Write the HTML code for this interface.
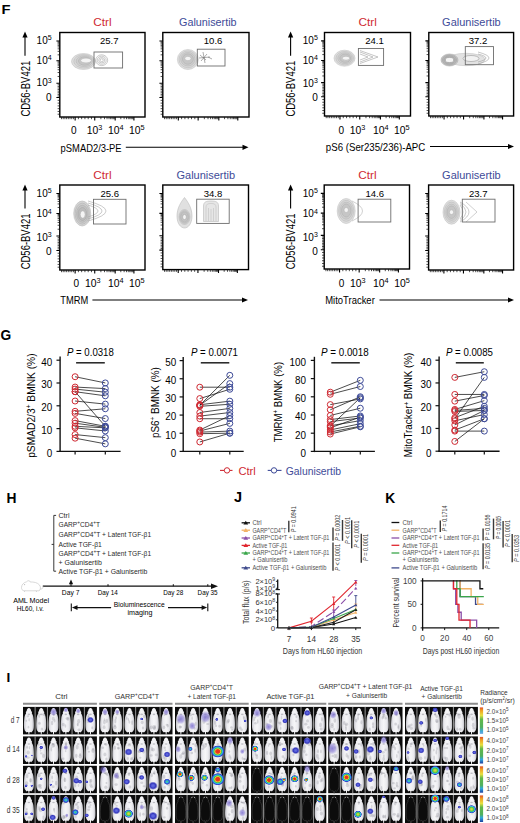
<!DOCTYPE html>
<html><head><meta charset="utf-8"><title>Figure</title>
<style>
html,body{margin:0;padding:0;background:#fff;}
body{width:520px;height:823px;overflow:hidden;}
svg{display:block;font-family:"Liberation Sans", sans-serif;}
</style></head><body>
<svg width="520" height="823" viewBox="0 0 520 823">
<text x="1.40" y="14.20" font-size="13.5" fill="#000" textLength="9.00" lengthAdjust="spacingAndGlyphs" font-weight="bold">F</text>
<text x="102.50" y="25.80" font-size="11.2" text-anchor="middle" fill="#cf2a33" textLength="18.40" lengthAdjust="spacingAndGlyphs">Ctrl</text>
<text x="207.80" y="25.80" font-size="11.2" text-anchor="middle" fill="#3e4b98" textLength="57.60" lengthAdjust="spacingAndGlyphs">Galunisertib</text>
<text x="367.70" y="25.80" font-size="11.2" text-anchor="middle" fill="#cf2a33" textLength="18.40" lengthAdjust="spacingAndGlyphs">Ctrl</text>
<text x="471.40" y="25.80" font-size="11.2" text-anchor="middle" fill="#3e4b98" textLength="58.60" lengthAdjust="spacingAndGlyphs">Galunisertib</text>
<text x="102.50" y="179.20" font-size="11.2" text-anchor="middle" fill="#cf2a33" textLength="18.40" lengthAdjust="spacingAndGlyphs">Ctrl</text>
<text x="205.80" y="179.20" font-size="11.2" text-anchor="middle" fill="#3e4b98" textLength="58.60" lengthAdjust="spacingAndGlyphs">Galunisertib</text>
<text x="367.40" y="179.20" font-size="11.2" text-anchor="middle" fill="#cf2a33" textLength="18.40" lengthAdjust="spacingAndGlyphs">Ctrl</text>
<text x="471.40" y="179.20" font-size="11.2" text-anchor="middle" fill="#3e4b98" textLength="58.60" lengthAdjust="spacingAndGlyphs">Galunisertib</text>
<ellipse cx="83.50" cy="61.50" rx="12.00" ry="8.00" fill="rgb(222,222,222)" stroke="rgb(196,196,196)" stroke-width="0.6"/>
<ellipse cx="83.90" cy="61.34" rx="10.08" ry="6.72" fill="rgb(214,214,214)" stroke="rgb(190,190,190)" stroke-width="0.6"/>
<ellipse cx="84.30" cy="61.18" rx="8.16" ry="5.44" fill="rgb(206,206,206)" stroke="rgb(184,184,184)" stroke-width="0.6"/>
<ellipse cx="84.70" cy="61.02" rx="6.24" ry="4.16" fill="rgb(198,198,198)" stroke="rgb(178,178,178)" stroke-width="0.6"/>
<ellipse cx="86.00" cy="60.50" rx="5.40" ry="2.40" fill="#f4f4f4" stroke="rgb(180,180,180)" stroke-width="0.6"/>
<ellipse cx="101.70" cy="60.20" rx="6.00" ry="5.40" fill="none" stroke="#9c9c9c" stroke-width="0.55"/>
<ellipse cx="101.70" cy="60.20" rx="4.50" ry="4.05" fill="none" stroke="#9c9c9c" stroke-width="0.55"/>
<ellipse cx="101.70" cy="60.20" rx="3.00" ry="2.70" fill="none" stroke="#9c9c9c" stroke-width="0.55"/>
<ellipse cx="101.70" cy="60.20" rx="1.60" ry="1.44" fill="none" stroke="#9c9c9c" stroke-width="0.55"/>
<rect x="94.00" y="52.00" width="28.60" height="16.00" fill="none" stroke="#6d6d6d" stroke-width="0.9" />
<text x="109.20" y="43.80" font-size="9.8" text-anchor="middle" textLength="18.60" lengthAdjust="spacingAndGlyphs">25.7</text>
<rect x="59.80" y="32.50" width="85.20" height="84.50" fill="none" stroke="#000" stroke-width="1.4" />
<path d="M56.40,40.95H59.80M56.40,60.81H59.80M56.40,83.20H59.80M56.40,97.56H59.80M75.14,117.00V120.40M94.73,117.00V120.40M115.18,117.00V120.40M133.92,117.00V120.40" stroke="#000" stroke-width="1.1" fill="none" />
<path d="M57.60,54.83H59.80M57.60,51.33H59.80M57.60,48.85H59.80M57.60,46.93H59.80M57.60,45.36H59.80M57.60,44.03H59.80M57.60,42.87H59.80M57.60,41.86H59.80M57.60,76.46H59.80M57.60,72.52H59.80M57.60,69.72H59.80M57.60,67.55H59.80M57.60,65.78H59.80M57.60,64.28H59.80M57.60,62.98H59.80M57.60,61.83H59.80M57.60,95.97H59.80M57.60,94.37H59.80M57.60,92.78H59.80M57.60,91.18H59.80M57.60,89.58H59.80M57.60,87.99H59.80M57.60,86.39H59.80M57.60,84.80H59.80M57.60,100.34H59.80M57.60,103.12H59.80M57.60,105.89H59.80M57.60,108.67H59.80M57.60,111.45H59.80M57.60,114.22H59.80M73.43,117.00V119.20M71.73,117.00V119.20M70.02,117.00V119.20M68.32,117.00V119.20M66.62,117.00V119.20M64.91,117.00V119.20M63.21,117.00V119.20M61.50,117.00V119.20M78.40,117.00V119.20M81.67,117.00V119.20M84.93,117.00V119.20M88.20,117.00V119.20M91.47,117.00V119.20M100.89,117.00V119.20M104.49,117.00V119.20M107.04,117.00V119.20M109.02,117.00V119.20M110.64,117.00V119.20M112.01,117.00V119.20M113.20,117.00V119.20M114.24,117.00V119.20M120.82,117.00V119.20M124.12,117.00V119.20M126.47,117.00V119.20M128.28,117.00V119.20M129.77,117.00V119.20M131.02,117.00V119.20M132.11,117.00V119.20M133.07,117.00V119.20" stroke="#111" stroke-width="0.75" fill="none" />
<ellipse cx="187.90" cy="59.50" rx="10.50" ry="10.00" fill="rgb(222,222,222)" stroke="rgb(196,196,196)" stroke-width="0.6"/>
<ellipse cx="187.90" cy="59.34" rx="8.82" ry="8.40" fill="rgb(214,214,214)" stroke="rgb(190,190,190)" stroke-width="0.6"/>
<ellipse cx="187.90" cy="59.18" rx="7.14" ry="6.80" fill="rgb(206,206,206)" stroke="rgb(184,184,184)" stroke-width="0.6"/>
<ellipse cx="187.90" cy="59.02" rx="5.46" ry="5.20" fill="rgb(198,198,198)" stroke="rgb(178,178,178)" stroke-width="0.6"/>
<ellipse cx="187.90" cy="58.50" rx="3.15" ry="2.20" fill="#f4f4f4" stroke="rgb(180,180,180)" stroke-width="0.6"/>
<path d="M200,55 L206,60 M201,61 L207,54 M203,52 L205,63 M208,57 L212,59 M199,58 L210,57" fill="none" stroke="#666" stroke-width="0.55"/>
<rect x="197.30" y="49.20" width="27.70" height="16.80" fill="none" stroke="#6d6d6d" stroke-width="0.9" />
<text x="213.10" y="43.80" font-size="9.8" text-anchor="middle" textLength="18.60" lengthAdjust="spacingAndGlyphs">10.6</text>
<rect x="162.80" y="32.50" width="86.20" height="84.50" fill="none" stroke="#000" stroke-width="1.4" />
<path d="M159.40,40.95H162.80M159.40,60.81H162.80M159.40,83.20H162.80M159.40,97.56H162.80M178.32,117.00V120.40M198.14,117.00V120.40M218.83,117.00V120.40M237.79,117.00V120.40" stroke="#000" stroke-width="1.1" fill="none" />
<path d="M160.60,54.83H162.80M160.60,51.33H162.80M160.60,48.85H162.80M160.60,46.93H162.80M160.60,45.36H162.80M160.60,44.03H162.80M160.60,42.87H162.80M160.60,41.86H162.80M160.60,76.46H162.80M160.60,72.52H162.80M160.60,69.72H162.80M160.60,67.55H162.80M160.60,65.78H162.80M160.60,64.28H162.80M160.60,62.98H162.80M160.60,61.83H162.80M160.60,95.97H162.80M160.60,94.37H162.80M160.60,92.78H162.80M160.60,91.18H162.80M160.60,89.58H162.80M160.60,87.99H162.80M160.60,86.39H162.80M160.60,84.80H162.80M160.60,100.34H162.80M160.60,103.12H162.80M160.60,105.89H162.80M160.60,108.67H162.80M160.60,111.45H162.80M160.60,114.22H162.80M176.59,117.00V119.20M174.87,117.00V119.20M173.14,117.00V119.20M171.42,117.00V119.20M169.70,117.00V119.20M167.97,117.00V119.20M166.25,117.00V119.20M164.52,117.00V119.20M181.62,117.00V119.20M184.92,117.00V119.20M188.23,117.00V119.20M191.53,117.00V119.20M194.84,117.00V119.20M204.37,117.00V119.20M208.01,117.00V119.20M210.60,117.00V119.20M212.60,117.00V119.20M214.24,117.00V119.20M215.63,117.00V119.20M216.83,117.00V119.20M217.88,117.00V119.20M224.54,117.00V119.20M227.88,117.00V119.20M230.25,117.00V119.20M232.09,117.00V119.20M233.59,117.00V119.20M234.86,117.00V119.20M235.96,117.00V119.20M236.93,117.00V119.20" stroke="#111" stroke-width="0.75" fill="none" />
<ellipse cx="344.50" cy="58.20" rx="10.50" ry="8.00" fill="rgb(222,222,222)" stroke="rgb(196,196,196)" stroke-width="0.6"/>
<ellipse cx="344.74" cy="58.20" rx="8.82" ry="6.72" fill="rgb(214,214,214)" stroke="rgb(190,190,190)" stroke-width="0.6"/>
<ellipse cx="344.98" cy="58.20" rx="7.14" ry="5.44" fill="rgb(206,206,206)" stroke="rgb(184,184,184)" stroke-width="0.6"/>
<ellipse cx="345.22" cy="58.20" rx="5.46" ry="4.16" fill="rgb(198,198,198)" stroke="rgb(178,178,178)" stroke-width="0.6"/>
<ellipse cx="346.00" cy="58.20" rx="3.67" ry="2.00" fill="#f4f4f4" stroke="rgb(180,180,180)" stroke-width="0.6"/>
<path d="M360.00,54.00 L368.00,57.00 L360.00,60.00" fill="none" stroke="#a0a0a0" stroke-width="0.6"/>
<path d="M360.00,52.00 L373.00,57.00 L360.00,62.00" fill="none" stroke="#a0a0a0" stroke-width="0.6"/>
<path d="M360.00,50.50 L378.00,57.00 L360.00,63.50" fill="none" stroke="#a0a0a0" stroke-width="0.6"/>
<rect x="358.40" y="48.50" width="25.20" height="16.90" fill="none" stroke="#6d6d6d" stroke-width="0.9" />
<text x="374.50" y="43.80" font-size="9.8" text-anchor="middle" textLength="18.60" lengthAdjust="spacingAndGlyphs">24.1</text>
<rect x="324.50" y="32.50" width="86.00" height="83.50" fill="none" stroke="#000" stroke-width="1.4" />
<path d="M321.10,40.85H324.50M321.10,60.47H324.50M321.10,82.60H324.50M321.10,96.80H324.50M339.98,116.00V119.40M359.76,116.00V119.40M380.40,116.00V119.40M399.32,116.00V119.40" stroke="#000" stroke-width="1.1" fill="none" />
<path d="M322.30,54.57H324.50M322.30,51.11H324.50M322.30,48.66H324.50M322.30,46.76H324.50M322.30,45.20H324.50M322.30,43.89H324.50M322.30,42.75H324.50M322.30,41.75H324.50M322.30,75.94H324.50M322.30,72.04H324.50M322.30,69.28H324.50M322.30,67.13H324.50M322.30,65.38H324.50M322.30,63.90H324.50M322.30,62.62H324.50M322.30,61.48H324.50M322.30,95.22H324.50M322.30,93.64H324.50M322.30,92.06H324.50M322.30,90.49H324.50M322.30,88.91H324.50M322.30,87.33H324.50M322.30,85.75H324.50M322.30,84.18H324.50M322.30,99.54H324.50M322.30,102.28H324.50M322.30,105.03H324.50M322.30,107.77H324.50M322.30,110.51H324.50M322.30,113.26H324.50M338.26,116.00V118.20M336.54,116.00V118.20M334.82,116.00V118.20M333.10,116.00V118.20M331.38,116.00V118.20M329.66,116.00V118.20M327.94,116.00V118.20M326.22,116.00V118.20M343.28,116.00V118.20M346.57,116.00V118.20M349.87,116.00V118.20M353.17,116.00V118.20M356.46,116.00V118.20M365.97,116.00V118.20M369.61,116.00V118.20M372.19,116.00V118.20M374.19,116.00V118.20M375.82,116.00V118.20M377.20,116.00V118.20M378.40,116.00V118.20M379.46,116.00V118.20M386.10,116.00V118.20M389.43,116.00V118.20M391.79,116.00V118.20M393.62,116.00V118.20M395.12,116.00V118.20M396.39,116.00V118.20M397.49,116.00V118.20M398.45,116.00V118.20" stroke="#111" stroke-width="0.75" fill="none" />
<ellipse cx="466.00" cy="59.50" rx="19.00" ry="6.20" fill="#e2e2e2" stroke="#c4c4c4" stroke-width="0.6"/>
<ellipse cx="449.50" cy="60.00" rx="8.50" ry="6.00" fill="rgb(197,197,197)" stroke="rgb(171,171,171)" stroke-width="0.6"/>
<ellipse cx="449.50" cy="60.00" rx="7.14" ry="5.04" fill="rgb(189,189,189)" stroke="rgb(165,165,165)" stroke-width="0.6"/>
<ellipse cx="449.50" cy="60.00" rx="5.78" ry="4.08" fill="rgb(181,181,181)" stroke="rgb(159,159,159)" stroke-width="0.6"/>
<ellipse cx="449.50" cy="60.00" rx="4.25" ry="2.52" fill="#f4f4f4" stroke="rgb(155,155,155)" stroke-width="0.6"/>
<ellipse cx="471.00" cy="58.50" rx="8.00" ry="3.00" fill="#f2f2f2" stroke="#9a9a9a" stroke-width="0.6"/>
<path d="M478.00,54.00 Q494.00,58.00 478.00,62.00" fill="none" stroke="#a0a0a0" stroke-width="0.6"/>
<path d="M478.00,52.00 Q500.00,58.00 478.00,64.00" fill="none" stroke="#a0a0a0" stroke-width="0.6"/>
<rect x="465.30" y="46.60" width="28.20" height="18.10" fill="none" stroke="#6d6d6d" stroke-width="0.9" />
<text x="478.00" y="43.80" font-size="9.8" text-anchor="middle" textLength="18.60" lengthAdjust="spacingAndGlyphs">37.2</text>
<rect x="428.80" y="32.50" width="84.80" height="83.50" fill="none" stroke="#000" stroke-width="1.4" />
<path d="M425.40,40.85H428.80M425.40,60.47H428.80M425.40,82.60H428.80M425.40,96.80H428.80M444.06,116.00V119.40M463.57,116.00V119.40M483.92,116.00V119.40M502.58,116.00V119.40" stroke="#000" stroke-width="1.1" fill="none" />
<path d="M426.60,54.57H428.80M426.60,51.11H428.80M426.60,48.66H428.80M426.60,46.76H428.80M426.60,45.20H428.80M426.60,43.89H428.80M426.60,42.75H428.80M426.60,41.75H428.80M426.60,75.94H428.80M426.60,72.04H428.80M426.60,69.28H428.80M426.60,67.13H428.80M426.60,65.38H428.80M426.60,63.90H428.80M426.60,62.62H428.80M426.60,61.48H428.80M426.60,95.22H428.80M426.60,93.64H428.80M426.60,92.06H428.80M426.60,90.49H428.80M426.60,88.91H428.80M426.60,87.33H428.80M426.60,85.75H428.80M426.60,84.18H428.80M426.60,99.54H428.80M426.60,102.28H428.80M426.60,105.03H428.80M426.60,107.77H428.80M426.60,110.51H428.80M426.60,113.26H428.80M442.37,116.00V118.20M440.67,116.00V118.20M438.98,116.00V118.20M437.28,116.00V118.20M435.58,116.00V118.20M433.89,116.00V118.20M432.19,116.00V118.20M430.50,116.00V118.20M447.31,116.00V118.20M450.57,116.00V118.20M453.82,116.00V118.20M457.07,116.00V118.20M460.32,116.00V118.20M469.69,116.00V118.20M473.28,116.00V118.20M475.82,116.00V118.20M477.79,116.00V118.20M479.40,116.00V118.20M480.77,116.00V118.20M481.95,116.00V118.20M482.99,116.00V118.20M489.54,116.00V118.20M492.82,116.00V118.20M495.15,116.00V118.20M496.96,116.00V118.20M498.44,116.00V118.20M499.69,116.00V118.20M500.77,116.00V118.20M501.72,116.00V118.20" stroke="#111" stroke-width="0.75" fill="none" />
<ellipse cx="82.20" cy="213.50" rx="8.50" ry="12.50" fill="rgb(212,212,212)" stroke="rgb(186,186,186)" stroke-width="0.6"/>
<ellipse cx="82.28" cy="213.66" rx="7.14" ry="10.50" fill="rgb(204,204,204)" stroke="rgb(180,180,180)" stroke-width="0.6"/>
<ellipse cx="82.36" cy="213.82" rx="5.78" ry="8.50" fill="rgb(196,196,196)" stroke="rgb(174,174,174)" stroke-width="0.6"/>
<ellipse cx="82.44" cy="213.98" rx="4.42" ry="6.50" fill="rgb(188,188,188)" stroke="rgb(168,168,168)" stroke-width="0.6"/>
<ellipse cx="82.70" cy="214.50" rx="2.55" ry="3.75" fill="#f4f4f4" stroke="rgb(170,170,170)" stroke-width="0.6"/>
<path d="M88.00,205.00 Q108.00,211.00 88.00,217.00" fill="none" stroke="#a8a8a8" stroke-width="0.6"/>
<path d="M88.00,203.00 Q116.00,211.00 88.00,219.00" fill="none" stroke="#a8a8a8" stroke-width="0.6"/>
<path d="M88.00,201.00 Q124.00,211.00 88.00,221.00" fill="none" stroke="#a8a8a8" stroke-width="0.6"/>
<rect x="93.50" y="199.30" width="32.50" height="24.70" fill="none" stroke="#6d6d6d" stroke-width="0.9" />
<text x="109.70" y="196.80" font-size="9.8" text-anchor="middle" textLength="18.60" lengthAdjust="spacingAndGlyphs">25.6</text>
<rect x="59.80" y="185.00" width="85.20" height="85.00" fill="none" stroke="#000" stroke-width="1.4" />
<path d="M56.40,193.50H59.80M56.40,213.47H59.80M56.40,236.00H59.80M56.40,250.45H59.80M75.14,270.00V273.40M94.73,270.00V273.40M115.18,270.00V273.40M133.92,270.00V273.40" stroke="#000" stroke-width="1.1" fill="none" />
<path d="M57.60,207.46H59.80M57.60,203.94H59.80M57.60,201.45H59.80M57.60,199.51H59.80M57.60,197.93H59.80M57.60,196.59H59.80M57.60,195.44H59.80M57.60,194.41H59.80M57.60,229.22H59.80M57.60,225.25H59.80M57.60,222.44H59.80M57.60,220.26H59.80M57.60,218.47H59.80M57.60,216.96H59.80M57.60,215.66H59.80M57.60,214.51H59.80M57.60,248.84H59.80M57.60,247.24H59.80M57.60,245.63H59.80M57.60,244.03H59.80M57.60,242.42H59.80M57.60,240.82H59.80M57.60,239.21H59.80M57.60,237.61H59.80M57.60,253.24H59.80M57.60,256.04H59.80M57.60,258.83H59.80M57.60,261.62H59.80M57.60,264.41H59.80M57.60,267.21H59.80M73.43,270.00V272.20M71.73,270.00V272.20M70.02,270.00V272.20M68.32,270.00V272.20M66.62,270.00V272.20M64.91,270.00V272.20M63.21,270.00V272.20M61.50,270.00V272.20M78.40,270.00V272.20M81.67,270.00V272.20M84.93,270.00V272.20M88.20,270.00V272.20M91.47,270.00V272.20M100.89,270.00V272.20M104.49,270.00V272.20M107.04,270.00V272.20M109.02,270.00V272.20M110.64,270.00V272.20M112.01,270.00V272.20M113.20,270.00V272.20M114.24,270.00V272.20M120.82,270.00V272.20M124.12,270.00V272.20M126.47,270.00V272.20M128.28,270.00V272.20M129.77,270.00V272.20M131.02,270.00V272.20M132.11,270.00V272.20M133.07,270.00V272.20" stroke="#111" stroke-width="0.75" fill="none" />
<path d="M184.5,197.5 C188,202 192,208 192,216 C192,224 188,228 184.5,228 C181,228 177,224 177,216 C177,208 181,202 184.5,197.5 Z" fill="#e0e0e0" stroke="#bcbcbc" stroke-width="0.6"/>
<ellipse cx="184.50" cy="217.00" rx="5.50" ry="7.50" fill="rgb(212,212,212)" stroke="rgb(186,186,186)" stroke-width="0.6"/>
<ellipse cx="184.50" cy="217.00" rx="4.62" ry="6.30" fill="rgb(204,204,204)" stroke="rgb(180,180,180)" stroke-width="0.6"/>
<ellipse cx="184.50" cy="217.00" rx="3.74" ry="5.10" fill="rgb(196,196,196)" stroke="rgb(174,174,174)" stroke-width="0.6"/>
<ellipse cx="184.50" cy="217.00" rx="1.92" ry="2.62" fill="#f4f4f4" stroke="rgb(170,170,170)" stroke-width="0.6"/>
<path d="M203.5,221.5 L203.5,206 C203.5,202 206,201 211,201 C216,201 218.5,202 218.5,206 L218.5,221.5 Z" fill="#e6e6e6" stroke="#b8b8b8" stroke-width="0.6"/>
<path d="M206,221 L206,207 C206,204 208,203.5 211,203.5 C214,203.5 216,204 216,207 L216,221 M208.5,221 L208.5,208 M213.5,221 L213.5,208 M211,221 L211,209" fill="none" stroke="#bbbbbb" stroke-width="0.5"/>
<rect x="196.70" y="199.20" width="32.50" height="24.20" fill="none" stroke="#6d6d6d" stroke-width="0.9" />
<text x="213.00" y="196.80" font-size="9.8" text-anchor="middle" textLength="18.60" lengthAdjust="spacingAndGlyphs">34.8</text>
<rect x="162.80" y="185.00" width="85.70" height="84.60" fill="none" stroke="#000" stroke-width="1.4" />
<path d="M159.40,193.46H162.80M159.40,213.34H162.80M159.40,235.76H162.80M159.40,250.14H162.80M178.23,269.60V273.00M197.94,269.60V273.00M218.50,269.60V273.00M237.36,269.60V273.00" stroke="#000" stroke-width="1.1" fill="none" />
<path d="M160.60,207.36H162.80M160.60,203.86H162.80M160.60,201.37H162.80M160.60,199.44H162.80M160.60,197.87H162.80M160.60,196.54H162.80M160.60,195.39H162.80M160.60,194.37H162.80M160.60,229.01H162.80M160.60,225.06H162.80M160.60,222.26H162.80M160.60,220.09H162.80M160.60,218.31H162.80M160.60,216.81H162.80M160.60,215.51H162.80M160.60,214.37H162.80M160.60,248.54H162.80M160.60,246.95H162.80M160.60,245.35H162.80M160.60,243.75H162.80M160.60,242.15H162.80M160.60,240.55H162.80M160.60,238.96H162.80M160.60,237.36H162.80M160.60,252.92H162.80M160.60,255.70H162.80M160.60,258.48H162.80M160.60,261.26H162.80M160.60,264.04H162.80M160.60,266.82H162.80M176.51,269.60V271.80M174.80,269.60V271.80M173.08,269.60V271.80M171.37,269.60V271.80M169.66,269.60V271.80M167.94,269.60V271.80M166.23,269.60V271.80M164.51,269.60V271.80M181.51,269.60V271.80M184.80,269.60V271.80M188.08,269.60V271.80M191.37,269.60V271.80M194.65,269.60V271.80M204.13,269.60V271.80M207.75,269.60V271.80M210.32,269.60V271.80M212.31,269.60V271.80M213.94,269.60V271.80M215.32,269.60V271.80M216.51,269.60V271.80M217.56,269.60V271.80M224.18,269.60V271.80M227.50,269.60V271.80M229.86,269.60V271.80M231.68,269.60V271.80M233.18,269.60V271.80M234.44,269.60V271.80M235.53,269.60V271.80M236.50,269.60V271.80" stroke="#111" stroke-width="0.75" fill="none" />
<ellipse cx="346.20" cy="211.00" rx="9.00" ry="12.50" fill="rgb(222,222,222)" stroke="rgb(196,196,196)" stroke-width="0.6"/>
<ellipse cx="346.20" cy="210.84" rx="7.56" ry="10.50" fill="rgb(214,214,214)" stroke="rgb(190,190,190)" stroke-width="0.6"/>
<ellipse cx="346.20" cy="210.68" rx="6.12" ry="8.50" fill="rgb(206,206,206)" stroke="rgb(184,184,184)" stroke-width="0.6"/>
<ellipse cx="346.20" cy="210.52" rx="4.68" ry="6.50" fill="rgb(198,198,198)" stroke="rgb(178,178,178)" stroke-width="0.6"/>
<ellipse cx="346.20" cy="210.00" rx="2.25" ry="2.50" fill="#f4f4f4" stroke="rgb(180,180,180)" stroke-width="0.6"/>
<path d="M352.00,201.00 Q373.00,211.00 352.00,221.00" fill="none" stroke="#b0b0b0" stroke-width="0.6"/>
<rect x="358.10" y="199.20" width="32.70" height="22.80" fill="none" stroke="#6d6d6d" stroke-width="0.9" />
<text x="374.80" y="196.80" font-size="9.8" text-anchor="middle" textLength="18.60" lengthAdjust="spacingAndGlyphs">14.6</text>
<rect x="324.20" y="185.00" width="85.30" height="84.00" fill="none" stroke="#000" stroke-width="1.4" />
<path d="M320.80,193.40H324.20M320.80,213.14H324.20M320.80,235.40H324.20M320.80,249.68H324.20M339.55,269.00V272.40M359.17,269.00V272.40M379.64,269.00V272.40M398.41,269.00V272.40" stroke="#000" stroke-width="1.1" fill="none" />
<path d="M322.00,207.20H324.20M322.00,203.72H324.20M322.00,201.26H324.20M322.00,199.34H324.20M322.00,197.78H324.20M322.00,196.46H324.20M322.00,195.31H324.20M322.00,194.30H324.20M322.00,228.70H324.20M322.00,224.78H324.20M322.00,222.00H324.20M322.00,219.84H324.20M322.00,218.08H324.20M322.00,216.59H324.20M322.00,215.30H324.20M322.00,214.16H324.20M322.00,248.09H324.20M322.00,246.51H324.20M322.00,244.92H324.20M322.00,243.33H324.20M322.00,241.75H324.20M322.00,240.16H324.20M322.00,238.57H324.20M322.00,236.99H324.20M322.00,252.44H324.20M322.00,255.20H324.20M322.00,257.96H324.20M322.00,260.72H324.20M322.00,263.48H324.20M322.00,266.24H324.20M337.85,269.00V271.20M336.14,269.00V271.20M334.44,269.00V271.20M332.73,269.00V271.20M331.02,269.00V271.20M329.32,269.00V271.20M327.61,269.00V271.20M325.91,269.00V271.20M342.82,269.00V271.20M346.09,269.00V271.20M349.36,269.00V271.20M352.63,269.00V271.20M355.90,269.00V271.20M365.34,269.00V271.20M368.94,269.00V271.20M371.50,269.00V271.20M373.48,269.00V271.20M375.10,269.00V271.20M376.47,269.00V271.20M377.66,269.00V271.20M378.71,269.00V271.20M385.29,269.00V271.20M388.60,269.00V271.20M390.94,269.00V271.20M392.76,269.00V271.20M394.25,269.00V271.20M395.50,269.00V271.20M396.59,269.00V271.20M397.55,269.00V271.20" stroke="#111" stroke-width="0.75" fill="none" />
<ellipse cx="451.50" cy="212.20" rx="8.50" ry="12.00" fill="rgb(222,222,222)" stroke="rgb(196,196,196)" stroke-width="0.6"/>
<ellipse cx="451.50" cy="212.20" rx="7.14" ry="10.08" fill="rgb(214,214,214)" stroke="rgb(190,190,190)" stroke-width="0.6"/>
<ellipse cx="451.50" cy="212.20" rx="5.78" ry="8.16" fill="rgb(206,206,206)" stroke="rgb(184,184,184)" stroke-width="0.6"/>
<ellipse cx="451.50" cy="212.20" rx="4.42" ry="6.24" fill="rgb(198,198,198)" stroke="rgb(178,178,178)" stroke-width="0.6"/>
<ellipse cx="451.50" cy="212.20" rx="2.12" ry="2.40" fill="#f4f4f4" stroke="rgb(180,180,180)" stroke-width="0.6"/>
<path d="M460.00,205.00 Q466.00,212.00 460.00,219.00" fill="none" stroke="#a8a8a8" stroke-width="0.6"/>
<path d="M460.00,203.50 Q472.00,212.00 460.00,220.50" fill="none" stroke="#a8a8a8" stroke-width="0.6"/>
<path d="M460.00,202.00 Q478.00,212.00 460.00,222.00" fill="none" stroke="#a8a8a8" stroke-width="0.6"/>
<path d="M466.00,202.00 L477.00,212.00 L466.00,222.00" fill="none" stroke="#b0b0b0" stroke-width="0.6"/>
<rect x="462.30" y="199.20" width="32.70" height="22.80" fill="none" stroke="#6d6d6d" stroke-width="0.9" />
<text x="478.20" y="196.80" font-size="9.8" text-anchor="middle" textLength="18.60" lengthAdjust="spacingAndGlyphs">23.7</text>
<rect x="428.60" y="185.00" width="85.00" height="85.00" fill="none" stroke="#000" stroke-width="1.4" />
<path d="M425.20,193.50H428.60M425.20,213.47H428.60M425.20,236.00H428.60M425.20,250.45H428.60M443.90,270.00V273.40M463.45,270.00V273.40M483.85,270.00V273.40M502.55,270.00V273.40" stroke="#000" stroke-width="1.1" fill="none" />
<path d="M426.40,207.46H428.60M426.40,203.94H428.60M426.40,201.45H428.60M426.40,199.51H428.60M426.40,197.93H428.60M426.40,196.59H428.60M426.40,195.44H428.60M426.40,194.41H428.60M426.40,229.22H428.60M426.40,225.25H428.60M426.40,222.44H428.60M426.40,220.26H428.60M426.40,218.47H428.60M426.40,216.96H428.60M426.40,215.66H428.60M426.40,214.51H428.60M426.40,248.84H428.60M426.40,247.24H428.60M426.40,245.63H428.60M426.40,244.03H428.60M426.40,242.42H428.60M426.40,240.82H428.60M426.40,239.21H428.60M426.40,237.61H428.60M426.40,253.24H428.60M426.40,256.04H428.60M426.40,258.83H428.60M426.40,261.62H428.60M426.40,264.41H428.60M426.40,267.21H428.60M442.20,270.00V272.20M440.50,270.00V272.20M438.80,270.00V272.20M437.10,270.00V272.20M435.40,270.00V272.20M433.70,270.00V272.20M432.00,270.00V272.20M430.30,270.00V272.20M447.16,270.00V272.20M450.42,270.00V272.20M453.68,270.00V272.20M456.93,270.00V272.20M460.19,270.00V272.20M469.59,270.00V272.20M473.18,270.00V272.20M475.73,270.00V272.20M477.71,270.00V272.20M479.32,270.00V272.20M480.69,270.00V272.20M481.87,270.00V272.20M482.92,270.00V272.20M489.48,270.00V272.20M492.77,270.00V272.20M495.11,270.00V272.20M496.92,270.00V272.20M498.40,270.00V272.20M499.65,270.00V272.20M500.74,270.00V272.20M501.69,270.00V272.20" stroke="#111" stroke-width="0.75" fill="none" />
<text x="51.60" y="44.20" font-size="10.2" text-anchor="end" textLength="15.00" lengthAdjust="spacingAndGlyphs">10<tspan dy="-3.8" font-size="7.2">5</tspan></text>
<text x="51.60" y="64.20" font-size="10.2" text-anchor="end" textLength="15.00" lengthAdjust="spacingAndGlyphs">10<tspan dy="-3.8" font-size="7.2">4</tspan></text>
<text x="51.60" y="86.40" font-size="10.2" text-anchor="end" textLength="15.00" lengthAdjust="spacingAndGlyphs">10<tspan dy="-3.8" font-size="7.2">3</tspan></text>
<text x="51.60" y="101.10" font-size="10.2" text-anchor="end" textLength="5.60" lengthAdjust="spacingAndGlyphs">0</text>
<text x="29.60" y="116.60" font-size="12.6" textLength="55.80" lengthAdjust="spacingAndGlyphs" transform="rotate(-90 29.60 116.60)">CD56-BV421</text>
<line x1="25.00" y1="55.80" x2="25.00" y2="36.50" stroke="#000" stroke-width="1.1" />
<path d="M22.40,37.50 L25.00,31.50 L27.60,37.50 Z" stroke="#231f20" stroke-width="0" fill="#000" />
<text x="317.80" y="44.20" font-size="10.2" text-anchor="end" textLength="15.00" lengthAdjust="spacingAndGlyphs">10<tspan dy="-3.8" font-size="7.2">5</tspan></text>
<text x="317.80" y="64.20" font-size="10.2" text-anchor="end" textLength="15.00" lengthAdjust="spacingAndGlyphs">10<tspan dy="-3.8" font-size="7.2">4</tspan></text>
<text x="317.80" y="86.60" font-size="10.2" text-anchor="end" textLength="15.00" lengthAdjust="spacingAndGlyphs">10<tspan dy="-3.8" font-size="7.2">3</tspan></text>
<text x="317.80" y="101.10" font-size="10.2" text-anchor="end" textLength="5.60" lengthAdjust="spacingAndGlyphs">0</text>
<text x="295.20" y="116.60" font-size="12.6" textLength="55.80" lengthAdjust="spacingAndGlyphs" transform="rotate(-90 295.20 116.60)">CD56-BV421</text>
<line x1="290.60" y1="55.80" x2="290.60" y2="36.50" stroke="#000" stroke-width="1.1" />
<path d="M288.00,37.50 L290.60,31.50 L293.20,37.50 Z" stroke="#231f20" stroke-width="0" fill="#000" />
<text x="51.60" y="196.60" font-size="10.2" text-anchor="end" textLength="15.00" lengthAdjust="spacingAndGlyphs">10<tspan dy="-3.8" font-size="7.2">5</tspan></text>
<text x="51.60" y="217.30" font-size="10.2" text-anchor="end" textLength="15.00" lengthAdjust="spacingAndGlyphs">10<tspan dy="-3.8" font-size="7.2">4</tspan></text>
<text x="51.60" y="240.90" font-size="10.2" text-anchor="end" textLength="15.00" lengthAdjust="spacingAndGlyphs">10<tspan dy="-3.8" font-size="7.2">3</tspan></text>
<text x="51.60" y="254.60" font-size="10.2" text-anchor="end" textLength="5.60" lengthAdjust="spacingAndGlyphs">0</text>
<text x="29.60" y="269.30" font-size="12.6" textLength="55.80" lengthAdjust="spacingAndGlyphs" transform="rotate(-90 29.60 269.30)">CD56-BV421</text>
<line x1="25.00" y1="208.50" x2="25.00" y2="189.50" stroke="#000" stroke-width="1.1" />
<path d="M22.40,190.50 L25.00,184.50 L27.60,190.50 Z" stroke="#231f20" stroke-width="0" fill="#000" />
<text x="317.80" y="196.60" font-size="10.2" text-anchor="end" textLength="15.00" lengthAdjust="spacingAndGlyphs">10<tspan dy="-3.8" font-size="7.2">5</tspan></text>
<text x="317.80" y="217.30" font-size="10.2" text-anchor="end" textLength="15.00" lengthAdjust="spacingAndGlyphs">10<tspan dy="-3.8" font-size="7.2">4</tspan></text>
<text x="317.80" y="240.90" font-size="10.2" text-anchor="end" textLength="15.00" lengthAdjust="spacingAndGlyphs">10<tspan dy="-3.8" font-size="7.2">3</tspan></text>
<text x="317.80" y="254.60" font-size="10.2" text-anchor="end" textLength="5.60" lengthAdjust="spacingAndGlyphs">0</text>
<text x="295.20" y="269.30" font-size="12.6" textLength="55.80" lengthAdjust="spacingAndGlyphs" transform="rotate(-90 295.20 269.30)">CD56-BV421</text>
<line x1="290.60" y1="208.50" x2="290.60" y2="189.50" stroke="#000" stroke-width="1.1" />
<path d="M288.00,190.50 L290.60,184.50 L293.20,190.50 Z" stroke="#231f20" stroke-width="0" fill="#000" />
<text x="73.90" y="133.90" font-size="10.2" text-anchor="middle" textLength="5.60" lengthAdjust="spacingAndGlyphs">0</text>
<text x="86.70" y="133.90" font-size="10.2" textLength="15.60" lengthAdjust="spacingAndGlyphs">10<tspan dy="-3.8" font-size="7.2">3</tspan></text>
<text x="107.90" y="133.90" font-size="10.2" textLength="15.60" lengthAdjust="spacingAndGlyphs">10<tspan dy="-3.8" font-size="7.2">4</tspan></text>
<text x="129.00" y="133.90" font-size="10.2" textLength="15.60" lengthAdjust="spacingAndGlyphs">10<tspan dy="-3.8" font-size="7.2">5</tspan></text>
<text x="341.30" y="133.90" font-size="10.2" text-anchor="middle" textLength="5.60" lengthAdjust="spacingAndGlyphs">0</text>
<text x="349.80" y="133.90" font-size="10.2" textLength="15.60" lengthAdjust="spacingAndGlyphs">10<tspan dy="-3.8" font-size="7.2">3</tspan></text>
<text x="372.90" y="133.90" font-size="10.2" textLength="15.60" lengthAdjust="spacingAndGlyphs">10<tspan dy="-3.8" font-size="7.2">4</tspan></text>
<text x="394.00" y="133.90" font-size="10.2" textLength="15.60" lengthAdjust="spacingAndGlyphs">10<tspan dy="-3.8" font-size="7.2">5</tspan></text>
<text x="76.40" y="286.90" font-size="10.2" text-anchor="middle" textLength="5.60" lengthAdjust="spacingAndGlyphs">0</text>
<text x="84.90" y="286.90" font-size="10.2" textLength="15.60" lengthAdjust="spacingAndGlyphs">10<tspan dy="-3.8" font-size="7.2">3</tspan></text>
<text x="108.00" y="286.90" font-size="10.2" textLength="15.60" lengthAdjust="spacingAndGlyphs">10<tspan dy="-3.8" font-size="7.2">4</tspan></text>
<text x="129.10" y="286.90" font-size="10.2" textLength="15.60" lengthAdjust="spacingAndGlyphs">10<tspan dy="-3.8" font-size="7.2">5</tspan></text>
<text x="341.50" y="286.90" font-size="10.2" text-anchor="middle" textLength="5.60" lengthAdjust="spacingAndGlyphs">0</text>
<text x="350.00" y="286.90" font-size="10.2" textLength="15.60" lengthAdjust="spacingAndGlyphs">10<tspan dy="-3.8" font-size="7.2">3</tspan></text>
<text x="373.10" y="286.90" font-size="10.2" textLength="15.60" lengthAdjust="spacingAndGlyphs">10<tspan dy="-3.8" font-size="7.2">4</tspan></text>
<text x="394.20" y="286.90" font-size="10.2" textLength="15.60" lengthAdjust="spacingAndGlyphs">10<tspan dy="-3.8" font-size="7.2">5</tspan></text>
<text x="60.60" y="151.50" font-size="11.4" textLength="61.00" lengthAdjust="spacingAndGlyphs">pSMAD2/3-PE</text>
<line x1="125.80" y1="147.30" x2="244.50" y2="147.30" stroke="#000" stroke-width="1.1" />
<path d="M242.50,144.70 L248.50,147.30 L242.50,149.90 Z" stroke="#231f20" stroke-width="0" fill="#000" />
<text x="325.80" y="151.20" font-size="11.4" textLength="99.50" lengthAdjust="spacingAndGlyphs">pS6 (Ser235/236)-APC</text>
<line x1="430.00" y1="146.50" x2="510.00" y2="146.50" stroke="#000" stroke-width="1.1" />
<path d="M508.00,143.90 L514.00,146.50 L508.00,149.10 Z" stroke="#231f20" stroke-width="0" fill="#000" />
<text x="60.20" y="303.80" font-size="11.4" textLength="28.00" lengthAdjust="spacingAndGlyphs">TMRM</text>
<line x1="92.40" y1="300.00" x2="244.00" y2="300.00" stroke="#000" stroke-width="1.1" />
<path d="M242.00,297.40 L248.00,300.00 L242.00,302.60 Z" stroke="#231f20" stroke-width="0" fill="#000" />
<text x="325.20" y="303.80" font-size="11.4" textLength="49.60" lengthAdjust="spacingAndGlyphs">MitoTracker</text>
<line x1="379.50" y1="300.00" x2="510.00" y2="300.00" stroke="#000" stroke-width="1.1" />
<path d="M508.00,297.40 L514.00,300.00 L508.00,302.60 Z" stroke="#231f20" stroke-width="0" fill="#000" />
<text x="0.40" y="340.20" font-size="13.8" fill="#000" font-weight="bold">G</text>
<path d="M75.10,376.73L105.30,382.93M75.10,387.05L105.30,388.60M75.10,389.10L105.30,392.20M75.10,391.70L105.30,395.82M75.10,391.70L105.30,426.30M75.10,401.00L105.30,404.10M75.10,411.32L105.30,408.75M75.10,413.38L105.30,418.55M75.10,420.62L105.30,426.30M75.10,423.20L105.30,427.32M75.10,426.30L105.30,427.85M75.10,427.85L105.30,430.95M75.10,434.57L105.30,437.65M75.10,438.18L105.30,443.85" stroke="#111" stroke-width="0.75" fill="none" />
<circle cx="75.10" cy="376.73" r="3.0" fill="none" stroke="#cf2a33" stroke-width="1.0"/>
<circle cx="75.10" cy="387.05" r="3.0" fill="none" stroke="#cf2a33" stroke-width="1.0"/>
<circle cx="75.10" cy="389.10" r="3.0" fill="none" stroke="#cf2a33" stroke-width="1.0"/>
<circle cx="75.10" cy="391.70" r="3.0" fill="none" stroke="#cf2a33" stroke-width="1.0"/>
<circle cx="75.10" cy="391.70" r="3.0" fill="none" stroke="#cf2a33" stroke-width="1.0"/>
<circle cx="75.10" cy="401.00" r="3.0" fill="none" stroke="#cf2a33" stroke-width="1.0"/>
<circle cx="75.10" cy="411.32" r="3.0" fill="none" stroke="#cf2a33" stroke-width="1.0"/>
<circle cx="75.10" cy="413.38" r="3.0" fill="none" stroke="#cf2a33" stroke-width="1.0"/>
<circle cx="75.10" cy="420.62" r="3.0" fill="none" stroke="#cf2a33" stroke-width="1.0"/>
<circle cx="75.10" cy="423.20" r="3.0" fill="none" stroke="#cf2a33" stroke-width="1.0"/>
<circle cx="75.10" cy="426.30" r="3.0" fill="none" stroke="#cf2a33" stroke-width="1.0"/>
<circle cx="75.10" cy="427.85" r="3.0" fill="none" stroke="#cf2a33" stroke-width="1.0"/>
<circle cx="75.10" cy="434.57" r="3.0" fill="none" stroke="#cf2a33" stroke-width="1.0"/>
<circle cx="75.10" cy="438.18" r="3.0" fill="none" stroke="#cf2a33" stroke-width="1.0"/>
<circle cx="105.30" cy="382.93" r="3.0" fill="none" stroke="#3e4b98" stroke-width="1.0"/>
<circle cx="105.30" cy="388.60" r="3.0" fill="none" stroke="#3e4b98" stroke-width="1.0"/>
<circle cx="105.30" cy="392.20" r="3.0" fill="none" stroke="#3e4b98" stroke-width="1.0"/>
<circle cx="105.30" cy="395.82" r="3.0" fill="none" stroke="#3e4b98" stroke-width="1.0"/>
<circle cx="105.30" cy="426.30" r="3.0" fill="none" stroke="#3e4b98" stroke-width="1.0"/>
<circle cx="105.30" cy="404.10" r="3.0" fill="none" stroke="#3e4b98" stroke-width="1.0"/>
<circle cx="105.30" cy="408.75" r="3.0" fill="none" stroke="#3e4b98" stroke-width="1.0"/>
<circle cx="105.30" cy="418.55" r="3.0" fill="none" stroke="#3e4b98" stroke-width="1.0"/>
<circle cx="105.30" cy="426.30" r="3.0" fill="none" stroke="#3e4b98" stroke-width="1.0"/>
<circle cx="105.30" cy="427.32" r="3.0" fill="none" stroke="#3e4b98" stroke-width="1.0"/>
<circle cx="105.30" cy="427.85" r="3.0" fill="none" stroke="#3e4b98" stroke-width="1.0"/>
<circle cx="105.30" cy="430.95" r="3.0" fill="none" stroke="#3e4b98" stroke-width="1.0"/>
<circle cx="105.30" cy="437.65" r="3.0" fill="none" stroke="#3e4b98" stroke-width="1.0"/>
<circle cx="105.30" cy="443.85" r="3.0" fill="none" stroke="#3e4b98" stroke-width="1.0"/>
<line x1="60.10" y1="356.60" x2="60.10" y2="452.10" stroke="#111" stroke-width="1.4" />
<line x1="59.40" y1="451.40" x2="120.60" y2="451.40" stroke="#111" stroke-width="1.4" />
<line x1="56.50" y1="451.40" x2="60.10" y2="451.40" stroke="#111" stroke-width="1.2" />
<text x="52.30" y="456.70" font-size="10.8" text-anchor="end" textLength="5.50" lengthAdjust="spacingAndGlyphs">0</text>
<line x1="56.50" y1="428.60" x2="60.10" y2="428.60" stroke="#111" stroke-width="1.2" />
<text x="52.30" y="433.90" font-size="10.8" text-anchor="end" textLength="11.00" lengthAdjust="spacingAndGlyphs">10</text>
<line x1="56.50" y1="405.80" x2="60.10" y2="405.80" stroke="#111" stroke-width="1.2" />
<text x="52.30" y="411.10" font-size="10.8" text-anchor="end" textLength="11.00" lengthAdjust="spacingAndGlyphs">20</text>
<line x1="56.50" y1="383.00" x2="60.10" y2="383.00" stroke="#111" stroke-width="1.2" />
<text x="52.30" y="388.30" font-size="10.8" text-anchor="end" textLength="11.00" lengthAdjust="spacingAndGlyphs">30</text>
<line x1="56.50" y1="360.20" x2="60.10" y2="360.20" stroke="#111" stroke-width="1.2" />
<text x="52.30" y="365.50" font-size="10.8" text-anchor="end" textLength="11.00" lengthAdjust="spacingAndGlyphs">40</text>
<line x1="75.10" y1="451.40" x2="75.10" y2="454.60" stroke="#111" stroke-width="1.2" />
<line x1="105.30" y1="451.40" x2="105.30" y2="454.60" stroke="#111" stroke-width="1.2" />
<text x="67.00" y="356.30" font-size="10" textLength="46.80" lengthAdjust="spacingAndGlyphs"><tspan font-style="italic">P</tspan> = 0.0318</text>
<line x1="76.10" y1="362.80" x2="104.80" y2="362.80" stroke="#222" stroke-width="1.5" />
<text x="34.70" y="457.80" font-size="10.9" textLength="104.40" lengthAdjust="spacingAndGlyphs" transform="rotate(-90 34.70 457.80)">pSMAD2/3<tspan dy="-3.5" font-size="7">+</tspan><tspan dy="3.5"> BMNK (%)</tspan></text>
<path d="M199.80,387.20L229.80,387.20M199.80,398.57L229.80,389.27M199.80,405.25L229.80,375.32M199.80,405.25L229.80,383.60M199.80,404.75L229.80,401.15M199.80,406.32L229.80,404.25M199.80,412.52L229.80,408.38M199.80,416.12L229.80,412.52M199.80,418.73L229.80,418.73M199.80,430.07L229.80,415.62M199.80,431.00L229.80,423.38M199.80,432.15L229.80,431.10M199.80,433.70L229.80,433.18M199.80,441.95L229.80,433.18" stroke="#111" stroke-width="0.75" fill="none" />
<circle cx="199.80" cy="387.20" r="3.0" fill="none" stroke="#cf2a33" stroke-width="1.0"/>
<circle cx="199.80" cy="398.57" r="3.0" fill="none" stroke="#cf2a33" stroke-width="1.0"/>
<circle cx="199.80" cy="405.25" r="3.0" fill="none" stroke="#cf2a33" stroke-width="1.0"/>
<circle cx="199.80" cy="405.25" r="3.0" fill="none" stroke="#cf2a33" stroke-width="1.0"/>
<circle cx="199.80" cy="404.75" r="3.0" fill="none" stroke="#cf2a33" stroke-width="1.0"/>
<circle cx="199.80" cy="406.32" r="3.0" fill="none" stroke="#cf2a33" stroke-width="1.0"/>
<circle cx="199.80" cy="412.52" r="3.0" fill="none" stroke="#cf2a33" stroke-width="1.0"/>
<circle cx="199.80" cy="416.12" r="3.0" fill="none" stroke="#cf2a33" stroke-width="1.0"/>
<circle cx="199.80" cy="418.73" r="3.0" fill="none" stroke="#cf2a33" stroke-width="1.0"/>
<circle cx="199.80" cy="430.07" r="3.0" fill="none" stroke="#cf2a33" stroke-width="1.0"/>
<circle cx="199.80" cy="431.00" r="3.0" fill="none" stroke="#cf2a33" stroke-width="1.0"/>
<circle cx="199.80" cy="432.15" r="3.0" fill="none" stroke="#cf2a33" stroke-width="1.0"/>
<circle cx="199.80" cy="433.70" r="3.0" fill="none" stroke="#cf2a33" stroke-width="1.0"/>
<circle cx="199.80" cy="441.95" r="3.0" fill="none" stroke="#cf2a33" stroke-width="1.0"/>
<circle cx="229.80" cy="387.20" r="3.0" fill="none" stroke="#3e4b98" stroke-width="1.0"/>
<circle cx="229.80" cy="389.27" r="3.0" fill="none" stroke="#3e4b98" stroke-width="1.0"/>
<circle cx="229.80" cy="375.32" r="3.0" fill="none" stroke="#3e4b98" stroke-width="1.0"/>
<circle cx="229.80" cy="383.60" r="3.0" fill="none" stroke="#3e4b98" stroke-width="1.0"/>
<circle cx="229.80" cy="401.15" r="3.0" fill="none" stroke="#3e4b98" stroke-width="1.0"/>
<circle cx="229.80" cy="404.25" r="3.0" fill="none" stroke="#3e4b98" stroke-width="1.0"/>
<circle cx="229.80" cy="408.38" r="3.0" fill="none" stroke="#3e4b98" stroke-width="1.0"/>
<circle cx="229.80" cy="412.52" r="3.0" fill="none" stroke="#3e4b98" stroke-width="1.0"/>
<circle cx="229.80" cy="418.73" r="3.0" fill="none" stroke="#3e4b98" stroke-width="1.0"/>
<circle cx="229.80" cy="415.62" r="3.0" fill="none" stroke="#3e4b98" stroke-width="1.0"/>
<circle cx="229.80" cy="423.38" r="3.0" fill="none" stroke="#3e4b98" stroke-width="1.0"/>
<circle cx="229.80" cy="431.10" r="3.0" fill="none" stroke="#3e4b98" stroke-width="1.0"/>
<circle cx="229.80" cy="433.18" r="3.0" fill="none" stroke="#3e4b98" stroke-width="1.0"/>
<circle cx="229.80" cy="433.18" r="3.0" fill="none" stroke="#3e4b98" stroke-width="1.0"/>
<line x1="183.20" y1="357.00" x2="183.20" y2="452.10" stroke="#111" stroke-width="1.4" />
<line x1="182.50" y1="451.40" x2="243.70" y2="451.40" stroke="#111" stroke-width="1.4" />
<line x1="179.60" y1="451.40" x2="183.20" y2="451.40" stroke="#111" stroke-width="1.2" />
<text x="176.20" y="456.70" font-size="10.8" text-anchor="end" textLength="5.50" lengthAdjust="spacingAndGlyphs">0</text>
<line x1="179.60" y1="433.24" x2="183.20" y2="433.24" stroke="#111" stroke-width="1.2" />
<text x="176.20" y="438.54" font-size="10.8" text-anchor="end" textLength="11.00" lengthAdjust="spacingAndGlyphs">10</text>
<line x1="179.60" y1="415.08" x2="183.20" y2="415.08" stroke="#111" stroke-width="1.2" />
<text x="176.20" y="420.38" font-size="10.8" text-anchor="end" textLength="11.00" lengthAdjust="spacingAndGlyphs">20</text>
<line x1="179.60" y1="396.92" x2="183.20" y2="396.92" stroke="#111" stroke-width="1.2" />
<text x="176.20" y="402.22" font-size="10.8" text-anchor="end" textLength="11.00" lengthAdjust="spacingAndGlyphs">30</text>
<line x1="179.60" y1="378.76" x2="183.20" y2="378.76" stroke="#111" stroke-width="1.2" />
<text x="176.20" y="384.06" font-size="10.8" text-anchor="end" textLength="11.00" lengthAdjust="spacingAndGlyphs">40</text>
<line x1="179.60" y1="360.60" x2="183.20" y2="360.60" stroke="#111" stroke-width="1.2" />
<text x="176.20" y="365.90" font-size="10.8" text-anchor="end" textLength="11.00" lengthAdjust="spacingAndGlyphs">50</text>
<line x1="199.80" y1="451.40" x2="199.80" y2="454.60" stroke="#111" stroke-width="1.2" />
<line x1="229.80" y1="451.40" x2="229.80" y2="454.60" stroke="#111" stroke-width="1.2" />
<text x="191.00" y="356.30" font-size="10" textLength="47.00" lengthAdjust="spacingAndGlyphs"><tspan font-style="italic">P</tspan> = 0.0071</text>
<line x1="200.80" y1="362.80" x2="229.30" y2="362.80" stroke="#222" stroke-width="1.5" />
<text x="159.00" y="438.10" font-size="10.9" textLength="71.00" lengthAdjust="spacingAndGlyphs" transform="rotate(-90 159.00 438.10)">pS6<tspan dy="-3.5" font-size="7">+</tspan><tspan dy="3.5"> BMNK (%)</tspan></text>
<path d="M330.30,392.20L360.30,380.32M330.30,394.27L360.30,386.52M330.30,404.60L360.30,398.93M330.30,409.77L360.30,396.75M330.30,415.45L360.30,408.23M330.30,426.25L360.30,397.75M330.30,419.57L360.30,415.98M330.30,421.65L360.30,418.02M330.30,425.77L360.30,420.62M330.30,427.85L360.30,417.00M330.30,429.93L360.30,423.73M330.30,431.98L360.30,426.25M330.30,434.05L360.30,426.82" stroke="#111" stroke-width="0.75" fill="none" />
<circle cx="330.30" cy="392.20" r="3.0" fill="none" stroke="#cf2a33" stroke-width="1.0"/>
<circle cx="330.30" cy="394.27" r="3.0" fill="none" stroke="#cf2a33" stroke-width="1.0"/>
<circle cx="330.30" cy="404.60" r="3.0" fill="none" stroke="#cf2a33" stroke-width="1.0"/>
<circle cx="330.30" cy="409.77" r="3.0" fill="none" stroke="#cf2a33" stroke-width="1.0"/>
<circle cx="330.30" cy="415.45" r="3.0" fill="none" stroke="#cf2a33" stroke-width="1.0"/>
<circle cx="330.30" cy="426.25" r="3.0" fill="none" stroke="#cf2a33" stroke-width="1.0"/>
<circle cx="330.30" cy="419.57" r="3.0" fill="none" stroke="#cf2a33" stroke-width="1.0"/>
<circle cx="330.30" cy="421.65" r="3.0" fill="none" stroke="#cf2a33" stroke-width="1.0"/>
<circle cx="330.30" cy="425.77" r="3.0" fill="none" stroke="#cf2a33" stroke-width="1.0"/>
<circle cx="330.30" cy="427.85" r="3.0" fill="none" stroke="#cf2a33" stroke-width="1.0"/>
<circle cx="330.30" cy="429.93" r="3.0" fill="none" stroke="#cf2a33" stroke-width="1.0"/>
<circle cx="330.30" cy="431.98" r="3.0" fill="none" stroke="#cf2a33" stroke-width="1.0"/>
<circle cx="330.30" cy="434.05" r="3.0" fill="none" stroke="#cf2a33" stroke-width="1.0"/>
<circle cx="360.30" cy="380.32" r="3.0" fill="none" stroke="#3e4b98" stroke-width="1.0"/>
<circle cx="360.30" cy="386.52" r="3.0" fill="none" stroke="#3e4b98" stroke-width="1.0"/>
<circle cx="360.30" cy="398.93" r="3.0" fill="none" stroke="#3e4b98" stroke-width="1.0"/>
<circle cx="360.30" cy="396.75" r="3.0" fill="none" stroke="#3e4b98" stroke-width="1.0"/>
<circle cx="360.30" cy="408.23" r="3.0" fill="none" stroke="#3e4b98" stroke-width="1.0"/>
<circle cx="360.30" cy="397.75" r="3.0" fill="none" stroke="#3e4b98" stroke-width="1.0"/>
<circle cx="360.30" cy="415.98" r="3.0" fill="none" stroke="#3e4b98" stroke-width="1.0"/>
<circle cx="360.30" cy="418.02" r="3.0" fill="none" stroke="#3e4b98" stroke-width="1.0"/>
<circle cx="360.30" cy="420.62" r="3.0" fill="none" stroke="#3e4b98" stroke-width="1.0"/>
<circle cx="360.30" cy="417.00" r="3.0" fill="none" stroke="#3e4b98" stroke-width="1.0"/>
<circle cx="360.30" cy="423.73" r="3.0" fill="none" stroke="#3e4b98" stroke-width="1.0"/>
<circle cx="360.30" cy="426.25" r="3.0" fill="none" stroke="#3e4b98" stroke-width="1.0"/>
<circle cx="360.30" cy="426.82" r="3.0" fill="none" stroke="#3e4b98" stroke-width="1.0"/>
<line x1="314.40" y1="356.80" x2="314.40" y2="452.10" stroke="#111" stroke-width="1.4" />
<line x1="313.70" y1="451.40" x2="374.90" y2="451.40" stroke="#111" stroke-width="1.4" />
<line x1="310.80" y1="451.40" x2="314.40" y2="451.40" stroke="#111" stroke-width="1.2" />
<text x="305.90" y="456.70" font-size="10.8" text-anchor="end" textLength="5.50" lengthAdjust="spacingAndGlyphs">0</text>
<line x1="310.80" y1="433.20" x2="314.40" y2="433.20" stroke="#111" stroke-width="1.2" />
<text x="305.90" y="438.50" font-size="10.8" text-anchor="end" textLength="11.00" lengthAdjust="spacingAndGlyphs">20</text>
<line x1="310.80" y1="415.00" x2="314.40" y2="415.00" stroke="#111" stroke-width="1.2" />
<text x="305.90" y="420.30" font-size="10.8" text-anchor="end" textLength="11.00" lengthAdjust="spacingAndGlyphs">40</text>
<line x1="310.80" y1="396.80" x2="314.40" y2="396.80" stroke="#111" stroke-width="1.2" />
<text x="305.90" y="402.10" font-size="10.8" text-anchor="end" textLength="11.00" lengthAdjust="spacingAndGlyphs">60</text>
<line x1="310.80" y1="378.60" x2="314.40" y2="378.60" stroke="#111" stroke-width="1.2" />
<text x="305.90" y="383.90" font-size="10.8" text-anchor="end" textLength="11.00" lengthAdjust="spacingAndGlyphs">80</text>
<line x1="310.80" y1="360.40" x2="314.40" y2="360.40" stroke="#111" stroke-width="1.2" />
<text x="305.90" y="365.70" font-size="10.8" text-anchor="end" textLength="16.50" lengthAdjust="spacingAndGlyphs">100</text>
<line x1="330.30" y1="451.40" x2="330.30" y2="454.60" stroke="#111" stroke-width="1.2" />
<line x1="360.30" y1="451.40" x2="360.30" y2="454.60" stroke="#111" stroke-width="1.2" />
<text x="321.00" y="356.30" font-size="10" textLength="47.70" lengthAdjust="spacingAndGlyphs"><tspan font-style="italic">P</tspan> = 0.0018</text>
<line x1="331.30" y1="362.80" x2="359.80" y2="362.80" stroke="#222" stroke-width="1.5" />
<text x="281.90" y="442.30" font-size="10.9" textLength="80.40" lengthAdjust="spacingAndGlyphs" transform="rotate(-90 281.90 442.30)">TMRM<tspan dy="-3.5" font-size="7">+</tspan><tspan dy="3.5"> BMNK (%)</tspan></text>
<path d="M454.80,377.40L484.30,371.73M454.80,394.45L484.30,394.45M454.80,401.15L484.30,395.48M454.80,409.43L484.30,400.65M454.80,410.45L484.30,408.38M454.80,411.48L484.30,410.45M454.80,418.75L484.30,377.40M454.80,417.68L484.30,406.32M454.80,420.75L484.30,414.57M454.80,424.93L484.30,410.45M454.80,430.07L484.30,418.73M454.80,431.10L484.30,431.10M454.80,441.45L484.30,418.73" stroke="#111" stroke-width="0.75" fill="none" />
<circle cx="454.80" cy="377.40" r="3.0" fill="none" stroke="#cf2a33" stroke-width="1.0"/>
<circle cx="454.80" cy="394.45" r="3.0" fill="none" stroke="#cf2a33" stroke-width="1.0"/>
<circle cx="454.80" cy="401.15" r="3.0" fill="none" stroke="#cf2a33" stroke-width="1.0"/>
<circle cx="454.80" cy="409.43" r="3.0" fill="none" stroke="#cf2a33" stroke-width="1.0"/>
<circle cx="454.80" cy="410.45" r="3.0" fill="none" stroke="#cf2a33" stroke-width="1.0"/>
<circle cx="454.80" cy="411.48" r="3.0" fill="none" stroke="#cf2a33" stroke-width="1.0"/>
<circle cx="454.80" cy="418.75" r="3.0" fill="none" stroke="#cf2a33" stroke-width="1.0"/>
<circle cx="454.80" cy="417.68" r="3.0" fill="none" stroke="#cf2a33" stroke-width="1.0"/>
<circle cx="454.80" cy="420.75" r="3.0" fill="none" stroke="#cf2a33" stroke-width="1.0"/>
<circle cx="454.80" cy="424.93" r="3.0" fill="none" stroke="#cf2a33" stroke-width="1.0"/>
<circle cx="454.80" cy="430.07" r="3.0" fill="none" stroke="#cf2a33" stroke-width="1.0"/>
<circle cx="454.80" cy="431.10" r="3.0" fill="none" stroke="#cf2a33" stroke-width="1.0"/>
<circle cx="454.80" cy="441.45" r="3.0" fill="none" stroke="#cf2a33" stroke-width="1.0"/>
<circle cx="484.30" cy="371.73" r="3.0" fill="none" stroke="#3e4b98" stroke-width="1.0"/>
<circle cx="484.30" cy="394.45" r="3.0" fill="none" stroke="#3e4b98" stroke-width="1.0"/>
<circle cx="484.30" cy="395.48" r="3.0" fill="none" stroke="#3e4b98" stroke-width="1.0"/>
<circle cx="484.30" cy="400.65" r="3.0" fill="none" stroke="#3e4b98" stroke-width="1.0"/>
<circle cx="484.30" cy="408.38" r="3.0" fill="none" stroke="#3e4b98" stroke-width="1.0"/>
<circle cx="484.30" cy="410.45" r="3.0" fill="none" stroke="#3e4b98" stroke-width="1.0"/>
<circle cx="484.30" cy="377.40" r="3.0" fill="none" stroke="#3e4b98" stroke-width="1.0"/>
<circle cx="484.30" cy="406.32" r="3.0" fill="none" stroke="#3e4b98" stroke-width="1.0"/>
<circle cx="484.30" cy="414.57" r="3.0" fill="none" stroke="#3e4b98" stroke-width="1.0"/>
<circle cx="484.30" cy="410.45" r="3.0" fill="none" stroke="#3e4b98" stroke-width="1.0"/>
<circle cx="484.30" cy="418.73" r="3.0" fill="none" stroke="#3e4b98" stroke-width="1.0"/>
<circle cx="484.30" cy="431.10" r="3.0" fill="none" stroke="#3e4b98" stroke-width="1.0"/>
<circle cx="484.30" cy="418.73" r="3.0" fill="none" stroke="#3e4b98" stroke-width="1.0"/>
<line x1="439.10" y1="356.60" x2="439.10" y2="451.90" stroke="#111" stroke-width="1.4" />
<line x1="438.40" y1="451.20" x2="499.60" y2="451.20" stroke="#111" stroke-width="1.4" />
<line x1="435.50" y1="451.20" x2="439.10" y2="451.20" stroke="#111" stroke-width="1.2" />
<text x="431.50" y="456.50" font-size="10.8" text-anchor="end" textLength="5.50" lengthAdjust="spacingAndGlyphs">0</text>
<line x1="435.50" y1="428.45" x2="439.10" y2="428.45" stroke="#111" stroke-width="1.2" />
<text x="431.50" y="433.75" font-size="10.8" text-anchor="end" textLength="11.00" lengthAdjust="spacingAndGlyphs">10</text>
<line x1="435.50" y1="405.70" x2="439.10" y2="405.70" stroke="#111" stroke-width="1.2" />
<text x="431.50" y="411.00" font-size="10.8" text-anchor="end" textLength="11.00" lengthAdjust="spacingAndGlyphs">20</text>
<line x1="435.50" y1="382.95" x2="439.10" y2="382.95" stroke="#111" stroke-width="1.2" />
<text x="431.50" y="388.25" font-size="10.8" text-anchor="end" textLength="11.00" lengthAdjust="spacingAndGlyphs">30</text>
<line x1="435.50" y1="360.20" x2="439.10" y2="360.20" stroke="#111" stroke-width="1.2" />
<text x="431.50" y="365.50" font-size="10.8" text-anchor="end" textLength="11.00" lengthAdjust="spacingAndGlyphs">40</text>
<line x1="454.80" y1="451.20" x2="454.80" y2="454.40" stroke="#111" stroke-width="1.2" />
<line x1="484.30" y1="451.20" x2="484.30" y2="454.40" stroke="#111" stroke-width="1.2" />
<text x="446.00" y="356.30" font-size="10" textLength="47.00" lengthAdjust="spacingAndGlyphs"><tspan font-style="italic">P</tspan> = 0.0085</text>
<line x1="455.80" y1="362.80" x2="483.80" y2="362.80" stroke="#222" stroke-width="1.5" />
<text x="412.50" y="457.20" font-size="10.9" textLength="104.60" lengthAdjust="spacingAndGlyphs" transform="rotate(-90 412.50 457.20)">MitoTracker<tspan dy="-3.5" font-size="7">+</tspan><tspan dy="3.5"> BMNK (%)</tspan></text>
<line x1="220.00" y1="470.40" x2="232.50" y2="470.40" stroke="#cf2a33" stroke-width="1.1" />
<circle cx="227" cy="470.4" r="2.7" fill="#fff" stroke="#cf2a33" stroke-width="1"/>
<text x="238.40" y="475.10" font-size="10.6" fill="#cf2a33" textLength="17.40" lengthAdjust="spacingAndGlyphs">Ctrl</text>
<line x1="267.70" y1="470.40" x2="281.50" y2="470.40" stroke="#3e4b98" stroke-width="1.1" />
<circle cx="274" cy="470.4" r="2.7" fill="#fff" stroke="#3e4b98" stroke-width="1"/>
<text x="285.80" y="475.10" font-size="10.6" fill="#3e4b98" textLength="55.20" lengthAdjust="spacingAndGlyphs">Galunisertib</text>
<text x="6.40" y="502.50" font-size="13.8" fill="#000" font-weight="bold">H</text>
<path d="M56.10,515.4 L53.80,515.4 L53.80,571.2 L56.10,571.2 M53.80,544.4 L51.60,544.4" stroke="#222" stroke-width="0.9" fill="none" />
<text x="58.50" y="518.10" font-size="7.6" fill="#2a2a2a" textLength="11.00" lengthAdjust="spacingAndGlyphs">Ctrl</text>
<text x="58.50" y="527.10" font-size="7.6" fill="#2a2a2a" textLength="41.60" lengthAdjust="spacingAndGlyphs">GARP<tspan dy="-2.8" font-size="5.5">+</tspan><tspan dy="2.8">CD4</tspan><tspan dy="-2.8" font-size="5.5">+</tspan><tspan dy="2.8">T</tspan></text>
<text x="58.50" y="537.10" font-size="7.6" fill="#2a2a2a" textLength="92.60" lengthAdjust="spacingAndGlyphs">GARP<tspan dy="-2.8" font-size="5.5">+</tspan><tspan dy="2.8">CD4</tspan><tspan dy="-2.8" font-size="5.5">+</tspan><tspan dy="2.8">T</tspan> + Latent TGF-β1</text>
<text x="58.50" y="547.10" font-size="7.6" fill="#2a2a2a" textLength="43.30" lengthAdjust="spacingAndGlyphs">Active TGF-β1</text>
<text x="58.50" y="556.20" font-size="7.6" fill="#2a2a2a" textLength="92.60" lengthAdjust="spacingAndGlyphs">GARP<tspan dy="-2.8" font-size="5.5">+</tspan><tspan dy="2.8">CD4</tspan><tspan dy="-2.8" font-size="5.5">+</tspan><tspan dy="2.8">T</tspan> + Latent TGF-β1</text>
<text x="58.50" y="564.70" font-size="7.6" fill="#2a2a2a" textLength="43.30" lengthAdjust="spacingAndGlyphs">+ Galunisertib</text>
<text x="58.50" y="573.90" font-size="7.6" fill="#2a2a2a" textLength="88.80" lengthAdjust="spacingAndGlyphs">Active TGF-β1 + Galunisertib</text>
<line x1="42.80" y1="586.20" x2="214.00" y2="586.20" stroke="#111" stroke-width="1.2" />
<path d="M211,583.5 L218,586.2 L211,588.9 Z" stroke="#231f20" stroke-width="0" fill="#111" />
<line x1="71.00" y1="586.20" x2="71.00" y2="583.00" stroke="#111" stroke-width="1" />
<path d="M68.9,584.2 L71,579.6 L73.1,584.2 Z" stroke="#231f20" stroke-width="0" fill="#111" />
<line x1="108.00" y1="586.20" x2="108.00" y2="584.20" stroke="#111" stroke-width="1" />
<line x1="173.30" y1="586.20" x2="173.30" y2="584.20" stroke="#111" stroke-width="1" />
<line x1="207.80" y1="586.20" x2="207.80" y2="584.20" stroke="#111" stroke-width="1" />
<text x="70.60" y="595.40" font-size="8" text-anchor="middle" textLength="17.60" lengthAdjust="spacingAndGlyphs">Day 7</text>
<text x="107.80" y="595.40" font-size="8" text-anchor="middle" textLength="20.10" lengthAdjust="spacingAndGlyphs">Day 14</text>
<text x="173.30" y="595.40" font-size="8" text-anchor="middle" textLength="20.10" lengthAdjust="spacingAndGlyphs">Day 28</text>
<text x="207.60" y="595.40" font-size="8" text-anchor="middle" textLength="20.10" lengthAdjust="spacingAndGlyphs">Day 35</text>
<text x="31.10" y="602.80" font-size="8" text-anchor="middle" textLength="35.90" lengthAdjust="spacingAndGlyphs">AML Model</text>
<text x="30.30" y="610.60" font-size="8" text-anchor="middle" textLength="27.00" lengthAdjust="spacingAndGlyphs">HL60, i.v.</text>
<path d="M21.5,587.5 C21.5,585 23.5,582.5 26.5,581.8 C28,580.2 30,580.4 30.2,582 C33.5,581.8 37.5,582.5 39.5,585 C41,587 40.8,590 39,590.8 L24,590.8 C22.3,590.6 21.5,589.3 21.5,587.5 Z M39.8,589 C42,589.5 43.5,588 42.8,586.2 M25,590.8 L24.2,592 M36,590.8 L36.8,592" stroke="#c8c8c8" stroke-width="0.7" fill="none" />
<circle cx="24.6" cy="584.6" r="0.6" fill="#bbbbbb"/>
<line x1="71.30" y1="603.60" x2="71.30" y2="611.20" stroke="#111" stroke-width="1.1" />
<line x1="76.00" y1="607.60" x2="111.10" y2="607.60" stroke="#111" stroke-width="1.1" />
<path d="M71.9,607.6 L77.5,605.2 L77.5,610 Z" stroke="#231f20" stroke-width="0" fill="#111" />
<line x1="168.00" y1="607.60" x2="203.00" y2="607.60" stroke="#111" stroke-width="1.1" />
<path d="M207.2,607.6 L201.6,605.2 L201.6,610 Z" stroke="#231f20" stroke-width="0" fill="#111" />
<line x1="207.80" y1="603.60" x2="207.80" y2="611.20" stroke="#111" stroke-width="1.1" />
<text x="139.20" y="607.30" font-size="8" text-anchor="middle" textLength="51.00" lengthAdjust="spacingAndGlyphs">Bioluminescence</text>
<text x="140.00" y="615.30" font-size="8" text-anchor="middle" textLength="25.00" lengthAdjust="spacingAndGlyphs">imaging</text>
<text x="234.00" y="502.30" font-size="14.5" fill="#000" font-weight="bold">J</text>
<text x="252.40" y="525.20" font-size="6.7" fill="#505050" textLength="9.30" lengthAdjust="spacingAndGlyphs">Ctrl</text>
<line x1="241.60" y1="522.80" x2="250.00" y2="522.80" stroke="#111111" stroke-width="1.3" />
<path d="M243.40,524.50 L245.80,520.70 L248.20,524.50 Z" stroke="#231f20" stroke-width="0" fill="#111111" />
<text x="252.40" y="532.60" font-size="6.7" fill="#505050" textLength="34.00" lengthAdjust="spacingAndGlyphs">GARP<tspan dy="-2.4" font-size="4.8">+</tspan><tspan dy="2.4">CD4</tspan><tspan dy="-2.4" font-size="4.8">+</tspan><tspan dy="2.4">T</tspan></text>
<line x1="241.60" y1="530.20" x2="250.00" y2="530.20" stroke="#f2b266" stroke-width="1.3" />
<path d="M243.40,531.90 L245.80,528.10 L248.20,531.90 Z" stroke="#231f20" stroke-width="0" fill="#f2b266" />
<text x="252.40" y="540.40" font-size="6.7" fill="#505050" textLength="77.00" lengthAdjust="spacingAndGlyphs">GARP<tspan dy="-2.4" font-size="4.8">+</tspan><tspan dy="2.4">CD4</tspan><tspan dy="-2.4" font-size="4.8">+</tspan><tspan dy="2.4">T</tspan> + Latent TGF-β1</text>
<line x1="241.60" y1="538.00" x2="250.00" y2="538.00" stroke="#8b4fa8" stroke-width="1.3" />
<path d="M243.40,539.70 L245.80,535.90 L248.20,539.70 Z" stroke="#231f20" stroke-width="0" fill="#8b4fa8" />
<text x="252.40" y="547.80" font-size="6.7" fill="#505050" textLength="35.00" lengthAdjust="spacingAndGlyphs">Active TGF-β1</text>
<line x1="241.60" y1="545.40" x2="250.00" y2="545.40" stroke="#e0262f" stroke-width="1.3" />
<path d="M243.40,547.10 L245.80,543.30 L248.20,547.10 Z" stroke="#231f20" stroke-width="0" fill="#e0262f" />
<text x="252.40" y="555.40" font-size="6.7" fill="#505050" textLength="77.00" lengthAdjust="spacingAndGlyphs">GARP<tspan dy="-2.4" font-size="4.8">+</tspan><tspan dy="2.4">CD4</tspan><tspan dy="-2.4" font-size="4.8">+</tspan><tspan dy="2.4">T</tspan> + Latent TGF-β1</text>
<line x1="241.60" y1="553.00" x2="250.00" y2="553.00" stroke="#3aa64a" stroke-width="1.3" />
<path d="M243.40,554.70 L245.80,550.90 L248.20,554.70 Z" stroke="#231f20" stroke-width="0" fill="#3aa64a" />
<text x="252.40" y="562.00" font-size="6.7" fill="#505050" textLength="35.00" lengthAdjust="spacingAndGlyphs">+ Galunisertib</text>
<text x="252.40" y="570.20" font-size="6.7" fill="#505050" textLength="74.00" lengthAdjust="spacingAndGlyphs">Active TGF-β1 + Galunisertib</text>
<line x1="241.60" y1="567.80" x2="250.00" y2="567.80" stroke="#3e4a8c" stroke-width="1.3" />
<path d="M243.40,569.50 L245.80,565.70 L248.20,569.50 Z" stroke="#231f20" stroke-width="0" fill="#3e4a8c" />
<line x1="288.80" y1="520.70" x2="288.80" y2="532.30" stroke="#3a3a3a" stroke-width="1.4" />
<text x="295.86" y="532.30" font-size="7.3" fill="#3a3a3a" textLength="26.00" lengthAdjust="spacingAndGlyphs" transform="rotate(-90 295.86 532.30)"><tspan font-style="italic">P</tspan> = 0.0941</text>
<line x1="333.00" y1="527.50" x2="333.00" y2="540.80" stroke="#3a3a3a" stroke-width="1.4" />
<text x="340.06" y="540.80" font-size="7.3" fill="#3a3a3a" textLength="26.00" lengthAdjust="spacingAndGlyphs" transform="rotate(-90 340.06 540.80)"><tspan font-style="italic">P</tspan> = 0.0002</text>
<line x1="333.00" y1="542.50" x2="333.00" y2="570.80" stroke="#3a3a3a" stroke-width="1.4" />
<text x="340.06" y="570.80" font-size="7.3" fill="#3a3a3a" textLength="27.00" lengthAdjust="spacingAndGlyphs" transform="rotate(-90 340.06 570.80)"><tspan font-style="italic">P</tspan> &lt; 0.0001</text>
<line x1="342.50" y1="520.00" x2="342.50" y2="540.80" stroke="#3a3a3a" stroke-width="1.4" />
<text x="349.56" y="544.00" font-size="7.3" fill="#3a3a3a" textLength="27.00" lengthAdjust="spacingAndGlyphs" transform="rotate(-90 349.56 544.00)"><tspan font-style="italic">P</tspan> &lt; 0.0001</text>
<line x1="351.70" y1="520.20" x2="351.70" y2="548.30" stroke="#3a3a3a" stroke-width="1.4" />
<text x="358.76" y="547.70" font-size="7.3" fill="#3a3a3a" textLength="27.00" lengthAdjust="spacingAndGlyphs" transform="rotate(-90 358.76 547.70)"><tspan font-style="italic">P</tspan> &lt; 0.0001</text>
<line x1="361.30" y1="533.80" x2="361.30" y2="562.70" stroke="#3a3a3a" stroke-width="1.4" />
<text x="368.36" y="561.00" font-size="7.3" fill="#3a3a3a" textLength="27.00" lengthAdjust="spacingAndGlyphs" transform="rotate(-90 368.36 561.00)"><tspan font-style="italic">P</tspan> = 0.0001</text>
<line x1="277.70" y1="579.40" x2="277.70" y2="589.60" stroke="#111" stroke-width="1.3" />
<line x1="277.70" y1="594.00" x2="277.70" y2="627.90" stroke="#111" stroke-width="1.3" />
<line x1="277.70" y1="627.90" x2="361.00" y2="627.90" stroke="#111" stroke-width="1.3" />
<line x1="275.50" y1="589.60" x2="279.90" y2="589.60" stroke="#111" stroke-width="1.1" />
<line x1="275.50" y1="594.00" x2="279.90" y2="594.00" stroke="#111" stroke-width="1.1" />
<text x="275.20" y="583.80" font-size="7.2" text-anchor="end" fill="#333" textLength="19.80" lengthAdjust="spacingAndGlyphs">2×10<tspan dy="-2.6" font-size="5">9</tspan></text>
<line x1="275.90" y1="581.30" x2="277.70" y2="581.30" stroke="#111" stroke-width="0.9" />
<text x="275.20" y="590.80" font-size="7.2" text-anchor="end" fill="#333" textLength="19.80" lengthAdjust="spacingAndGlyphs">1×10<tspan dy="-2.6" font-size="5">9</tspan></text>
<line x1="275.90" y1="588.30" x2="277.70" y2="588.30" stroke="#111" stroke-width="0.9" />
<text x="275.20" y="596.20" font-size="7.2" text-anchor="end" fill="#333" textLength="19.80" lengthAdjust="spacingAndGlyphs">8×10<tspan dy="-2.6" font-size="5">8</tspan></text>
<line x1="275.90" y1="593.70" x2="277.70" y2="593.70" stroke="#111" stroke-width="0.9" />
<text x="275.20" y="604.80" font-size="7.2" text-anchor="end" fill="#333" textLength="19.80" lengthAdjust="spacingAndGlyphs">6×10<tspan dy="-2.6" font-size="5">8</tspan></text>
<line x1="275.90" y1="602.30" x2="277.70" y2="602.30" stroke="#111" stroke-width="0.9" />
<text x="275.20" y="613.50" font-size="7.2" text-anchor="end" fill="#333" textLength="19.80" lengthAdjust="spacingAndGlyphs">4×10<tspan dy="-2.6" font-size="5">8</tspan></text>
<line x1="275.90" y1="611.00" x2="277.70" y2="611.00" stroke="#111" stroke-width="0.9" />
<text x="275.20" y="622.30" font-size="7.2" text-anchor="end" fill="#333" textLength="19.80" lengthAdjust="spacingAndGlyphs">2×10<tspan dy="-2.6" font-size="5">8</tspan></text>
<line x1="275.90" y1="619.80" x2="277.70" y2="619.80" stroke="#111" stroke-width="0.9" />
<text x="275.20" y="630.80" font-size="8" text-anchor="end" fill="#333">0</text>
<line x1="275.90" y1="627.90" x2="277.70" y2="627.90" stroke="#111" stroke-width="0.9" />
<line x1="289.00" y1="627.90" x2="289.00" y2="630.10" stroke="#111" stroke-width="1" />
<text x="289.00" y="641.60" font-size="8.2" text-anchor="middle" fill="#333">7</text>
<line x1="311.40" y1="627.90" x2="311.40" y2="630.10" stroke="#111" stroke-width="1" />
<text x="311.40" y="641.60" font-size="8.2" text-anchor="middle" fill="#333">14</text>
<line x1="333.70" y1="627.90" x2="333.70" y2="630.10" stroke="#111" stroke-width="1" />
<text x="333.70" y="641.60" font-size="8.2" text-anchor="middle" fill="#333">28</text>
<line x1="355.80" y1="627.90" x2="355.80" y2="630.10" stroke="#111" stroke-width="1" />
<text x="355.80" y="641.60" font-size="8.2" text-anchor="middle" fill="#333">35</text>
<text x="322.50" y="654.00" font-size="8.6" text-anchor="middle" fill="#333" textLength="79.50" lengthAdjust="spacingAndGlyphs">Days from HL60 injection</text>
<text x="249.00" y="624.00" font-size="9.4" fill="#333" textLength="43.50" lengthAdjust="spacingAndGlyphs" transform="rotate(-90 249.00 624.00)">Total flux (p/s)</text>
<path d="M289.00,627.90 L311.40,627.50 L333.70,624.00 L355.80,617.50" stroke="#111111" stroke-width="1.1" fill="none" />
<path d="M289.00,627.90 L311.40,627.20 L333.70,620.00 L355.80,612.50" stroke="#f2b266" stroke-width="1.1" fill="none" />
<path d="M289.00,627.90 L311.40,626.50 L333.70,611.70 L355.80,588.30" stroke="#8b4fa8" stroke-width="1.1" fill="none" stroke-dasharray="7,3"/>
<path d="M289.00,627.90 L311.40,621.20 L333.70,603.60 L355.80,582.10" stroke="#e0262f" stroke-width="1.1" fill="none" />
<path d="M289.00,627.90 L311.40,627.00 L333.70,618.50 L355.80,609.50" stroke="#3aa64a" stroke-width="1.1" fill="none" />
<path d="M289.00,627.90 L311.40,627.20 L333.70,617.00 L355.80,605.00" stroke="#3e4a8c" stroke-width="1.1" fill="none" />
<path d="M289.00,627.90 L311.40,627.70 L333.70,622.30 L355.80,609.80" stroke="#222222" stroke-width="1.1" fill="none" />
<line x1="311.40" y1="618.00" x2="311.40" y2="624.50" stroke="#e0262f" stroke-width="0.9" />
<line x1="309.90" y1="618.00" x2="312.90" y2="618.00" stroke="#e0262f" stroke-width="0.9" />
<line x1="333.70" y1="597.00" x2="333.70" y2="610.00" stroke="#e0262f" stroke-width="0.9" />
<line x1="332.20" y1="597.00" x2="335.20" y2="597.00" stroke="#e0262f" stroke-width="0.9" />
<line x1="355.80" y1="595.60" x2="355.80" y2="606.00" stroke="#3e4a8c" stroke-width="0.9" />
<line x1="354.30" y1="595.60" x2="357.30" y2="595.60" stroke="#3e4a8c" stroke-width="0.9" />
<line x1="333.70" y1="610.00" x2="333.70" y2="616.00" stroke="#8b4fa8" stroke-width="0.9" />
<line x1="332.20" y1="610.00" x2="335.20" y2="610.00" stroke="#8b4fa8" stroke-width="0.9" />
<line x1="355.80" y1="604.00" x2="355.80" y2="612.00" stroke="#f2b266" stroke-width="0.9" />
<line x1="354.30" y1="604.00" x2="357.30" y2="604.00" stroke="#f2b266" stroke-width="0.9" />
<line x1="355.80" y1="580.50" x2="355.80" y2="586.00" stroke="#8b4fa8" stroke-width="0.9" />
<line x1="354.30" y1="580.50" x2="357.30" y2="580.50" stroke="#8b4fa8" stroke-width="0.9" />
<path d="M287.40,629.20 L289.00,626.30 L290.60,629.20 Z" stroke="#231f20" stroke-width="0" fill="#111111" />
<path d="M309.80,628.80 L311.40,625.90 L313.00,628.80 Z" stroke="#231f20" stroke-width="0" fill="#111111" />
<path d="M332.10,625.30 L333.70,622.40 L335.30,625.30 Z" stroke="#231f20" stroke-width="0" fill="#111111" />
<path d="M354.20,618.80 L355.80,615.90 L357.40,618.80 Z" stroke="#231f20" stroke-width="0" fill="#111111" />
<path d="M287.40,629.20 L289.00,626.30 L290.60,629.20 Z" stroke="#231f20" stroke-width="0" fill="#f2b266" />
<path d="M309.80,628.50 L311.40,625.60 L313.00,628.50 Z" stroke="#231f20" stroke-width="0" fill="#f2b266" />
<path d="M332.10,621.30 L333.70,618.40 L335.30,621.30 Z" stroke="#231f20" stroke-width="0" fill="#f2b266" />
<path d="M354.20,613.80 L355.80,610.90 L357.40,613.80 Z" stroke="#231f20" stroke-width="0" fill="#f2b266" />
<path d="M287.40,629.20 L289.00,626.30 L290.60,629.20 Z" stroke="#231f20" stroke-width="0" fill="#8b4fa8" />
<path d="M309.80,627.80 L311.40,624.90 L313.00,627.80 Z" stroke="#231f20" stroke-width="0" fill="#8b4fa8" />
<path d="M332.10,613.00 L333.70,610.10 L335.30,613.00 Z" stroke="#231f20" stroke-width="0" fill="#8b4fa8" />
<path d="M354.20,589.60 L355.80,586.70 L357.40,589.60 Z" stroke="#231f20" stroke-width="0" fill="#8b4fa8" />
<path d="M287.40,629.20 L289.00,626.30 L290.60,629.20 Z" stroke="#231f20" stroke-width="0" fill="#e0262f" />
<path d="M309.80,622.50 L311.40,619.60 L313.00,622.50 Z" stroke="#231f20" stroke-width="0" fill="#e0262f" />
<path d="M332.10,604.90 L333.70,602.00 L335.30,604.90 Z" stroke="#231f20" stroke-width="0" fill="#e0262f" />
<path d="M354.20,583.40 L355.80,580.50 L357.40,583.40 Z" stroke="#231f20" stroke-width="0" fill="#e0262f" />
<path d="M287.40,629.20 L289.00,626.30 L290.60,629.20 Z" stroke="#231f20" stroke-width="0" fill="#3aa64a" />
<path d="M309.80,628.30 L311.40,625.40 L313.00,628.30 Z" stroke="#231f20" stroke-width="0" fill="#3aa64a" />
<path d="M332.10,619.80 L333.70,616.90 L335.30,619.80 Z" stroke="#231f20" stroke-width="0" fill="#3aa64a" />
<path d="M354.20,610.80 L355.80,607.90 L357.40,610.80 Z" stroke="#231f20" stroke-width="0" fill="#3aa64a" />
<path d="M287.40,629.20 L289.00,626.30 L290.60,629.20 Z" stroke="#231f20" stroke-width="0" fill="#3e4a8c" />
<path d="M309.80,628.50 L311.40,625.60 L313.00,628.50 Z" stroke="#231f20" stroke-width="0" fill="#3e4a8c" />
<path d="M332.10,618.30 L333.70,615.40 L335.30,618.30 Z" stroke="#231f20" stroke-width="0" fill="#3e4a8c" />
<path d="M354.20,606.30 L355.80,603.40 L357.40,606.30 Z" stroke="#231f20" stroke-width="0" fill="#3e4a8c" />
<path d="M287.40,629.20 L289.00,626.30 L290.60,629.20 Z" stroke="#231f20" stroke-width="0" fill="#222222" />
<path d="M309.80,629.00 L311.40,626.10 L313.00,629.00 Z" stroke="#231f20" stroke-width="0" fill="#222222" />
<path d="M332.10,623.60 L333.70,620.70 L335.30,623.60 Z" stroke="#231f20" stroke-width="0" fill="#222222" />
<path d="M354.20,611.10 L355.80,608.20 L357.40,611.10 Z" stroke="#231f20" stroke-width="0" fill="#222222" />
<text x="385.20" y="502.50" font-size="13.8" fill="#000" font-weight="bold">K</text>
<text x="402.60" y="524.90" font-size="6.6" fill="#505050" textLength="9.70" lengthAdjust="spacingAndGlyphs">Ctrl</text>
<line x1="391.50" y1="522.50" x2="399.30" y2="522.50" stroke="#111111" stroke-width="1.3" />
<text x="402.60" y="532.60" font-size="6.6" fill="#505050" textLength="34.00" lengthAdjust="spacingAndGlyphs">GARP<tspan dy="-2.4" font-size="4.8">+</tspan><tspan dy="2.4">CD4</tspan><tspan dy="-2.4" font-size="4.8">+</tspan><tspan dy="2.4">T</tspan></text>
<line x1="391.50" y1="530.20" x2="399.30" y2="530.20" stroke="#f2b266" stroke-width="1.3" />
<text x="402.60" y="540.40" font-size="6.6" fill="#505050" textLength="77.00" lengthAdjust="spacingAndGlyphs">GARP<tspan dy="-2.4" font-size="4.8">+</tspan><tspan dy="2.4">CD4</tspan><tspan dy="-2.4" font-size="4.8">+</tspan><tspan dy="2.4">T</tspan> + Latent TGF-β1</text>
<line x1="391.50" y1="538.00" x2="399.30" y2="538.00" stroke="#8b4fa8" stroke-width="1.3" />
<text x="402.60" y="547.70" font-size="6.6" fill="#505050" textLength="35.60" lengthAdjust="spacingAndGlyphs">Active TGF-β1</text>
<line x1="391.50" y1="545.30" x2="399.30" y2="545.30" stroke="#e0262f" stroke-width="1.3" />
<text x="402.60" y="555.40" font-size="6.6" fill="#505050" textLength="77.00" lengthAdjust="spacingAndGlyphs">GARP<tspan dy="-2.4" font-size="4.8">+</tspan><tspan dy="2.4">CD4</tspan><tspan dy="-2.4" font-size="4.8">+</tspan><tspan dy="2.4">T</tspan> + Latent TGF-β1</text>
<line x1="391.50" y1="553.00" x2="399.30" y2="553.00" stroke="#3aa64a" stroke-width="1.3" />
<text x="402.60" y="562.00" font-size="6.6" fill="#505050" textLength="36.00" lengthAdjust="spacingAndGlyphs">+ Galunisertib</text>
<text x="402.60" y="570.30" font-size="6.6" fill="#505050" textLength="74.60" lengthAdjust="spacingAndGlyphs">Active TGF-β1 + Galunisertib</text>
<line x1="391.50" y1="567.90" x2="399.30" y2="567.90" stroke="#3e4a8c" stroke-width="1.3" />
<line x1="440.30" y1="520.60" x2="440.30" y2="532.00" stroke="#3a3a3a" stroke-width="1.4" />
<text x="447.36" y="531.50" font-size="7.3" fill="#3a3a3a" textLength="26.00" lengthAdjust="spacingAndGlyphs" transform="rotate(-90 447.36 531.50)"><tspan font-style="italic">P</tspan> = 0.1714</text>
<line x1="483.10" y1="528.40" x2="483.10" y2="540.60" stroke="#3a3a3a" stroke-width="1.4" />
<text x="490.16" y="540.20" font-size="7.3" fill="#3a3a3a" textLength="25.50" lengthAdjust="spacingAndGlyphs" transform="rotate(-90 490.16 540.20)"><tspan font-style="italic">P</tspan> = 0.0156</text>
<line x1="483.10" y1="543.20" x2="483.10" y2="569.20" stroke="#3a3a3a" stroke-width="1.4" />
<text x="490.16" y="569.00" font-size="7.3" fill="#3a3a3a" textLength="26.00" lengthAdjust="spacingAndGlyphs" transform="rotate(-90 490.16 569.00)"><tspan font-style="italic">P</tspan> = 0.0135</text>
<line x1="493.50" y1="518.60" x2="493.50" y2="539.30" stroke="#3a3a3a" stroke-width="1.4" />
<text x="500.56" y="539.00" font-size="7.3" fill="#3a3a3a" textLength="23.00" lengthAdjust="spacingAndGlyphs" transform="rotate(-90 500.56 539.00)"><tspan font-style="italic">P</tspan> = 0.0005</text>
<line x1="503.10" y1="521.00" x2="503.10" y2="547.60" stroke="#3a3a3a" stroke-width="1.4" />
<text x="510.16" y="547.00" font-size="7.3" fill="#3a3a3a" textLength="27.00" lengthAdjust="spacingAndGlyphs" transform="rotate(-90 510.16 547.00)"><tspan font-style="italic">P</tspan> &lt; 0.0001</text>
<line x1="512.20" y1="534.00" x2="512.20" y2="562.20" stroke="#3a3a3a" stroke-width="1.4" />
<text x="519.26" y="562.00" font-size="7.3" fill="#3a3a3a" textLength="27.00" lengthAdjust="spacingAndGlyphs" transform="rotate(-90 519.26 562.00)"><tspan font-style="italic">P</tspan> = 0.0353</text>
<line x1="422.60" y1="578.20" x2="422.60" y2="630.70" stroke="#111" stroke-width="1.3" />
<line x1="422.60" y1="627.90" x2="499.20" y2="627.90" stroke="#111" stroke-width="1.3" />
<line x1="420.60" y1="580.90" x2="422.60" y2="580.90" stroke="#111" stroke-width="1" />
<text x="416.60" y="583.80" font-size="8.2" text-anchor="end" fill="#444">100</text>
<line x1="420.60" y1="604.30" x2="422.60" y2="604.30" stroke="#111" stroke-width="1" />
<text x="416.60" y="607.20" font-size="8.2" text-anchor="end" fill="#444">50</text>
<line x1="420.60" y1="627.90" x2="422.60" y2="627.90" stroke="#111" stroke-width="1" />
<text x="416.60" y="630.80" font-size="8.2" text-anchor="end" fill="#444">0</text>
<line x1="422.60" y1="627.90" x2="422.60" y2="630.10" stroke="#111" stroke-width="1" />
<text x="422.60" y="641.00" font-size="8.2" text-anchor="middle" fill="#444">0</text>
<line x1="444.66" y1="627.90" x2="444.66" y2="630.10" stroke="#111" stroke-width="1" />
<text x="444.66" y="641.00" font-size="8.2" text-anchor="middle" fill="#444">20</text>
<line x1="466.72" y1="627.90" x2="466.72" y2="630.10" stroke="#111" stroke-width="1" />
<text x="466.72" y="641.00" font-size="8.2" text-anchor="middle" fill="#444">40</text>
<line x1="488.78" y1="627.90" x2="488.78" y2="630.10" stroke="#111" stroke-width="1" />
<text x="488.78" y="641.00" font-size="8.2" text-anchor="middle" fill="#444">60</text>
<text x="461.00" y="653.80" font-size="8.6" text-anchor="middle" fill="#333" textLength="76.50" lengthAdjust="spacingAndGlyphs">Days post HL60 injection</text>
<text x="399.10" y="627.60" font-size="8.6" fill="#333" textLength="50.00" lengthAdjust="spacingAndGlyphs" transform="rotate(-90 399.10 627.60)">Percent survival</text>
<path d="M459.55,580.90 L460.10,580.90 L460.10,596.55 L475.54,596.55 L475.54,604.40 L482.71,604.40" stroke="#3e4a8c" stroke-width="1.3" fill="none" />
<path d="M459.55,580.90 L460.10,580.90 L460.10,588.75 L471.13,588.75 L471.13,596.55 L477.75,596.55 L477.75,604.40 L483.82,604.40" stroke="#f2b266" stroke-width="1.3" fill="none" />
<path d="M456.24,580.90 L456.79,580.90 L456.79,588.75 L460.10,588.75 L460.10,596.55 L483.82,596.55" stroke="#3aa64a" stroke-width="1.3" fill="none" />
<path d="M452.93,580.90 L453.48,580.90 L453.48,588.75 L455.69,588.75 L455.69,604.40 L457.90,604.40 L457.90,612.25 L461.21,612.25 L461.21,620.05 L476.65,620.05 L476.65,627.90 L476.65,627.90" stroke="#8b4fa8" stroke-width="1.3" fill="none" />
<path d="M452.93,580.90 L453.48,580.90 L453.48,588.75 L456.79,588.75 L456.79,604.40 L459.00,604.40 L459.00,620.05 L470.03,620.05 L470.03,627.90 L470.03,627.90" stroke="#e0262f" stroke-width="1.3" fill="none" />
<path d="M422.60,580.90 L479.96,580.90 L479.96,588.75 L483.27,588.75" stroke="#111111" stroke-width="1.3" fill="none" />
<text x="6.40" y="682.30" font-size="13.5" fill="#000" font-weight="bold">I</text>
<defs><path id="ms" d="M6,1.2 C7.5,1.2 8.2,2.6 8.4,4.2 L9.3,5.0 L9.1,6.5 C10.2,7.5 10.8,9.5 11.0,12 C11.3,15 11.4,18 11.2,20.5 C11.0,22.8 10.3,24 9.3,24.8 L8.4,25.7 L7.5,25.0 L6.6,25.4 L6.4,27.5 L5.6,27.5 L5.4,25.4 L4.5,25.0 L3.6,25.7 L2.7,24.8 C1.7,24 1.0,22.8 0.8,20.5 C0.6,18 0.7,15 1.0,12 C1.2,9.5 1.8,7.5 2.9,6.5 L2.7,5.0 L3.6,4.2 C3.8,2.6 4.5,1.2 6,1.2 Z"/><linearGradient id="mg" x1="0" y1="0" x2="1" y2="0"><stop offset="0" stop-color="#c4c4ca"/><stop offset="0.22" stop-color="#ececf0"/><stop offset="0.5" stop-color="#f6f6f8"/><stop offset="0.78" stop-color="#eaeaee"/><stop offset="1" stop-color="#c0c0c6"/></linearGradient><radialGradient id="gp"><stop offset="0" stop-color="#6a5cc8" stop-opacity="0.75"/><stop offset="0.6" stop-color="#7a6cd0" stop-opacity="0.5"/><stop offset="1" stop-color="#8a80d8" stop-opacity="0"/></radialGradient><radialGradient id="gb"><stop offset="0" stop-color="#6a70e0"/><stop offset="0.35" stop-color="#5058d8"/><stop offset="0.6" stop-color="#2c30b8" stop-opacity="0.95"/><stop offset="0.8" stop-color="#4040c0" stop-opacity="0.6"/><stop offset="1" stop-color="#5050c8" stop-opacity="0"/></radialGradient><radialGradient id="gc"><stop offset="0" stop-color="#60c050"/><stop offset="0.3" stop-color="#30c0d8"/><stop offset="0.65" stop-color="#2a50d0"/><stop offset="0.85" stop-color="#3038c0" stop-opacity="0.7"/><stop offset="1" stop-color="#3038c0" stop-opacity="0"/></radialGradient><radialGradient id="gh"><stop offset="0" stop-color="#e82a1c"/><stop offset="0.3" stop-color="#e83a20"/><stop offset="0.42" stop-color="#f0d030"/><stop offset="0.55" stop-color="#40c050"/><stop offset="0.68" stop-color="#30c0e0"/><stop offset="0.85" stop-color="#2a40d0"/><stop offset="1" stop-color="#3038c0" stop-opacity="0"/></radialGradient><radialGradient id="ghy"><stop offset="0" stop-color="#e8e040"/><stop offset="0.3" stop-color="#a0d040"/><stop offset="0.5" stop-color="#40c050"/><stop offset="0.68" stop-color="#30c0e0"/><stop offset="0.85" stop-color="#2a40d0"/><stop offset="1" stop-color="#3038c0" stop-opacity="0"/></radialGradient></defs>
<line x1="23.00" y1="703.85" x2="96.90" y2="703.85" stroke="#8c8c8c" stroke-width="2.0" />
<rect x="23.00" y="706.90" width="73.90" height="27.50" fill="#0c0c0c" stroke="none" stroke-width="1" />
<use href="#ms" transform="translate(23.30,706.90) scale(0.935,1.000)" fill="url(#mg)"/>
<ellipse cx="27.92" cy="716.31" rx="1.35" ry="1.10" fill="#8a8a94" fill-opacity="0.3"/>
<ellipse cx="29.11" cy="719.75" rx="0.76" ry="1.71" fill="#8a8a94" fill-opacity="0.3"/>
<ellipse cx="26.31" cy="720.84" rx="0.77" ry="1.13" fill="#8a8a94" fill-opacity="0.3"/>
<ellipse cx="28.49" cy="727.13" rx="0.82" ry="1.31" fill="#8a8a94" fill-opacity="0.3"/>
<ellipse cx="28.91" cy="714.40" rx="1.3" ry="0.8" fill="#7a7a84" fill-opacity="0.45"/>
<use href="#ms" transform="translate(35.62,706.90) scale(0.935,1.000)" fill="url(#mg)"/>
<ellipse cx="41.94" cy="729.06" rx="1.28" ry="1.56" fill="#8a8a94" fill-opacity="0.3"/>
<ellipse cx="43.90" cy="714.65" rx="1.56" ry="1.41" fill="#8a8a94" fill-opacity="0.3"/>
<ellipse cx="39.23" cy="715.78" rx="1.01" ry="2.14" fill="#8a8a94" fill-opacity="0.3"/>
<ellipse cx="39.43" cy="723.21" rx="1.34" ry="1.52" fill="#8a8a94" fill-opacity="0.3"/>
<ellipse cx="41.23" cy="714.40" rx="1.3" ry="0.8" fill="#7a7a84" fill-opacity="0.45"/>
<use href="#ms" transform="translate(47.93,706.90) scale(0.935,1.000)" fill="url(#mg)"/>
<ellipse cx="53.81" cy="714.90" rx="0.76" ry="1.29" fill="#8a8a94" fill-opacity="0.3"/>
<ellipse cx="54.55" cy="720.74" rx="1.01" ry="1.82" fill="#8a8a94" fill-opacity="0.3"/>
<ellipse cx="53.28" cy="718.70" rx="1.49" ry="1.98" fill="#8a8a94" fill-opacity="0.3"/>
<ellipse cx="52.11" cy="723.09" rx="1.23" ry="2.23" fill="#8a8a94" fill-opacity="0.3"/>
<ellipse cx="53.54" cy="714.40" rx="1.3" ry="0.8" fill="#7a7a84" fill-opacity="0.45"/>
<use href="#ms" transform="translate(60.25,706.90) scale(0.935,1.000)" fill="url(#mg)"/>
<ellipse cx="67.15" cy="718.51" rx="1.68" ry="1.17" fill="#8a8a94" fill-opacity="0.3"/>
<ellipse cx="65.40" cy="726.01" rx="0.85" ry="1.68" fill="#8a8a94" fill-opacity="0.3"/>
<ellipse cx="63.27" cy="724.59" rx="1.46" ry="1.80" fill="#8a8a94" fill-opacity="0.3"/>
<ellipse cx="67.96" cy="718.92" rx="1.40" ry="1.83" fill="#8a8a94" fill-opacity="0.3"/>
<ellipse cx="65.86" cy="714.40" rx="1.3" ry="0.8" fill="#7a7a84" fill-opacity="0.45"/>
<use href="#ms" transform="translate(72.57,706.90) scale(0.935,1.000)" fill="url(#mg)"/>
<ellipse cx="78.62" cy="721.20" rx="1.54" ry="2.32" fill="#8a8a94" fill-opacity="0.3"/>
<ellipse cx="78.03" cy="724.53" rx="0.76" ry="1.98" fill="#8a8a94" fill-opacity="0.3"/>
<ellipse cx="79.00" cy="729.79" rx="1.52" ry="1.40" fill="#8a8a94" fill-opacity="0.3"/>
<ellipse cx="77.53" cy="724.60" rx="0.72" ry="1.65" fill="#8a8a94" fill-opacity="0.3"/>
<ellipse cx="78.18" cy="714.40" rx="1.3" ry="0.8" fill="#7a7a84" fill-opacity="0.45"/>
<use href="#ms" transform="translate(84.88,706.90) scale(0.935,1.000)" fill="url(#mg)"/>
<ellipse cx="88.63" cy="715.77" rx="0.76" ry="2.08" fill="#8a8a94" fill-opacity="0.3"/>
<ellipse cx="88.41" cy="717.86" rx="1.09" ry="2.22" fill="#8a8a94" fill-opacity="0.3"/>
<ellipse cx="88.14" cy="721.09" rx="1.25" ry="2.24" fill="#8a8a94" fill-opacity="0.3"/>
<ellipse cx="92.28" cy="727.72" rx="0.98" ry="1.58" fill="#8a8a94" fill-opacity="0.3"/>
<ellipse cx="90.49" cy="714.40" rx="1.3" ry="0.8" fill="#7a7a84" fill-opacity="0.45"/>
<path d="M35.12,706.90V734.40M47.43,706.90V734.40M59.75,706.90V734.40M72.07,706.90V734.40M84.38,706.90V734.40" stroke="#a8a8a8" stroke-width="0.9" fill="none" />
<rect x="23.00" y="736.40" width="73.90" height="27.60" fill="#0c0c0c" stroke="none" stroke-width="1" />
<use href="#ms" transform="translate(23.30,736.40) scale(0.935,1.004)" fill="url(#mg)"/>
<ellipse cx="28.12" cy="757.62" rx="1.66" ry="1.21" fill="#8a8a94" fill-opacity="0.3"/>
<ellipse cx="27.09" cy="747.15" rx="0.93" ry="1.68" fill="#8a8a94" fill-opacity="0.3"/>
<ellipse cx="29.41" cy="747.64" rx="0.70" ry="1.59" fill="#8a8a94" fill-opacity="0.3"/>
<ellipse cx="28.18" cy="752.52" rx="1.65" ry="1.97" fill="#8a8a94" fill-opacity="0.3"/>
<ellipse cx="28.91" cy="743.93" rx="1.3" ry="0.8" fill="#7a7a84" fill-opacity="0.45"/>
<use href="#ms" transform="translate(35.62,736.40) scale(0.935,1.004)" fill="url(#mg)"/>
<ellipse cx="41.31" cy="753.34" rx="1.38" ry="1.08" fill="#8a8a94" fill-opacity="0.3"/>
<ellipse cx="43.47" cy="755.95" rx="1.57" ry="2.12" fill="#8a8a94" fill-opacity="0.3"/>
<ellipse cx="40.62" cy="749.83" rx="0.80" ry="1.89" fill="#8a8a94" fill-opacity="0.3"/>
<ellipse cx="38.77" cy="744.51" rx="0.91" ry="1.23" fill="#8a8a94" fill-opacity="0.3"/>
<ellipse cx="41.23" cy="743.93" rx="1.3" ry="0.8" fill="#7a7a84" fill-opacity="0.45"/>
<use href="#ms" transform="translate(47.93,736.40) scale(0.935,1.004)" fill="url(#mg)"/>
<ellipse cx="52.64" cy="744.27" rx="0.70" ry="1.21" fill="#8a8a94" fill-opacity="0.3"/>
<ellipse cx="51.31" cy="749.26" rx="0.73" ry="2.22" fill="#8a8a94" fill-opacity="0.3"/>
<ellipse cx="54.18" cy="745.81" rx="0.95" ry="1.49" fill="#8a8a94" fill-opacity="0.3"/>
<ellipse cx="52.78" cy="745.40" rx="1.55" ry="2.39" fill="#8a8a94" fill-opacity="0.3"/>
<ellipse cx="53.54" cy="743.93" rx="1.3" ry="0.8" fill="#7a7a84" fill-opacity="0.45"/>
<use href="#ms" transform="translate(60.25,736.40) scale(0.935,1.004)" fill="url(#mg)"/>
<ellipse cx="65.67" cy="751.19" rx="0.79" ry="1.14" fill="#8a8a94" fill-opacity="0.3"/>
<ellipse cx="64.98" cy="747.68" rx="1.53" ry="1.23" fill="#8a8a94" fill-opacity="0.3"/>
<ellipse cx="63.18" cy="758.70" rx="1.23" ry="1.21" fill="#8a8a94" fill-opacity="0.3"/>
<ellipse cx="66.10" cy="743.86" rx="1.23" ry="2.37" fill="#8a8a94" fill-opacity="0.3"/>
<ellipse cx="65.86" cy="743.93" rx="1.3" ry="0.8" fill="#7a7a84" fill-opacity="0.45"/>
<use href="#ms" transform="translate(72.57,736.40) scale(0.935,1.004)" fill="url(#mg)"/>
<ellipse cx="80.21" cy="754.61" rx="0.96" ry="1.51" fill="#8a8a94" fill-opacity="0.3"/>
<ellipse cx="76.31" cy="755.82" rx="1.23" ry="2.09" fill="#8a8a94" fill-opacity="0.3"/>
<ellipse cx="77.22" cy="747.01" rx="1.51" ry="2.38" fill="#8a8a94" fill-opacity="0.3"/>
<ellipse cx="80.15" cy="756.37" rx="1.52" ry="2.04" fill="#8a8a94" fill-opacity="0.3"/>
<ellipse cx="78.18" cy="743.93" rx="1.3" ry="0.8" fill="#7a7a84" fill-opacity="0.45"/>
<use href="#ms" transform="translate(84.88,736.40) scale(0.935,1.004)" fill="url(#mg)"/>
<ellipse cx="88.96" cy="751.74" rx="1.06" ry="1.04" fill="#8a8a94" fill-opacity="0.3"/>
<ellipse cx="87.84" cy="747.91" rx="0.96" ry="1.97" fill="#8a8a94" fill-opacity="0.3"/>
<ellipse cx="93.05" cy="750.61" rx="1.64" ry="2.38" fill="#8a8a94" fill-opacity="0.3"/>
<ellipse cx="93.04" cy="749.28" rx="0.92" ry="1.32" fill="#8a8a94" fill-opacity="0.3"/>
<ellipse cx="90.49" cy="743.93" rx="1.3" ry="0.8" fill="#7a7a84" fill-opacity="0.45"/>
<path d="M35.12,736.40V764.00M47.43,736.40V764.00M59.75,736.40V764.00M72.07,736.40V764.00M84.38,736.40V764.00" stroke="#a8a8a8" stroke-width="0.9" fill="none" />
<rect x="23.00" y="765.80" width="73.90" height="27.40" fill="#0c0c0c" stroke="none" stroke-width="1" />
<use href="#ms" transform="translate(23.30,765.80) scale(0.935,0.996)" fill="url(#mg)"/>
<ellipse cx="27.21" cy="776.03" rx="1.32" ry="2.26" fill="#8a8a94" fill-opacity="0.3"/>
<ellipse cx="30.82" cy="780.42" rx="1.35" ry="2.12" fill="#8a8a94" fill-opacity="0.3"/>
<ellipse cx="26.58" cy="783.31" rx="1.61" ry="2.10" fill="#8a8a94" fill-opacity="0.3"/>
<ellipse cx="30.31" cy="780.40" rx="0.88" ry="2.10" fill="#8a8a94" fill-opacity="0.3"/>
<ellipse cx="28.91" cy="773.27" rx="1.3" ry="0.8" fill="#7a7a84" fill-opacity="0.45"/>
<use href="#ms" transform="translate(35.62,765.80) scale(0.935,0.996)" fill="url(#mg)"/>
<ellipse cx="40.29" cy="785.54" rx="1.67" ry="1.55" fill="#8a8a94" fill-opacity="0.3"/>
<ellipse cx="40.67" cy="787.87" rx="1.42" ry="1.24" fill="#8a8a94" fill-opacity="0.3"/>
<ellipse cx="39.13" cy="775.18" rx="1.60" ry="2.13" fill="#8a8a94" fill-opacity="0.3"/>
<ellipse cx="39.24" cy="785.95" rx="1.68" ry="1.92" fill="#8a8a94" fill-opacity="0.3"/>
<ellipse cx="41.23" cy="773.27" rx="1.3" ry="0.8" fill="#7a7a84" fill-opacity="0.45"/>
<use href="#ms" transform="translate(47.93,765.80) scale(0.935,0.996)" fill="url(#mg)"/>
<ellipse cx="52.70" cy="781.52" rx="0.83" ry="1.02" fill="#8a8a94" fill-opacity="0.3"/>
<ellipse cx="56.18" cy="783.13" rx="1.23" ry="2.31" fill="#8a8a94" fill-opacity="0.3"/>
<ellipse cx="53.17" cy="786.67" rx="1.53" ry="1.30" fill="#8a8a94" fill-opacity="0.3"/>
<ellipse cx="52.15" cy="777.44" rx="0.94" ry="1.82" fill="#8a8a94" fill-opacity="0.3"/>
<ellipse cx="53.54" cy="773.27" rx="1.3" ry="0.8" fill="#7a7a84" fill-opacity="0.45"/>
<use href="#ms" transform="translate(60.25,765.80) scale(0.935,0.996)" fill="url(#mg)"/>
<ellipse cx="64.51" cy="779.45" rx="0.83" ry="2.27" fill="#8a8a94" fill-opacity="0.3"/>
<ellipse cx="65.04" cy="780.08" rx="1.28" ry="2.27" fill="#8a8a94" fill-opacity="0.3"/>
<ellipse cx="65.41" cy="787.40" rx="1.20" ry="1.74" fill="#8a8a94" fill-opacity="0.3"/>
<ellipse cx="65.99" cy="773.07" rx="1.14" ry="1.26" fill="#8a8a94" fill-opacity="0.3"/>
<ellipse cx="65.86" cy="773.27" rx="1.3" ry="0.8" fill="#7a7a84" fill-opacity="0.45"/>
<use href="#ms" transform="translate(72.57,765.80) scale(0.935,0.996)" fill="url(#mg)"/>
<ellipse cx="75.39" cy="785.51" rx="0.87" ry="1.66" fill="#8a8a94" fill-opacity="0.3"/>
<ellipse cx="79.44" cy="781.65" rx="1.03" ry="1.73" fill="#8a8a94" fill-opacity="0.3"/>
<ellipse cx="78.49" cy="785.28" rx="0.81" ry="1.78" fill="#8a8a94" fill-opacity="0.3"/>
<ellipse cx="76.76" cy="777.19" rx="1.47" ry="1.71" fill="#8a8a94" fill-opacity="0.3"/>
<ellipse cx="78.18" cy="773.27" rx="1.3" ry="0.8" fill="#7a7a84" fill-opacity="0.45"/>
<use href="#ms" transform="translate(84.88,765.80) scale(0.935,0.996)" fill="url(#mg)"/>
<ellipse cx="90.84" cy="784.89" rx="1.61" ry="1.62" fill="#8a8a94" fill-opacity="0.3"/>
<ellipse cx="91.12" cy="780.83" rx="1.21" ry="1.97" fill="#8a8a94" fill-opacity="0.3"/>
<ellipse cx="90.22" cy="781.28" rx="1.18" ry="2.32" fill="#8a8a94" fill-opacity="0.3"/>
<ellipse cx="91.61" cy="786.75" rx="1.64" ry="1.36" fill="#8a8a94" fill-opacity="0.3"/>
<ellipse cx="90.49" cy="773.27" rx="1.3" ry="0.8" fill="#7a7a84" fill-opacity="0.45"/>
<path d="M35.12,765.80V793.20M47.43,765.80V793.20M59.75,765.80V793.20M72.07,765.80V793.20M84.38,765.80V793.20" stroke="#a8a8a8" stroke-width="0.9" fill="none" />
<rect x="23.00" y="794.90" width="73.90" height="28.10" fill="#0c0c0c" stroke="none" stroke-width="1" />
<use href="#ms" transform="translate(23.30,794.90) scale(0.935,1.022)" fill="url(#mg)"/>
<ellipse cx="29.24" cy="817.47" rx="1.54" ry="1.19" fill="#8a8a94" fill-opacity="0.3"/>
<ellipse cx="26.79" cy="809.28" rx="0.77" ry="1.34" fill="#8a8a94" fill-opacity="0.3"/>
<ellipse cx="26.51" cy="813.00" rx="1.48" ry="2.26" fill="#8a8a94" fill-opacity="0.3"/>
<ellipse cx="26.97" cy="813.76" rx="1.36" ry="1.20" fill="#8a8a94" fill-opacity="0.3"/>
<ellipse cx="28.91" cy="802.56" rx="1.3" ry="0.8" fill="#7a7a84" fill-opacity="0.45"/>
<use href="#ms" transform="translate(35.62,794.90) scale(0.935,1.022)" fill="url(#mg)"/>
<ellipse cx="43.37" cy="817.87" rx="0.92" ry="2.33" fill="#8a8a94" fill-opacity="0.3"/>
<ellipse cx="40.65" cy="810.02" rx="1.69" ry="2.17" fill="#8a8a94" fill-opacity="0.3"/>
<ellipse cx="39.33" cy="809.11" rx="1.22" ry="1.47" fill="#8a8a94" fill-opacity="0.3"/>
<ellipse cx="39.52" cy="807.26" rx="1.42" ry="1.03" fill="#8a8a94" fill-opacity="0.3"/>
<ellipse cx="41.23" cy="802.56" rx="1.3" ry="0.8" fill="#7a7a84" fill-opacity="0.45"/>
<use href="#ms" transform="translate(47.93,794.90) scale(0.935,1.022)" fill="url(#mg)"/>
<ellipse cx="53.84" cy="809.25" rx="0.72" ry="1.46" fill="#8a8a94" fill-opacity="0.3"/>
<ellipse cx="54.24" cy="810.43" rx="0.76" ry="2.38" fill="#8a8a94" fill-opacity="0.3"/>
<ellipse cx="55.16" cy="817.94" rx="0.80" ry="1.37" fill="#8a8a94" fill-opacity="0.3"/>
<ellipse cx="50.96" cy="814.79" rx="0.97" ry="1.18" fill="#8a8a94" fill-opacity="0.3"/>
<ellipse cx="53.54" cy="802.56" rx="1.3" ry="0.8" fill="#7a7a84" fill-opacity="0.45"/>
<use href="#ms" transform="translate(60.25,794.90) scale(0.935,1.022)" fill="url(#mg)"/>
<ellipse cx="65.42" cy="816.95" rx="1.52" ry="1.36" fill="#8a8a94" fill-opacity="0.3"/>
<ellipse cx="63.89" cy="817.08" rx="1.27" ry="1.98" fill="#8a8a94" fill-opacity="0.3"/>
<ellipse cx="63.56" cy="802.99" rx="1.39" ry="1.60" fill="#8a8a94" fill-opacity="0.3"/>
<ellipse cx="63.46" cy="817.39" rx="1.33" ry="2.12" fill="#8a8a94" fill-opacity="0.3"/>
<ellipse cx="65.86" cy="802.56" rx="1.3" ry="0.8" fill="#7a7a84" fill-opacity="0.45"/>
<use href="#ms" transform="translate(72.57,794.90) scale(0.935,1.022)" fill="url(#mg)"/>
<ellipse cx="75.84" cy="816.05" rx="0.77" ry="2.21" fill="#8a8a94" fill-opacity="0.3"/>
<ellipse cx="77.92" cy="807.60" rx="1.25" ry="2.30" fill="#8a8a94" fill-opacity="0.3"/>
<ellipse cx="76.87" cy="804.17" rx="1.23" ry="1.33" fill="#8a8a94" fill-opacity="0.3"/>
<ellipse cx="75.98" cy="804.69" rx="0.75" ry="1.28" fill="#8a8a94" fill-opacity="0.3"/>
<ellipse cx="78.18" cy="802.56" rx="1.3" ry="0.8" fill="#7a7a84" fill-opacity="0.45"/>
<use href="#ms" transform="translate(84.88,794.90) scale(0.935,1.022)" fill="url(#mg)"/>
<ellipse cx="89.44" cy="807.04" rx="1.46" ry="1.41" fill="#8a8a94" fill-opacity="0.3"/>
<ellipse cx="90.49" cy="804.96" rx="1.05" ry="1.03" fill="#8a8a94" fill-opacity="0.3"/>
<ellipse cx="89.09" cy="802.30" rx="1.43" ry="1.77" fill="#8a8a94" fill-opacity="0.3"/>
<ellipse cx="88.75" cy="809.81" rx="1.63" ry="1.15" fill="#8a8a94" fill-opacity="0.3"/>
<ellipse cx="90.49" cy="802.56" rx="1.3" ry="0.8" fill="#7a7a84" fill-opacity="0.45"/>
<path d="M35.12,794.90V823.00M47.43,794.90V823.00M59.75,794.90V823.00M72.07,794.90V823.00M84.38,794.90V823.00" stroke="#a8a8a8" stroke-width="0.9" fill="none" />
<line x1="99.20" y1="703.85" x2="172.50" y2="703.85" stroke="#8c8c8c" stroke-width="2.0" />
<rect x="99.20" y="706.90" width="73.30" height="27.50" fill="#0c0c0c" stroke="none" stroke-width="1" />
<use href="#ms" transform="translate(99.50,706.90) scale(0.926,1.000)" fill="url(#mg)"/>
<ellipse cx="106.83" cy="720.81" rx="1.20" ry="2.17" fill="#8a8a94" fill-opacity="0.3"/>
<ellipse cx="104.46" cy="722.01" rx="1.39" ry="2.38" fill="#8a8a94" fill-opacity="0.3"/>
<ellipse cx="104.18" cy="727.22" rx="1.41" ry="1.89" fill="#8a8a94" fill-opacity="0.3"/>
<ellipse cx="104.53" cy="719.46" rx="0.75" ry="1.18" fill="#8a8a94" fill-opacity="0.3"/>
<ellipse cx="105.06" cy="714.40" rx="1.3" ry="0.8" fill="#7a7a84" fill-opacity="0.45"/>
<use href="#ms" transform="translate(111.72,706.90) scale(0.926,1.000)" fill="url(#mg)"/>
<ellipse cx="114.89" cy="725.75" rx="0.96" ry="1.23" fill="#8a8a94" fill-opacity="0.3"/>
<ellipse cx="114.97" cy="727.36" rx="1.57" ry="1.94" fill="#8a8a94" fill-opacity="0.3"/>
<ellipse cx="116.06" cy="717.78" rx="0.99" ry="1.64" fill="#8a8a94" fill-opacity="0.3"/>
<ellipse cx="115.37" cy="721.03" rx="0.96" ry="2.35" fill="#8a8a94" fill-opacity="0.3"/>
<ellipse cx="117.28" cy="714.40" rx="1.3" ry="0.8" fill="#7a7a84" fill-opacity="0.45"/>
<use href="#ms" transform="translate(123.93,706.90) scale(0.926,1.000)" fill="url(#mg)"/>
<ellipse cx="132.12" cy="722.65" rx="0.94" ry="2.35" fill="#8a8a94" fill-opacity="0.3"/>
<ellipse cx="128.43" cy="719.61" rx="0.70" ry="1.53" fill="#8a8a94" fill-opacity="0.3"/>
<ellipse cx="129.35" cy="721.94" rx="0.90" ry="1.71" fill="#8a8a94" fill-opacity="0.3"/>
<ellipse cx="126.74" cy="718.13" rx="0.79" ry="1.56" fill="#8a8a94" fill-opacity="0.3"/>
<ellipse cx="129.49" cy="714.40" rx="1.3" ry="0.8" fill="#7a7a84" fill-opacity="0.45"/>
<use href="#ms" transform="translate(136.15,706.90) scale(0.926,1.000)" fill="url(#mg)"/>
<ellipse cx="139.16" cy="714.26" rx="1.00" ry="1.33" fill="#8a8a94" fill-opacity="0.3"/>
<ellipse cx="142.18" cy="722.37" rx="1.45" ry="1.92" fill="#8a8a94" fill-opacity="0.3"/>
<ellipse cx="142.91" cy="727.97" rx="1.09" ry="1.46" fill="#8a8a94" fill-opacity="0.3"/>
<ellipse cx="144.40" cy="716.29" rx="1.42" ry="1.90" fill="#8a8a94" fill-opacity="0.3"/>
<ellipse cx="141.71" cy="714.40" rx="1.3" ry="0.8" fill="#7a7a84" fill-opacity="0.45"/>
<use href="#ms" transform="translate(148.37,706.90) scale(0.926,1.000)" fill="url(#mg)"/>
<ellipse cx="151.39" cy="727.26" rx="1.59" ry="1.88" fill="#8a8a94" fill-opacity="0.3"/>
<ellipse cx="155.22" cy="726.90" rx="0.84" ry="1.73" fill="#8a8a94" fill-opacity="0.3"/>
<ellipse cx="153.95" cy="727.26" rx="1.50" ry="2.16" fill="#8a8a94" fill-opacity="0.3"/>
<ellipse cx="154.39" cy="728.19" rx="1.38" ry="1.97" fill="#8a8a94" fill-opacity="0.3"/>
<ellipse cx="153.93" cy="714.40" rx="1.3" ry="0.8" fill="#7a7a84" fill-opacity="0.45"/>
<use href="#ms" transform="translate(160.58,706.90) scale(0.926,1.000)" fill="url(#mg)"/>
<ellipse cx="164.64" cy="714.40" rx="0.83" ry="1.50" fill="#8a8a94" fill-opacity="0.3"/>
<ellipse cx="163.95" cy="727.27" rx="1.26" ry="1.88" fill="#8a8a94" fill-opacity="0.3"/>
<ellipse cx="166.84" cy="724.79" rx="1.19" ry="1.00" fill="#8a8a94" fill-opacity="0.3"/>
<ellipse cx="167.80" cy="725.87" rx="1.20" ry="1.75" fill="#8a8a94" fill-opacity="0.3"/>
<ellipse cx="166.14" cy="714.40" rx="1.3" ry="0.8" fill="#7a7a84" fill-opacity="0.45"/>
<path d="M111.22,706.90V734.40M123.43,706.90V734.40M135.65,706.90V734.40M147.87,706.90V734.40M160.08,706.90V734.40" stroke="#a8a8a8" stroke-width="0.9" fill="none" />
<rect x="99.20" y="736.40" width="73.30" height="27.60" fill="#0c0c0c" stroke="none" stroke-width="1" />
<use href="#ms" transform="translate(99.50,736.40) scale(0.926,1.004)" fill="url(#mg)"/>
<ellipse cx="105.94" cy="744.49" rx="1.44" ry="1.35" fill="#8a8a94" fill-opacity="0.3"/>
<ellipse cx="102.69" cy="747.69" rx="1.43" ry="1.29" fill="#8a8a94" fill-opacity="0.3"/>
<ellipse cx="106.39" cy="759.09" rx="1.19" ry="1.54" fill="#8a8a94" fill-opacity="0.3"/>
<ellipse cx="104.94" cy="754.40" rx="1.47" ry="1.86" fill="#8a8a94" fill-opacity="0.3"/>
<ellipse cx="105.06" cy="743.93" rx="1.3" ry="0.8" fill="#7a7a84" fill-opacity="0.45"/>
<use href="#ms" transform="translate(111.72,736.40) scale(0.926,1.004)" fill="url(#mg)"/>
<ellipse cx="118.07" cy="744.67" rx="0.85" ry="1.36" fill="#8a8a94" fill-opacity="0.3"/>
<ellipse cx="118.63" cy="748.31" rx="1.27" ry="1.02" fill="#8a8a94" fill-opacity="0.3"/>
<ellipse cx="114.83" cy="747.74" rx="1.37" ry="1.97" fill="#8a8a94" fill-opacity="0.3"/>
<ellipse cx="118.25" cy="748.10" rx="1.22" ry="1.65" fill="#8a8a94" fill-opacity="0.3"/>
<ellipse cx="117.28" cy="743.93" rx="1.3" ry="0.8" fill="#7a7a84" fill-opacity="0.45"/>
<use href="#ms" transform="translate(123.93,736.40) scale(0.926,1.004)" fill="url(#mg)"/>
<ellipse cx="129.30" cy="745.33" rx="1.59" ry="1.28" fill="#8a8a94" fill-opacity="0.3"/>
<ellipse cx="132.15" cy="758.46" rx="0.72" ry="1.64" fill="#8a8a94" fill-opacity="0.3"/>
<ellipse cx="131.27" cy="758.97" rx="1.15" ry="1.38" fill="#8a8a94" fill-opacity="0.3"/>
<ellipse cx="127.88" cy="758.61" rx="0.91" ry="1.81" fill="#8a8a94" fill-opacity="0.3"/>
<ellipse cx="129.49" cy="743.93" rx="1.3" ry="0.8" fill="#7a7a84" fill-opacity="0.45"/>
<use href="#ms" transform="translate(136.15,736.40) scale(0.926,1.004)" fill="url(#mg)"/>
<ellipse cx="139.72" cy="751.84" rx="1.65" ry="1.19" fill="#8a8a94" fill-opacity="0.3"/>
<ellipse cx="143.49" cy="751.59" rx="1.59" ry="1.98" fill="#8a8a94" fill-opacity="0.3"/>
<ellipse cx="140.22" cy="757.84" rx="1.19" ry="1.03" fill="#8a8a94" fill-opacity="0.3"/>
<ellipse cx="138.95" cy="751.32" rx="1.15" ry="1.42" fill="#8a8a94" fill-opacity="0.3"/>
<ellipse cx="141.71" cy="743.93" rx="1.3" ry="0.8" fill="#7a7a84" fill-opacity="0.45"/>
<use href="#ms" transform="translate(148.37,736.40) scale(0.926,1.004)" fill="url(#mg)"/>
<ellipse cx="151.93" cy="748.95" rx="1.02" ry="2.18" fill="#8a8a94" fill-opacity="0.3"/>
<ellipse cx="151.16" cy="755.48" rx="1.54" ry="1.17" fill="#8a8a94" fill-opacity="0.3"/>
<ellipse cx="156.30" cy="754.88" rx="1.60" ry="1.41" fill="#8a8a94" fill-opacity="0.3"/>
<ellipse cx="153.21" cy="749.73" rx="1.70" ry="1.82" fill="#8a8a94" fill-opacity="0.3"/>
<ellipse cx="153.93" cy="743.93" rx="1.3" ry="0.8" fill="#7a7a84" fill-opacity="0.45"/>
<use href="#ms" transform="translate(160.58,736.40) scale(0.926,1.004)" fill="url(#mg)"/>
<ellipse cx="165.37" cy="750.30" rx="0.98" ry="1.07" fill="#8a8a94" fill-opacity="0.3"/>
<ellipse cx="163.93" cy="756.83" rx="0.99" ry="2.31" fill="#8a8a94" fill-opacity="0.3"/>
<ellipse cx="164.75" cy="747.69" rx="1.21" ry="1.27" fill="#8a8a94" fill-opacity="0.3"/>
<ellipse cx="165.44" cy="758.78" rx="1.58" ry="2.14" fill="#8a8a94" fill-opacity="0.3"/>
<ellipse cx="166.14" cy="743.93" rx="1.3" ry="0.8" fill="#7a7a84" fill-opacity="0.45"/>
<path d="M111.22,736.40V764.00M123.43,736.40V764.00M135.65,736.40V764.00M147.87,736.40V764.00M160.08,736.40V764.00" stroke="#a8a8a8" stroke-width="0.9" fill="none" />
<rect x="99.20" y="765.80" width="73.30" height="27.40" fill="#0c0c0c" stroke="none" stroke-width="1" />
<use href="#ms" transform="translate(99.50,765.80) scale(0.926,0.996)" fill="url(#mg)"/>
<ellipse cx="105.79" cy="787.34" rx="1.64" ry="1.77" fill="#8a8a94" fill-opacity="0.3"/>
<ellipse cx="106.28" cy="773.56" rx="1.43" ry="1.63" fill="#8a8a94" fill-opacity="0.3"/>
<ellipse cx="106.46" cy="783.05" rx="0.99" ry="1.07" fill="#8a8a94" fill-opacity="0.3"/>
<ellipse cx="107.43" cy="774.80" rx="1.17" ry="1.48" fill="#8a8a94" fill-opacity="0.3"/>
<ellipse cx="105.06" cy="773.27" rx="1.3" ry="0.8" fill="#7a7a84" fill-opacity="0.45"/>
<use href="#ms" transform="translate(111.72,765.80) scale(0.926,0.996)" fill="url(#mg)"/>
<ellipse cx="116.15" cy="784.56" rx="1.68" ry="1.36" fill="#8a8a94" fill-opacity="0.3"/>
<ellipse cx="118.14" cy="777.57" rx="1.26" ry="1.55" fill="#8a8a94" fill-opacity="0.3"/>
<ellipse cx="115.43" cy="775.35" rx="0.91" ry="2.27" fill="#8a8a94" fill-opacity="0.3"/>
<ellipse cx="117.26" cy="776.28" rx="1.61" ry="2.40" fill="#8a8a94" fill-opacity="0.3"/>
<ellipse cx="117.28" cy="773.27" rx="1.3" ry="0.8" fill="#7a7a84" fill-opacity="0.45"/>
<use href="#ms" transform="translate(123.93,765.80) scale(0.926,0.996)" fill="url(#mg)"/>
<ellipse cx="129.21" cy="775.00" rx="0.89" ry="1.13" fill="#8a8a94" fill-opacity="0.3"/>
<ellipse cx="128.61" cy="774.23" rx="0.94" ry="1.36" fill="#8a8a94" fill-opacity="0.3"/>
<ellipse cx="129.88" cy="786.92" rx="1.45" ry="1.58" fill="#8a8a94" fill-opacity="0.3"/>
<ellipse cx="129.01" cy="781.13" rx="1.08" ry="1.47" fill="#8a8a94" fill-opacity="0.3"/>
<ellipse cx="129.49" cy="773.27" rx="1.3" ry="0.8" fill="#7a7a84" fill-opacity="0.45"/>
<use href="#ms" transform="translate(136.15,765.80) scale(0.926,0.996)" fill="url(#mg)"/>
<ellipse cx="139.27" cy="777.20" rx="1.67" ry="1.18" fill="#8a8a94" fill-opacity="0.3"/>
<ellipse cx="141.73" cy="782.81" rx="1.56" ry="1.30" fill="#8a8a94" fill-opacity="0.3"/>
<ellipse cx="140.44" cy="776.74" rx="1.10" ry="1.62" fill="#8a8a94" fill-opacity="0.3"/>
<ellipse cx="144.23" cy="786.30" rx="1.57" ry="1.03" fill="#8a8a94" fill-opacity="0.3"/>
<ellipse cx="141.71" cy="773.27" rx="1.3" ry="0.8" fill="#7a7a84" fill-opacity="0.45"/>
<use href="#ms" transform="translate(148.37,765.80) scale(0.926,0.996)" fill="url(#mg)"/>
<ellipse cx="151.33" cy="784.09" rx="1.60" ry="1.66" fill="#8a8a94" fill-opacity="0.3"/>
<ellipse cx="154.41" cy="772.78" rx="1.09" ry="2.30" fill="#8a8a94" fill-opacity="0.3"/>
<ellipse cx="155.73" cy="786.41" rx="1.67" ry="1.35" fill="#8a8a94" fill-opacity="0.3"/>
<ellipse cx="151.75" cy="775.24" rx="1.22" ry="1.95" fill="#8a8a94" fill-opacity="0.3"/>
<ellipse cx="153.93" cy="773.27" rx="1.3" ry="0.8" fill="#7a7a84" fill-opacity="0.45"/>
<use href="#ms" transform="translate(160.58,765.80) scale(0.926,0.996)" fill="url(#mg)"/>
<ellipse cx="168.60" cy="784.28" rx="1.35" ry="2.07" fill="#8a8a94" fill-opacity="0.3"/>
<ellipse cx="165.90" cy="781.57" rx="0.74" ry="2.10" fill="#8a8a94" fill-opacity="0.3"/>
<ellipse cx="164.66" cy="787.44" rx="1.35" ry="1.43" fill="#8a8a94" fill-opacity="0.3"/>
<ellipse cx="164.07" cy="776.79" rx="1.34" ry="1.98" fill="#8a8a94" fill-opacity="0.3"/>
<ellipse cx="166.14" cy="773.27" rx="1.3" ry="0.8" fill="#7a7a84" fill-opacity="0.45"/>
<path d="M111.22,765.80V793.20M123.43,765.80V793.20M135.65,765.80V793.20M147.87,765.80V793.20M160.08,765.80V793.20" stroke="#a8a8a8" stroke-width="0.9" fill="none" />
<rect x="99.20" y="794.90" width="73.30" height="28.10" fill="#0c0c0c" stroke="none" stroke-width="1" />
<use href="#ms" transform="translate(99.50,794.90) scale(0.926,1.022)" fill="none" stroke="#505050" stroke-width="0.55"/>
<circle cx="103.84" cy="797.50" r="0.5" fill="#ccc"/><circle cx="106.29" cy="797.50" r="0.5" fill="#ccc"/>
<use href="#ms" transform="translate(111.72,794.90) scale(0.926,1.022)" fill="url(#mg)"/>
<ellipse cx="115.12" cy="803.20" rx="1.22" ry="1.82" fill="#8a8a94" fill-opacity="0.3"/>
<ellipse cx="116.65" cy="805.71" rx="1.30" ry="1.01" fill="#8a8a94" fill-opacity="0.3"/>
<ellipse cx="116.17" cy="809.58" rx="1.66" ry="1.90" fill="#8a8a94" fill-opacity="0.3"/>
<ellipse cx="119.41" cy="809.82" rx="0.93" ry="1.35" fill="#8a8a94" fill-opacity="0.3"/>
<ellipse cx="117.28" cy="802.56" rx="1.3" ry="0.8" fill="#7a7a84" fill-opacity="0.45"/>
<use href="#ms" transform="translate(123.93,794.90) scale(0.926,1.022)" fill="url(#mg)"/>
<ellipse cx="132.05" cy="813.57" rx="1.01" ry="1.03" fill="#8a8a94" fill-opacity="0.3"/>
<ellipse cx="129.48" cy="813.08" rx="1.12" ry="1.36" fill="#8a8a94" fill-opacity="0.3"/>
<ellipse cx="130.42" cy="817.18" rx="0.93" ry="1.05" fill="#8a8a94" fill-opacity="0.3"/>
<ellipse cx="128.59" cy="808.93" rx="1.38" ry="1.28" fill="#8a8a94" fill-opacity="0.3"/>
<ellipse cx="129.49" cy="802.56" rx="1.3" ry="0.8" fill="#7a7a84" fill-opacity="0.45"/>
<use href="#ms" transform="translate(136.15,794.90) scale(0.926,1.022)" fill="url(#mg)"/>
<ellipse cx="143.36" cy="814.14" rx="1.20" ry="1.29" fill="#8a8a94" fill-opacity="0.3"/>
<ellipse cx="144.32" cy="807.15" rx="1.52" ry="1.32" fill="#8a8a94" fill-opacity="0.3"/>
<ellipse cx="140.16" cy="814.49" rx="0.99" ry="2.33" fill="#8a8a94" fill-opacity="0.3"/>
<ellipse cx="141.68" cy="805.12" rx="0.92" ry="1.58" fill="#8a8a94" fill-opacity="0.3"/>
<ellipse cx="141.71" cy="802.56" rx="1.3" ry="0.8" fill="#7a7a84" fill-opacity="0.45"/>
<use href="#ms" transform="translate(148.37,794.90) scale(0.926,1.022)" fill="url(#mg)"/>
<ellipse cx="154.84" cy="817.56" rx="0.85" ry="1.55" fill="#8a8a94" fill-opacity="0.3"/>
<ellipse cx="152.33" cy="817.98" rx="0.84" ry="1.07" fill="#8a8a94" fill-opacity="0.3"/>
<ellipse cx="151.48" cy="808.48" rx="1.60" ry="2.24" fill="#8a8a94" fill-opacity="0.3"/>
<ellipse cx="155.22" cy="818.36" rx="1.63" ry="1.46" fill="#8a8a94" fill-opacity="0.3"/>
<ellipse cx="153.93" cy="802.56" rx="1.3" ry="0.8" fill="#7a7a84" fill-opacity="0.45"/>
<use href="#ms" transform="translate(160.58,794.90) scale(0.926,1.022)" fill="url(#mg)"/>
<ellipse cx="164.39" cy="817.35" rx="1.45" ry="1.04" fill="#8a8a94" fill-opacity="0.3"/>
<ellipse cx="167.06" cy="808.24" rx="1.07" ry="1.46" fill="#8a8a94" fill-opacity="0.3"/>
<ellipse cx="164.30" cy="802.10" rx="0.98" ry="1.49" fill="#8a8a94" fill-opacity="0.3"/>
<ellipse cx="168.67" cy="804.08" rx="1.66" ry="1.29" fill="#8a8a94" fill-opacity="0.3"/>
<ellipse cx="166.14" cy="802.56" rx="1.3" ry="0.8" fill="#7a7a84" fill-opacity="0.45"/>
<path d="M111.22,794.90V823.00M123.43,794.90V823.00M135.65,794.90V823.00M147.87,794.90V823.00M160.08,794.90V823.00" stroke="#a8a8a8" stroke-width="0.9" fill="none" />
<line x1="175.00" y1="703.85" x2="248.70" y2="703.85" stroke="#8c8c8c" stroke-width="2.0" />
<rect x="175.00" y="706.90" width="73.70" height="27.50" fill="#0c0c0c" stroke="none" stroke-width="1" />
<use href="#ms" transform="translate(175.30,706.90) scale(0.932,1.000)" fill="url(#mg)"/>
<ellipse cx="180.09" cy="727.05" rx="1.52" ry="1.61" fill="#8a8a94" fill-opacity="0.3"/>
<ellipse cx="178.37" cy="721.48" rx="1.07" ry="2.29" fill="#8a8a94" fill-opacity="0.3"/>
<ellipse cx="179.18" cy="719.73" rx="1.60" ry="1.04" fill="#8a8a94" fill-opacity="0.3"/>
<ellipse cx="180.39" cy="726.89" rx="1.47" ry="1.06" fill="#8a8a94" fill-opacity="0.3"/>
<ellipse cx="180.89" cy="714.40" rx="1.3" ry="0.8" fill="#7a7a84" fill-opacity="0.45"/>
<use href="#ms" transform="translate(187.58,706.90) scale(0.932,1.000)" fill="url(#mg)"/>
<ellipse cx="190.57" cy="714.90" rx="1.62" ry="1.36" fill="#8a8a94" fill-opacity="0.3"/>
<ellipse cx="194.56" cy="728.28" rx="1.04" ry="1.38" fill="#8a8a94" fill-opacity="0.3"/>
<ellipse cx="195.73" cy="723.77" rx="0.96" ry="2.00" fill="#8a8a94" fill-opacity="0.3"/>
<ellipse cx="192.15" cy="718.31" rx="0.70" ry="2.06" fill="#8a8a94" fill-opacity="0.3"/>
<ellipse cx="193.18" cy="714.40" rx="1.3" ry="0.8" fill="#7a7a84" fill-opacity="0.45"/>
<use href="#ms" transform="translate(199.87,706.90) scale(0.932,1.000)" fill="url(#mg)"/>
<ellipse cx="207.79" cy="724.04" rx="1.64" ry="1.03" fill="#8a8a94" fill-opacity="0.3"/>
<ellipse cx="203.97" cy="721.50" rx="1.66" ry="2.34" fill="#8a8a94" fill-opacity="0.3"/>
<ellipse cx="204.82" cy="717.92" rx="1.13" ry="1.69" fill="#8a8a94" fill-opacity="0.3"/>
<ellipse cx="207.85" cy="716.83" rx="1.50" ry="2.03" fill="#8a8a94" fill-opacity="0.3"/>
<ellipse cx="205.46" cy="714.40" rx="1.3" ry="0.8" fill="#7a7a84" fill-opacity="0.45"/>
<use href="#ms" transform="translate(212.15,706.90) scale(0.932,1.000)" fill="url(#mg)"/>
<ellipse cx="219.55" cy="726.26" rx="1.31" ry="1.46" fill="#8a8a94" fill-opacity="0.3"/>
<ellipse cx="216.73" cy="719.69" rx="1.48" ry="1.11" fill="#8a8a94" fill-opacity="0.3"/>
<ellipse cx="216.05" cy="725.95" rx="0.95" ry="1.09" fill="#8a8a94" fill-opacity="0.3"/>
<ellipse cx="215.14" cy="722.74" rx="1.03" ry="2.37" fill="#8a8a94" fill-opacity="0.3"/>
<ellipse cx="217.74" cy="714.40" rx="1.3" ry="0.8" fill="#7a7a84" fill-opacity="0.45"/>
<use href="#ms" transform="translate(224.43,706.90) scale(0.932,1.000)" fill="url(#mg)"/>
<ellipse cx="232.17" cy="729.71" rx="0.96" ry="1.12" fill="#8a8a94" fill-opacity="0.3"/>
<ellipse cx="227.77" cy="721.88" rx="1.41" ry="1.63" fill="#8a8a94" fill-opacity="0.3"/>
<ellipse cx="228.54" cy="720.57" rx="1.32" ry="1.94" fill="#8a8a94" fill-opacity="0.3"/>
<ellipse cx="231.41" cy="727.45" rx="1.36" ry="1.17" fill="#8a8a94" fill-opacity="0.3"/>
<ellipse cx="230.03" cy="714.40" rx="1.3" ry="0.8" fill="#7a7a84" fill-opacity="0.45"/>
<use href="#ms" transform="translate(236.72,706.90) scale(0.932,1.000)" fill="url(#mg)"/>
<ellipse cx="244.21" cy="718.60" rx="1.27" ry="1.52" fill="#8a8a94" fill-opacity="0.3"/>
<ellipse cx="243.64" cy="717.09" rx="0.95" ry="1.34" fill="#8a8a94" fill-opacity="0.3"/>
<ellipse cx="240.37" cy="728.05" rx="1.28" ry="1.46" fill="#8a8a94" fill-opacity="0.3"/>
<ellipse cx="241.73" cy="729.78" rx="1.21" ry="1.32" fill="#8a8a94" fill-opacity="0.3"/>
<ellipse cx="242.31" cy="714.40" rx="1.3" ry="0.8" fill="#7a7a84" fill-opacity="0.45"/>
<path d="M187.08,706.90V734.40M199.37,706.90V734.40M211.65,706.90V734.40M223.93,706.90V734.40M236.22,706.90V734.40" stroke="#a8a8a8" stroke-width="0.9" fill="none" />
<rect x="175.00" y="736.40" width="73.70" height="27.60" fill="#0c0c0c" stroke="none" stroke-width="1" />
<use href="#ms" transform="translate(175.30,736.40) scale(0.932,1.004)" fill="url(#mg)"/>
<ellipse cx="182.62" cy="753.92" rx="1.69" ry="1.14" fill="#8a8a94" fill-opacity="0.3"/>
<ellipse cx="180.75" cy="756.58" rx="1.54" ry="2.28" fill="#8a8a94" fill-opacity="0.3"/>
<ellipse cx="178.32" cy="748.14" rx="0.82" ry="1.27" fill="#8a8a94" fill-opacity="0.3"/>
<ellipse cx="183.54" cy="752.79" rx="1.63" ry="1.52" fill="#8a8a94" fill-opacity="0.3"/>
<ellipse cx="180.89" cy="743.93" rx="1.3" ry="0.8" fill="#7a7a84" fill-opacity="0.45"/>
<use href="#ms" transform="translate(187.58,736.40) scale(0.932,1.004)" fill="url(#mg)"/>
<ellipse cx="195.22" cy="750.64" rx="0.96" ry="2.09" fill="#8a8a94" fill-opacity="0.3"/>
<ellipse cx="195.67" cy="745.12" rx="1.30" ry="1.87" fill="#8a8a94" fill-opacity="0.3"/>
<ellipse cx="191.60" cy="749.35" rx="0.84" ry="1.29" fill="#8a8a94" fill-opacity="0.3"/>
<ellipse cx="191.80" cy="753.05" rx="1.35" ry="1.28" fill="#8a8a94" fill-opacity="0.3"/>
<ellipse cx="193.18" cy="743.93" rx="1.3" ry="0.8" fill="#7a7a84" fill-opacity="0.45"/>
<use href="#ms" transform="translate(199.87,736.40) scale(0.932,1.004)" fill="url(#mg)"/>
<ellipse cx="202.73" cy="748.68" rx="1.38" ry="1.26" fill="#8a8a94" fill-opacity="0.3"/>
<ellipse cx="204.41" cy="746.69" rx="1.50" ry="1.77" fill="#8a8a94" fill-opacity="0.3"/>
<ellipse cx="203.02" cy="745.05" rx="1.10" ry="1.77" fill="#8a8a94" fill-opacity="0.3"/>
<ellipse cx="206.24" cy="744.89" rx="0.86" ry="1.97" fill="#8a8a94" fill-opacity="0.3"/>
<ellipse cx="205.46" cy="743.93" rx="1.3" ry="0.8" fill="#7a7a84" fill-opacity="0.45"/>
<use href="#ms" transform="translate(212.15,736.40) scale(0.932,1.004)" fill="url(#mg)"/>
<ellipse cx="217.24" cy="747.97" rx="1.01" ry="2.33" fill="#8a8a94" fill-opacity="0.3"/>
<ellipse cx="216.69" cy="752.52" rx="1.06" ry="1.58" fill="#8a8a94" fill-opacity="0.3"/>
<ellipse cx="219.78" cy="759.43" rx="1.06" ry="1.28" fill="#8a8a94" fill-opacity="0.3"/>
<ellipse cx="219.02" cy="746.70" rx="0.71" ry="2.26" fill="#8a8a94" fill-opacity="0.3"/>
<ellipse cx="217.74" cy="743.93" rx="1.3" ry="0.8" fill="#7a7a84" fill-opacity="0.45"/>
<use href="#ms" transform="translate(224.43,736.40) scale(0.932,1.004)" fill="url(#mg)"/>
<ellipse cx="229.60" cy="756.60" rx="1.11" ry="2.24" fill="#8a8a94" fill-opacity="0.3"/>
<ellipse cx="229.81" cy="746.04" rx="0.71" ry="1.77" fill="#8a8a94" fill-opacity="0.3"/>
<ellipse cx="230.81" cy="758.04" rx="0.79" ry="1.87" fill="#8a8a94" fill-opacity="0.3"/>
<ellipse cx="229.30" cy="751.53" rx="0.85" ry="1.40" fill="#8a8a94" fill-opacity="0.3"/>
<ellipse cx="230.03" cy="743.93" rx="1.3" ry="0.8" fill="#7a7a84" fill-opacity="0.45"/>
<use href="#ms" transform="translate(236.72,736.40) scale(0.932,1.004)" fill="url(#mg)"/>
<ellipse cx="242.43" cy="758.29" rx="0.81" ry="1.69" fill="#8a8a94" fill-opacity="0.3"/>
<ellipse cx="244.01" cy="758.95" rx="0.90" ry="1.18" fill="#8a8a94" fill-opacity="0.3"/>
<ellipse cx="244.79" cy="759.09" rx="1.18" ry="1.07" fill="#8a8a94" fill-opacity="0.3"/>
<ellipse cx="244.69" cy="749.65" rx="1.60" ry="1.87" fill="#8a8a94" fill-opacity="0.3"/>
<ellipse cx="242.31" cy="743.93" rx="1.3" ry="0.8" fill="#7a7a84" fill-opacity="0.45"/>
<path d="M187.08,736.40V764.00M199.37,736.40V764.00M211.65,736.40V764.00M223.93,736.40V764.00M236.22,736.40V764.00" stroke="#a8a8a8" stroke-width="0.9" fill="none" />
<rect x="175.00" y="765.80" width="73.70" height="27.40" fill="#0c0c0c" stroke="none" stroke-width="1" />
<use href="#ms" transform="translate(175.30,765.80) scale(0.932,0.996)" fill="url(#mg)"/>
<ellipse cx="182.71" cy="775.33" rx="1.49" ry="1.31" fill="#8a8a94" fill-opacity="0.3"/>
<ellipse cx="180.36" cy="786.27" rx="1.53" ry="1.26" fill="#8a8a94" fill-opacity="0.3"/>
<ellipse cx="179.32" cy="779.15" rx="1.22" ry="1.54" fill="#8a8a94" fill-opacity="0.3"/>
<ellipse cx="178.78" cy="776.71" rx="1.42" ry="2.26" fill="#8a8a94" fill-opacity="0.3"/>
<ellipse cx="180.89" cy="773.27" rx="1.3" ry="0.8" fill="#7a7a84" fill-opacity="0.45"/>
<use href="#ms" transform="translate(187.58,765.80) scale(0.932,0.996)" fill="url(#mg)"/>
<ellipse cx="190.61" cy="781.74" rx="1.46" ry="1.05" fill="#8a8a94" fill-opacity="0.3"/>
<ellipse cx="195.07" cy="774.65" rx="1.30" ry="1.77" fill="#8a8a94" fill-opacity="0.3"/>
<ellipse cx="193.89" cy="777.66" rx="1.12" ry="1.82" fill="#8a8a94" fill-opacity="0.3"/>
<ellipse cx="192.76" cy="783.28" rx="1.15" ry="1.61" fill="#8a8a94" fill-opacity="0.3"/>
<ellipse cx="193.18" cy="773.27" rx="1.3" ry="0.8" fill="#7a7a84" fill-opacity="0.45"/>
<use href="#ms" transform="translate(199.87,765.80) scale(0.932,0.996)" fill="url(#mg)"/>
<ellipse cx="202.79" cy="782.64" rx="1.19" ry="1.33" fill="#8a8a94" fill-opacity="0.3"/>
<ellipse cx="206.93" cy="785.21" rx="1.16" ry="1.25" fill="#8a8a94" fill-opacity="0.3"/>
<ellipse cx="205.31" cy="774.48" rx="0.83" ry="1.60" fill="#8a8a94" fill-opacity="0.3"/>
<ellipse cx="203.18" cy="779.82" rx="1.21" ry="1.06" fill="#8a8a94" fill-opacity="0.3"/>
<ellipse cx="205.46" cy="773.27" rx="1.3" ry="0.8" fill="#7a7a84" fill-opacity="0.45"/>
<use href="#ms" transform="translate(212.15,765.80) scale(0.932,0.996)" fill="url(#mg)"/>
<ellipse cx="218.50" cy="774.09" rx="1.43" ry="2.09" fill="#8a8a94" fill-opacity="0.3"/>
<ellipse cx="217.81" cy="773.64" rx="1.20" ry="1.53" fill="#8a8a94" fill-opacity="0.3"/>
<ellipse cx="220.26" cy="774.95" rx="1.56" ry="2.39" fill="#8a8a94" fill-opacity="0.3"/>
<ellipse cx="219.04" cy="785.77" rx="0.89" ry="2.37" fill="#8a8a94" fill-opacity="0.3"/>
<ellipse cx="217.74" cy="773.27" rx="1.3" ry="0.8" fill="#7a7a84" fill-opacity="0.45"/>
<use href="#ms" transform="translate(224.43,765.80) scale(0.932,0.996)" fill="url(#mg)"/>
<ellipse cx="229.98" cy="788.03" rx="1.62" ry="1.23" fill="#8a8a94" fill-opacity="0.3"/>
<ellipse cx="231.64" cy="787.61" rx="0.77" ry="1.49" fill="#8a8a94" fill-opacity="0.3"/>
<ellipse cx="231.46" cy="775.31" rx="1.60" ry="1.38" fill="#8a8a94" fill-opacity="0.3"/>
<ellipse cx="231.79" cy="775.06" rx="1.20" ry="2.29" fill="#8a8a94" fill-opacity="0.3"/>
<ellipse cx="230.03" cy="773.27" rx="1.3" ry="0.8" fill="#7a7a84" fill-opacity="0.45"/>
<use href="#ms" transform="translate(236.72,765.80) scale(0.932,0.996)" fill="url(#mg)"/>
<ellipse cx="240.68" cy="776.97" rx="1.21" ry="1.45" fill="#8a8a94" fill-opacity="0.3"/>
<ellipse cx="239.72" cy="775.68" rx="0.86" ry="2.31" fill="#8a8a94" fill-opacity="0.3"/>
<ellipse cx="243.31" cy="787.05" rx="0.87" ry="2.10" fill="#8a8a94" fill-opacity="0.3"/>
<ellipse cx="240.16" cy="781.24" rx="1.34" ry="1.50" fill="#8a8a94" fill-opacity="0.3"/>
<ellipse cx="242.31" cy="773.27" rx="1.3" ry="0.8" fill="#7a7a84" fill-opacity="0.45"/>
<path d="M187.08,765.80V793.20M199.37,765.80V793.20M211.65,765.80V793.20M223.93,765.80V793.20M236.22,765.80V793.20" stroke="#a8a8a8" stroke-width="0.9" fill="none" />
<rect x="175.00" y="794.90" width="73.70" height="28.10" fill="#0c0c0c" stroke="none" stroke-width="1" />
<use href="#ms" transform="translate(175.30,794.90) scale(0.932,1.022)" fill="none" stroke="#505050" stroke-width="0.55"/>
<circle cx="179.67" cy="797.50" r="0.5" fill="#ccc"/><circle cx="182.12" cy="797.50" r="0.5" fill="#ccc"/>
<use href="#ms" transform="translate(187.58,794.90) scale(0.932,1.022)" fill="none" stroke="#505050" stroke-width="0.55"/>
<circle cx="191.95" cy="797.50" r="0.5" fill="#ccc"/><circle cx="194.41" cy="797.50" r="0.5" fill="#ccc"/>
<use href="#ms" transform="translate(199.87,794.90) scale(0.932,1.022)" fill="none" stroke="#505050" stroke-width="0.55"/>
<circle cx="204.23" cy="797.50" r="0.5" fill="#ccc"/><circle cx="206.69" cy="797.50" r="0.5" fill="#ccc"/>
<use href="#ms" transform="translate(212.15,794.90) scale(0.932,1.022)" fill="none" stroke="#505050" stroke-width="0.55"/>
<circle cx="216.52" cy="797.50" r="0.5" fill="#ccc"/><circle cx="218.97" cy="797.50" r="0.5" fill="#ccc"/>
<use href="#ms" transform="translate(224.43,794.90) scale(0.932,1.022)" fill="url(#mg)"/>
<ellipse cx="232.11" cy="811.13" rx="1.28" ry="2.24" fill="#8a8a94" fill-opacity="0.3"/>
<ellipse cx="227.81" cy="818.29" rx="1.33" ry="1.55" fill="#8a8a94" fill-opacity="0.3"/>
<ellipse cx="231.69" cy="806.38" rx="1.69" ry="1.81" fill="#8a8a94" fill-opacity="0.3"/>
<ellipse cx="229.24" cy="814.55" rx="1.14" ry="1.25" fill="#8a8a94" fill-opacity="0.3"/>
<ellipse cx="230.03" cy="802.56" rx="1.3" ry="0.8" fill="#7a7a84" fill-opacity="0.45"/>
<use href="#ms" transform="translate(236.72,794.90) scale(0.932,1.022)" fill="url(#mg)"/>
<ellipse cx="243.67" cy="802.84" rx="1.52" ry="1.36" fill="#8a8a94" fill-opacity="0.3"/>
<ellipse cx="243.09" cy="818.14" rx="1.29" ry="1.93" fill="#8a8a94" fill-opacity="0.3"/>
<ellipse cx="241.26" cy="802.08" rx="0.73" ry="1.21" fill="#8a8a94" fill-opacity="0.3"/>
<ellipse cx="242.96" cy="809.12" rx="1.21" ry="2.25" fill="#8a8a94" fill-opacity="0.3"/>
<ellipse cx="242.31" cy="802.56" rx="1.3" ry="0.8" fill="#7a7a84" fill-opacity="0.45"/>
<path d="M187.08,794.90V823.00M199.37,794.90V823.00M211.65,794.90V823.00M223.93,794.90V823.00M236.22,794.90V823.00" stroke="#a8a8a8" stroke-width="0.9" fill="none" />
<line x1="251.00" y1="703.85" x2="326.30" y2="703.85" stroke="#8c8c8c" stroke-width="2.0" />
<rect x="251.00" y="706.90" width="75.30" height="27.50" fill="#0c0c0c" stroke="none" stroke-width="1" />
<use href="#ms" transform="translate(251.30,706.90) scale(0.954,1.000)" fill="url(#mg)"/>
<ellipse cx="254.92" cy="717.54" rx="1.35" ry="1.03" fill="#8a8a94" fill-opacity="0.3"/>
<ellipse cx="254.18" cy="719.58" rx="0.81" ry="1.50" fill="#8a8a94" fill-opacity="0.3"/>
<ellipse cx="255.45" cy="723.24" rx="1.29" ry="1.29" fill="#8a8a94" fill-opacity="0.3"/>
<ellipse cx="257.73" cy="721.50" rx="0.83" ry="2.31" fill="#8a8a94" fill-opacity="0.3"/>
<ellipse cx="257.03" cy="714.40" rx="1.3" ry="0.8" fill="#7a7a84" fill-opacity="0.45"/>
<use href="#ms" transform="translate(263.85,706.90) scale(0.954,1.000)" fill="url(#mg)"/>
<ellipse cx="268.11" cy="716.29" rx="0.80" ry="1.89" fill="#8a8a94" fill-opacity="0.3"/>
<ellipse cx="271.70" cy="726.41" rx="1.10" ry="1.37" fill="#8a8a94" fill-opacity="0.3"/>
<ellipse cx="266.78" cy="724.22" rx="1.26" ry="1.49" fill="#8a8a94" fill-opacity="0.3"/>
<ellipse cx="270.41" cy="721.00" rx="1.64" ry="2.03" fill="#8a8a94" fill-opacity="0.3"/>
<ellipse cx="269.58" cy="714.40" rx="1.3" ry="0.8" fill="#7a7a84" fill-opacity="0.45"/>
<use href="#ms" transform="translate(276.40,706.90) scale(0.954,1.000)" fill="url(#mg)"/>
<ellipse cx="280.69" cy="728.36" rx="0.74" ry="1.74" fill="#8a8a94" fill-opacity="0.3"/>
<ellipse cx="281.59" cy="717.70" rx="0.76" ry="2.09" fill="#8a8a94" fill-opacity="0.3"/>
<ellipse cx="279.33" cy="722.71" rx="1.64" ry="1.20" fill="#8a8a94" fill-opacity="0.3"/>
<ellipse cx="280.40" cy="723.63" rx="1.21" ry="1.90" fill="#8a8a94" fill-opacity="0.3"/>
<ellipse cx="282.13" cy="714.40" rx="1.3" ry="0.8" fill="#7a7a84" fill-opacity="0.45"/>
<use href="#ms" transform="translate(288.95,706.90) scale(0.954,1.000)" fill="url(#mg)"/>
<ellipse cx="296.47" cy="716.69" rx="1.01" ry="1.42" fill="#8a8a94" fill-opacity="0.3"/>
<ellipse cx="292.09" cy="728.13" rx="1.48" ry="2.00" fill="#8a8a94" fill-opacity="0.3"/>
<ellipse cx="291.85" cy="727.41" rx="1.45" ry="1.65" fill="#8a8a94" fill-opacity="0.3"/>
<ellipse cx="296.06" cy="721.14" rx="0.93" ry="1.15" fill="#8a8a94" fill-opacity="0.3"/>
<ellipse cx="294.68" cy="714.40" rx="1.3" ry="0.8" fill="#7a7a84" fill-opacity="0.45"/>
<use href="#ms" transform="translate(301.50,706.90) scale(0.954,1.000)" fill="url(#mg)"/>
<ellipse cx="305.69" cy="714.52" rx="1.04" ry="2.05" fill="#8a8a94" fill-opacity="0.3"/>
<ellipse cx="308.34" cy="727.43" rx="1.41" ry="1.37" fill="#8a8a94" fill-opacity="0.3"/>
<ellipse cx="307.53" cy="720.88" rx="1.49" ry="1.73" fill="#8a8a94" fill-opacity="0.3"/>
<ellipse cx="305.88" cy="724.17" rx="1.67" ry="1.30" fill="#8a8a94" fill-opacity="0.3"/>
<ellipse cx="307.23" cy="714.40" rx="1.3" ry="0.8" fill="#7a7a84" fill-opacity="0.45"/>
<use href="#ms" transform="translate(314.05,706.90) scale(0.954,1.000)" fill="url(#mg)"/>
<ellipse cx="321.95" cy="714.14" rx="0.96" ry="1.33" fill="#8a8a94" fill-opacity="0.3"/>
<ellipse cx="321.17" cy="729.02" rx="1.45" ry="1.46" fill="#8a8a94" fill-opacity="0.3"/>
<ellipse cx="321.95" cy="719.16" rx="0.94" ry="2.27" fill="#8a8a94" fill-opacity="0.3"/>
<ellipse cx="320.52" cy="724.99" rx="1.37" ry="2.37" fill="#8a8a94" fill-opacity="0.3"/>
<ellipse cx="319.78" cy="714.40" rx="1.3" ry="0.8" fill="#7a7a84" fill-opacity="0.45"/>
<path d="M263.35,706.90V734.40M275.90,706.90V734.40M288.45,706.90V734.40M301.00,706.90V734.40M313.55,706.90V734.40" stroke="#a8a8a8" stroke-width="0.9" fill="none" />
<rect x="251.00" y="736.40" width="75.30" height="27.60" fill="#0c0c0c" stroke="none" stroke-width="1" />
<use href="#ms" transform="translate(251.30,736.40) scale(0.954,1.004)" fill="url(#mg)"/>
<ellipse cx="256.85" cy="756.91" rx="1.40" ry="2.20" fill="#8a8a94" fill-opacity="0.3"/>
<ellipse cx="256.67" cy="755.06" rx="1.27" ry="1.43" fill="#8a8a94" fill-opacity="0.3"/>
<ellipse cx="255.38" cy="753.42" rx="0.78" ry="2.28" fill="#8a8a94" fill-opacity="0.3"/>
<ellipse cx="254.99" cy="743.86" rx="0.81" ry="2.30" fill="#8a8a94" fill-opacity="0.3"/>
<ellipse cx="257.03" cy="743.93" rx="1.3" ry="0.8" fill="#7a7a84" fill-opacity="0.45"/>
<use href="#ms" transform="translate(263.85,736.40) scale(0.954,1.004)" fill="url(#mg)"/>
<ellipse cx="268.69" cy="745.70" rx="0.73" ry="1.06" fill="#8a8a94" fill-opacity="0.3"/>
<ellipse cx="270.68" cy="753.60" rx="1.40" ry="2.03" fill="#8a8a94" fill-opacity="0.3"/>
<ellipse cx="267.09" cy="752.91" rx="1.06" ry="2.14" fill="#8a8a94" fill-opacity="0.3"/>
<ellipse cx="271.40" cy="757.74" rx="0.77" ry="2.21" fill="#8a8a94" fill-opacity="0.3"/>
<ellipse cx="269.58" cy="743.93" rx="1.3" ry="0.8" fill="#7a7a84" fill-opacity="0.45"/>
<use href="#ms" transform="translate(276.40,736.40) scale(0.954,1.004)" fill="url(#mg)"/>
<ellipse cx="284.50" cy="758.59" rx="0.81" ry="1.29" fill="#8a8a94" fill-opacity="0.3"/>
<ellipse cx="279.90" cy="743.98" rx="1.55" ry="2.14" fill="#8a8a94" fill-opacity="0.3"/>
<ellipse cx="282.89" cy="756.67" rx="1.33" ry="1.40" fill="#8a8a94" fill-opacity="0.3"/>
<ellipse cx="279.83" cy="745.00" rx="1.46" ry="1.29" fill="#8a8a94" fill-opacity="0.3"/>
<ellipse cx="282.13" cy="743.93" rx="1.3" ry="0.8" fill="#7a7a84" fill-opacity="0.45"/>
<use href="#ms" transform="translate(288.95,736.40) scale(0.954,1.004)" fill="url(#mg)"/>
<ellipse cx="293.64" cy="750.23" rx="0.72" ry="1.36" fill="#8a8a94" fill-opacity="0.3"/>
<ellipse cx="293.43" cy="754.92" rx="1.07" ry="1.45" fill="#8a8a94" fill-opacity="0.3"/>
<ellipse cx="297.33" cy="751.51" rx="1.55" ry="1.87" fill="#8a8a94" fill-opacity="0.3"/>
<ellipse cx="291.99" cy="750.06" rx="1.14" ry="2.08" fill="#8a8a94" fill-opacity="0.3"/>
<ellipse cx="294.68" cy="743.93" rx="1.3" ry="0.8" fill="#7a7a84" fill-opacity="0.45"/>
<use href="#ms" transform="translate(301.50,736.40) scale(0.954,1.004)" fill="url(#mg)"/>
<ellipse cx="306.35" cy="754.74" rx="1.24" ry="1.30" fill="#8a8a94" fill-opacity="0.3"/>
<ellipse cx="309.30" cy="744.88" rx="1.52" ry="1.24" fill="#8a8a94" fill-opacity="0.3"/>
<ellipse cx="304.37" cy="746.67" rx="1.46" ry="2.37" fill="#8a8a94" fill-opacity="0.3"/>
<ellipse cx="304.39" cy="751.31" rx="1.19" ry="2.12" fill="#8a8a94" fill-opacity="0.3"/>
<ellipse cx="307.23" cy="743.93" rx="1.3" ry="0.8" fill="#7a7a84" fill-opacity="0.45"/>
<use href="#ms" transform="translate(314.05,736.40) scale(0.954,1.004)" fill="url(#mg)"/>
<ellipse cx="317.97" cy="751.37" rx="1.05" ry="2.16" fill="#8a8a94" fill-opacity="0.3"/>
<ellipse cx="318.40" cy="758.58" rx="0.98" ry="1.30" fill="#8a8a94" fill-opacity="0.3"/>
<ellipse cx="320.92" cy="751.43" rx="0.81" ry="1.89" fill="#8a8a94" fill-opacity="0.3"/>
<ellipse cx="317.38" cy="756.08" rx="1.40" ry="2.10" fill="#8a8a94" fill-opacity="0.3"/>
<ellipse cx="319.78" cy="743.93" rx="1.3" ry="0.8" fill="#7a7a84" fill-opacity="0.45"/>
<path d="M263.35,736.40V764.00M275.90,736.40V764.00M288.45,736.40V764.00M301.00,736.40V764.00M313.55,736.40V764.00" stroke="#a8a8a8" stroke-width="0.9" fill="none" />
<rect x="251.00" y="765.80" width="75.30" height="27.40" fill="#0c0c0c" stroke="none" stroke-width="1" />
<use href="#ms" transform="translate(251.30,765.80) scale(0.954,0.996)" fill="none" stroke="#505050" stroke-width="0.55"/>
<circle cx="255.77" cy="768.40" r="0.5" fill="#ccc"/><circle cx="258.28" cy="768.40" r="0.5" fill="#ccc"/>
<use href="#ms" transform="translate(263.85,765.80) scale(0.954,0.996)" fill="url(#mg)"/>
<ellipse cx="270.31" cy="778.44" rx="1.10" ry="1.55" fill="#8a8a94" fill-opacity="0.3"/>
<ellipse cx="271.81" cy="774.15" rx="1.59" ry="1.04" fill="#8a8a94" fill-opacity="0.3"/>
<ellipse cx="267.89" cy="776.97" rx="1.60" ry="1.70" fill="#8a8a94" fill-opacity="0.3"/>
<ellipse cx="268.88" cy="786.87" rx="0.93" ry="1.65" fill="#8a8a94" fill-opacity="0.3"/>
<ellipse cx="269.58" cy="773.27" rx="1.3" ry="0.8" fill="#7a7a84" fill-opacity="0.45"/>
<use href="#ms" transform="translate(276.40,765.80) scale(0.954,0.996)" fill="url(#mg)"/>
<ellipse cx="282.31" cy="784.80" rx="1.45" ry="1.90" fill="#8a8a94" fill-opacity="0.3"/>
<ellipse cx="281.26" cy="777.98" rx="0.86" ry="2.18" fill="#8a8a94" fill-opacity="0.3"/>
<ellipse cx="283.05" cy="784.60" rx="0.87" ry="1.61" fill="#8a8a94" fill-opacity="0.3"/>
<ellipse cx="283.69" cy="782.01" rx="0.83" ry="1.65" fill="#8a8a94" fill-opacity="0.3"/>
<ellipse cx="282.13" cy="773.27" rx="1.3" ry="0.8" fill="#7a7a84" fill-opacity="0.45"/>
<use href="#ms" transform="translate(288.95,765.80) scale(0.954,0.996)" fill="url(#mg)"/>
<ellipse cx="296.88" cy="776.57" rx="0.89" ry="1.42" fill="#8a8a94" fill-opacity="0.3"/>
<ellipse cx="295.84" cy="786.22" rx="0.85" ry="1.22" fill="#8a8a94" fill-opacity="0.3"/>
<ellipse cx="293.23" cy="777.98" rx="1.22" ry="1.23" fill="#8a8a94" fill-opacity="0.3"/>
<ellipse cx="293.69" cy="775.79" rx="1.68" ry="2.02" fill="#8a8a94" fill-opacity="0.3"/>
<ellipse cx="294.68" cy="773.27" rx="1.3" ry="0.8" fill="#7a7a84" fill-opacity="0.45"/>
<use href="#ms" transform="translate(301.50,765.80) scale(0.954,0.996)" fill="url(#mg)"/>
<ellipse cx="304.95" cy="788.12" rx="0.80" ry="1.54" fill="#8a8a94" fill-opacity="0.3"/>
<ellipse cx="309.99" cy="785.45" rx="1.43" ry="1.61" fill="#8a8a94" fill-opacity="0.3"/>
<ellipse cx="305.49" cy="782.95" rx="0.81" ry="1.29" fill="#8a8a94" fill-opacity="0.3"/>
<ellipse cx="306.59" cy="773.32" rx="1.10" ry="2.11" fill="#8a8a94" fill-opacity="0.3"/>
<ellipse cx="307.23" cy="773.27" rx="1.3" ry="0.8" fill="#7a7a84" fill-opacity="0.45"/>
<use href="#ms" transform="translate(314.05,765.80) scale(0.954,0.996)" fill="url(#mg)"/>
<ellipse cx="320.88" cy="780.75" rx="1.33" ry="1.65" fill="#8a8a94" fill-opacity="0.3"/>
<ellipse cx="317.72" cy="782.40" rx="1.10" ry="2.04" fill="#8a8a94" fill-opacity="0.3"/>
<ellipse cx="322.11" cy="779.63" rx="1.27" ry="2.05" fill="#8a8a94" fill-opacity="0.3"/>
<ellipse cx="319.32" cy="776.42" rx="1.42" ry="2.23" fill="#8a8a94" fill-opacity="0.3"/>
<ellipse cx="319.78" cy="773.27" rx="1.3" ry="0.8" fill="#7a7a84" fill-opacity="0.45"/>
<path d="M263.35,765.80V793.20M275.90,765.80V793.20M288.45,765.80V793.20M301.00,765.80V793.20M313.55,765.80V793.20" stroke="#a8a8a8" stroke-width="0.9" fill="none" />
<rect x="251.00" y="794.90" width="75.30" height="28.10" fill="#0c0c0c" stroke="none" stroke-width="1" />
<use href="#ms" transform="translate(251.30,794.90) scale(0.954,1.022)" fill="none" stroke="#505050" stroke-width="0.55"/>
<circle cx="255.77" cy="797.50" r="0.5" fill="#ccc"/><circle cx="258.28" cy="797.50" r="0.5" fill="#ccc"/>
<use href="#ms" transform="translate(263.85,794.90) scale(0.954,1.022)" fill="none" stroke="#505050" stroke-width="0.55"/>
<circle cx="268.32" cy="797.50" r="0.5" fill="#ccc"/><circle cx="270.83" cy="797.50" r="0.5" fill="#ccc"/>
<use href="#ms" transform="translate(276.40,794.90) scale(0.954,1.022)" fill="none" stroke="#505050" stroke-width="0.55"/>
<circle cx="280.87" cy="797.50" r="0.5" fill="#ccc"/><circle cx="283.38" cy="797.50" r="0.5" fill="#ccc"/>
<use href="#ms" transform="translate(288.95,794.90) scale(0.954,1.022)" fill="none" stroke="#505050" stroke-width="0.55"/>
<circle cx="293.42" cy="797.50" r="0.5" fill="#ccc"/><circle cx="295.93" cy="797.50" r="0.5" fill="#ccc"/>
<use href="#ms" transform="translate(301.50,794.90) scale(0.954,1.022)" fill="none" stroke="#505050" stroke-width="0.55"/>
<circle cx="305.97" cy="797.50" r="0.5" fill="#ccc"/><circle cx="308.48" cy="797.50" r="0.5" fill="#ccc"/>
<use href="#ms" transform="translate(314.05,794.90) scale(0.954,1.022)" fill="url(#mg)"/>
<ellipse cx="321.34" cy="813.50" rx="1.55" ry="1.95" fill="#8a8a94" fill-opacity="0.3"/>
<ellipse cx="320.59" cy="809.47" rx="1.01" ry="1.88" fill="#8a8a94" fill-opacity="0.3"/>
<ellipse cx="317.47" cy="808.91" rx="1.48" ry="2.00" fill="#8a8a94" fill-opacity="0.3"/>
<ellipse cx="320.52" cy="806.14" rx="1.12" ry="1.64" fill="#8a8a94" fill-opacity="0.3"/>
<ellipse cx="319.78" cy="802.56" rx="1.3" ry="0.8" fill="#7a7a84" fill-opacity="0.45"/>
<path d="M263.35,794.90V823.00M275.90,794.90V823.00M288.45,794.90V823.00M301.00,794.90V823.00M313.55,794.90V823.00" stroke="#a8a8a8" stroke-width="0.9" fill="none" />
<line x1="328.20" y1="703.85" x2="402.50" y2="703.85" stroke="#8c8c8c" stroke-width="2.0" />
<rect x="328.20" y="706.90" width="74.30" height="27.50" fill="#0c0c0c" stroke="none" stroke-width="1" />
<use href="#ms" transform="translate(328.50,706.90) scale(0.940,1.000)" fill="url(#mg)"/>
<ellipse cx="334.83" cy="720.45" rx="1.38" ry="2.30" fill="#8a8a94" fill-opacity="0.3"/>
<ellipse cx="332.35" cy="724.37" rx="1.48" ry="1.54" fill="#8a8a94" fill-opacity="0.3"/>
<ellipse cx="334.08" cy="729.49" rx="0.74" ry="1.76" fill="#8a8a94" fill-opacity="0.3"/>
<ellipse cx="332.23" cy="726.41" rx="1.64" ry="1.73" fill="#8a8a94" fill-opacity="0.3"/>
<ellipse cx="334.14" cy="714.40" rx="1.3" ry="0.8" fill="#7a7a84" fill-opacity="0.45"/>
<use href="#ms" transform="translate(340.88,706.90) scale(0.940,1.000)" fill="url(#mg)"/>
<ellipse cx="344.27" cy="723.09" rx="1.24" ry="2.00" fill="#8a8a94" fill-opacity="0.3"/>
<ellipse cx="346.59" cy="724.13" rx="1.53" ry="1.73" fill="#8a8a94" fill-opacity="0.3"/>
<ellipse cx="346.02" cy="729.07" rx="0.91" ry="1.96" fill="#8a8a94" fill-opacity="0.3"/>
<ellipse cx="345.92" cy="726.10" rx="0.82" ry="2.38" fill="#8a8a94" fill-opacity="0.3"/>
<ellipse cx="346.52" cy="714.40" rx="1.3" ry="0.8" fill="#7a7a84" fill-opacity="0.45"/>
<use href="#ms" transform="translate(353.27,706.90) scale(0.940,1.000)" fill="url(#mg)"/>
<ellipse cx="358.09" cy="714.81" rx="0.97" ry="1.56" fill="#8a8a94" fill-opacity="0.3"/>
<ellipse cx="356.16" cy="720.60" rx="1.12" ry="1.98" fill="#8a8a94" fill-opacity="0.3"/>
<ellipse cx="358.07" cy="718.14" rx="0.92" ry="2.04" fill="#8a8a94" fill-opacity="0.3"/>
<ellipse cx="361.39" cy="722.33" rx="0.92" ry="2.12" fill="#8a8a94" fill-opacity="0.3"/>
<ellipse cx="358.91" cy="714.40" rx="1.3" ry="0.8" fill="#7a7a84" fill-opacity="0.45"/>
<use href="#ms" transform="translate(365.65,706.90) scale(0.940,1.000)" fill="url(#mg)"/>
<ellipse cx="370.68" cy="717.29" rx="0.83" ry="2.09" fill="#8a8a94" fill-opacity="0.3"/>
<ellipse cx="373.04" cy="724.05" rx="1.17" ry="1.79" fill="#8a8a94" fill-opacity="0.3"/>
<ellipse cx="369.75" cy="729.32" rx="1.05" ry="1.89" fill="#8a8a94" fill-opacity="0.3"/>
<ellipse cx="373.09" cy="726.96" rx="1.17" ry="1.41" fill="#8a8a94" fill-opacity="0.3"/>
<ellipse cx="371.29" cy="714.40" rx="1.3" ry="0.8" fill="#7a7a84" fill-opacity="0.45"/>
<use href="#ms" transform="translate(378.03,706.90) scale(0.940,1.000)" fill="url(#mg)"/>
<ellipse cx="383.95" cy="715.90" rx="1.53" ry="1.50" fill="#8a8a94" fill-opacity="0.3"/>
<ellipse cx="385.65" cy="718.18" rx="1.08" ry="1.35" fill="#8a8a94" fill-opacity="0.3"/>
<ellipse cx="383.26" cy="716.87" rx="0.70" ry="2.01" fill="#8a8a94" fill-opacity="0.3"/>
<ellipse cx="382.44" cy="717.82" rx="1.00" ry="1.67" fill="#8a8a94" fill-opacity="0.3"/>
<ellipse cx="383.68" cy="714.40" rx="1.3" ry="0.8" fill="#7a7a84" fill-opacity="0.45"/>
<use href="#ms" transform="translate(390.42,706.90) scale(0.940,1.000)" fill="url(#mg)"/>
<ellipse cx="395.65" cy="724.10" rx="1.36" ry="1.51" fill="#8a8a94" fill-opacity="0.3"/>
<ellipse cx="398.48" cy="727.57" rx="0.76" ry="2.16" fill="#8a8a94" fill-opacity="0.3"/>
<ellipse cx="398.35" cy="726.44" rx="0.84" ry="2.16" fill="#8a8a94" fill-opacity="0.3"/>
<ellipse cx="396.81" cy="714.14" rx="0.71" ry="2.33" fill="#8a8a94" fill-opacity="0.3"/>
<ellipse cx="396.06" cy="714.40" rx="1.3" ry="0.8" fill="#7a7a84" fill-opacity="0.45"/>
<path d="M340.38,706.90V734.40M352.77,706.90V734.40M365.15,706.90V734.40M377.53,706.90V734.40M389.92,706.90V734.40" stroke="#a8a8a8" stroke-width="0.9" fill="none" />
<rect x="328.20" y="736.40" width="74.30" height="27.60" fill="#0c0c0c" stroke="none" stroke-width="1" />
<use href="#ms" transform="translate(328.50,736.40) scale(0.940,1.004)" fill="url(#mg)"/>
<ellipse cx="335.02" cy="747.44" rx="0.80" ry="1.20" fill="#8a8a94" fill-opacity="0.3"/>
<ellipse cx="332.64" cy="755.89" rx="1.05" ry="1.21" fill="#8a8a94" fill-opacity="0.3"/>
<ellipse cx="336.42" cy="756.14" rx="0.87" ry="2.25" fill="#8a8a94" fill-opacity="0.3"/>
<ellipse cx="334.75" cy="755.97" rx="1.37" ry="2.25" fill="#8a8a94" fill-opacity="0.3"/>
<ellipse cx="334.14" cy="743.93" rx="1.3" ry="0.8" fill="#7a7a84" fill-opacity="0.45"/>
<use href="#ms" transform="translate(340.88,736.40) scale(0.940,1.004)" fill="url(#mg)"/>
<ellipse cx="348.15" cy="756.90" rx="0.90" ry="1.97" fill="#8a8a94" fill-opacity="0.3"/>
<ellipse cx="346.70" cy="755.34" rx="1.14" ry="2.24" fill="#8a8a94" fill-opacity="0.3"/>
<ellipse cx="346.84" cy="747.67" rx="0.93" ry="1.20" fill="#8a8a94" fill-opacity="0.3"/>
<ellipse cx="346.49" cy="744.36" rx="1.17" ry="1.20" fill="#8a8a94" fill-opacity="0.3"/>
<ellipse cx="346.52" cy="743.93" rx="1.3" ry="0.8" fill="#7a7a84" fill-opacity="0.45"/>
<use href="#ms" transform="translate(353.27,736.40) scale(0.940,1.004)" fill="url(#mg)"/>
<ellipse cx="358.86" cy="751.43" rx="1.24" ry="2.21" fill="#8a8a94" fill-opacity="0.3"/>
<ellipse cx="356.12" cy="756.93" rx="1.17" ry="1.79" fill="#8a8a94" fill-opacity="0.3"/>
<ellipse cx="359.84" cy="756.92" rx="1.07" ry="1.59" fill="#8a8a94" fill-opacity="0.3"/>
<ellipse cx="361.51" cy="744.64" rx="1.34" ry="1.89" fill="#8a8a94" fill-opacity="0.3"/>
<ellipse cx="358.91" cy="743.93" rx="1.3" ry="0.8" fill="#7a7a84" fill-opacity="0.45"/>
<use href="#ms" transform="translate(365.65,736.40) scale(0.940,1.004)" fill="url(#mg)"/>
<ellipse cx="368.63" cy="753.22" rx="1.38" ry="2.30" fill="#8a8a94" fill-opacity="0.3"/>
<ellipse cx="370.34" cy="759.19" rx="1.21" ry="1.68" fill="#8a8a94" fill-opacity="0.3"/>
<ellipse cx="373.53" cy="743.97" rx="1.42" ry="1.88" fill="#8a8a94" fill-opacity="0.3"/>
<ellipse cx="370.38" cy="757.26" rx="1.07" ry="1.66" fill="#8a8a94" fill-opacity="0.3"/>
<ellipse cx="371.29" cy="743.93" rx="1.3" ry="0.8" fill="#7a7a84" fill-opacity="0.45"/>
<use href="#ms" transform="translate(378.03,736.40) scale(0.940,1.004)" fill="url(#mg)"/>
<ellipse cx="383.82" cy="755.80" rx="0.91" ry="1.61" fill="#8a8a94" fill-opacity="0.3"/>
<ellipse cx="383.24" cy="752.32" rx="1.53" ry="1.41" fill="#8a8a94" fill-opacity="0.3"/>
<ellipse cx="385.52" cy="749.91" rx="1.20" ry="1.38" fill="#8a8a94" fill-opacity="0.3"/>
<ellipse cx="383.71" cy="759.08" rx="1.35" ry="2.11" fill="#8a8a94" fill-opacity="0.3"/>
<ellipse cx="383.68" cy="743.93" rx="1.3" ry="0.8" fill="#7a7a84" fill-opacity="0.45"/>
<use href="#ms" transform="translate(390.42,736.40) scale(0.940,1.004)" fill="url(#mg)"/>
<ellipse cx="395.10" cy="748.52" rx="1.00" ry="1.82" fill="#8a8a94" fill-opacity="0.3"/>
<ellipse cx="396.82" cy="756.02" rx="0.74" ry="2.01" fill="#8a8a94" fill-opacity="0.3"/>
<ellipse cx="398.23" cy="752.18" rx="0.75" ry="1.42" fill="#8a8a94" fill-opacity="0.3"/>
<ellipse cx="393.27" cy="746.48" rx="1.62" ry="1.85" fill="#8a8a94" fill-opacity="0.3"/>
<ellipse cx="396.06" cy="743.93" rx="1.3" ry="0.8" fill="#7a7a84" fill-opacity="0.45"/>
<path d="M340.38,736.40V764.00M352.77,736.40V764.00M365.15,736.40V764.00M377.53,736.40V764.00M389.92,736.40V764.00" stroke="#a8a8a8" stroke-width="0.9" fill="none" />
<rect x="328.20" y="765.80" width="74.30" height="27.40" fill="#0c0c0c" stroke="none" stroke-width="1" />
<use href="#ms" transform="translate(328.50,765.80) scale(0.940,0.996)" fill="none" stroke="#505050" stroke-width="0.55"/>
<circle cx="332.91" cy="768.40" r="0.5" fill="#ccc"/><circle cx="335.38" cy="768.40" r="0.5" fill="#ccc"/>
<use href="#ms" transform="translate(340.88,765.80) scale(0.940,0.996)" fill="url(#mg)"/>
<ellipse cx="347.42" cy="785.35" rx="1.61" ry="1.86" fill="#8a8a94" fill-opacity="0.3"/>
<ellipse cx="347.18" cy="782.77" rx="1.40" ry="1.83" fill="#8a8a94" fill-opacity="0.3"/>
<ellipse cx="347.55" cy="776.16" rx="1.37" ry="1.64" fill="#8a8a94" fill-opacity="0.3"/>
<ellipse cx="348.01" cy="774.39" rx="0.88" ry="1.05" fill="#8a8a94" fill-opacity="0.3"/>
<ellipse cx="346.52" cy="773.27" rx="1.3" ry="0.8" fill="#7a7a84" fill-opacity="0.45"/>
<use href="#ms" transform="translate(353.27,765.80) scale(0.940,0.996)" fill="url(#mg)"/>
<ellipse cx="360.46" cy="787.35" rx="1.36" ry="1.52" fill="#8a8a94" fill-opacity="0.3"/>
<ellipse cx="360.73" cy="785.31" rx="1.26" ry="1.36" fill="#8a8a94" fill-opacity="0.3"/>
<ellipse cx="357.79" cy="779.50" rx="1.02" ry="1.60" fill="#8a8a94" fill-opacity="0.3"/>
<ellipse cx="359.71" cy="787.66" rx="0.75" ry="1.79" fill="#8a8a94" fill-opacity="0.3"/>
<ellipse cx="358.91" cy="773.27" rx="1.3" ry="0.8" fill="#7a7a84" fill-opacity="0.45"/>
<use href="#ms" transform="translate(365.65,765.80) scale(0.940,0.996)" fill="url(#mg)"/>
<ellipse cx="368.69" cy="774.67" rx="1.51" ry="1.81" fill="#8a8a94" fill-opacity="0.3"/>
<ellipse cx="373.65" cy="779.89" rx="0.71" ry="1.54" fill="#8a8a94" fill-opacity="0.3"/>
<ellipse cx="371.81" cy="787.72" rx="1.68" ry="1.67" fill="#8a8a94" fill-opacity="0.3"/>
<ellipse cx="370.80" cy="774.40" rx="1.34" ry="1.30" fill="#8a8a94" fill-opacity="0.3"/>
<ellipse cx="371.29" cy="773.27" rx="1.3" ry="0.8" fill="#7a7a84" fill-opacity="0.45"/>
<use href="#ms" transform="translate(378.03,765.80) scale(0.940,0.996)" fill="url(#mg)"/>
<ellipse cx="381.71" cy="773.02" rx="0.70" ry="1.96" fill="#8a8a94" fill-opacity="0.3"/>
<ellipse cx="381.54" cy="788.18" rx="0.79" ry="2.22" fill="#8a8a94" fill-opacity="0.3"/>
<ellipse cx="381.58" cy="773.06" rx="1.42" ry="1.34" fill="#8a8a94" fill-opacity="0.3"/>
<ellipse cx="384.99" cy="775.76" rx="0.75" ry="2.08" fill="#8a8a94" fill-opacity="0.3"/>
<ellipse cx="383.68" cy="773.27" rx="1.3" ry="0.8" fill="#7a7a84" fill-opacity="0.45"/>
<use href="#ms" transform="translate(390.42,765.80) scale(0.940,0.996)" fill="url(#mg)"/>
<ellipse cx="397.26" cy="786.41" rx="1.43" ry="1.12" fill="#8a8a94" fill-opacity="0.3"/>
<ellipse cx="396.78" cy="784.08" rx="1.16" ry="2.31" fill="#8a8a94" fill-opacity="0.3"/>
<ellipse cx="394.67" cy="788.15" rx="1.42" ry="1.02" fill="#8a8a94" fill-opacity="0.3"/>
<ellipse cx="393.32" cy="783.15" rx="1.52" ry="1.11" fill="#8a8a94" fill-opacity="0.3"/>
<ellipse cx="396.06" cy="773.27" rx="1.3" ry="0.8" fill="#7a7a84" fill-opacity="0.45"/>
<path d="M340.38,765.80V793.20M352.77,765.80V793.20M365.15,765.80V793.20M377.53,765.80V793.20M389.92,765.80V793.20" stroke="#a8a8a8" stroke-width="0.9" fill="none" />
<rect x="328.20" y="794.90" width="74.30" height="28.10" fill="#0c0c0c" stroke="none" stroke-width="1" />
<use href="#ms" transform="translate(328.50,794.90) scale(0.940,1.022)" fill="none" stroke="#505050" stroke-width="0.55"/>
<circle cx="332.91" cy="797.50" r="0.5" fill="#ccc"/><circle cx="335.38" cy="797.50" r="0.5" fill="#ccc"/>
<use href="#ms" transform="translate(340.88,794.90) scale(0.940,1.022)" fill="none" stroke="#505050" stroke-width="0.55"/>
<circle cx="345.29" cy="797.50" r="0.5" fill="#ccc"/><circle cx="347.77" cy="797.50" r="0.5" fill="#ccc"/>
<use href="#ms" transform="translate(353.27,794.90) scale(0.940,1.022)" fill="url(#mg)"/>
<ellipse cx="357.84" cy="813.98" rx="0.87" ry="2.21" fill="#8a8a94" fill-opacity="0.3"/>
<ellipse cx="358.83" cy="803.03" rx="1.07" ry="1.80" fill="#8a8a94" fill-opacity="0.3"/>
<ellipse cx="358.56" cy="813.12" rx="0.84" ry="2.12" fill="#8a8a94" fill-opacity="0.3"/>
<ellipse cx="358.14" cy="812.60" rx="1.33" ry="1.59" fill="#8a8a94" fill-opacity="0.3"/>
<ellipse cx="358.91" cy="802.56" rx="1.3" ry="0.8" fill="#7a7a84" fill-opacity="0.45"/>
<use href="#ms" transform="translate(365.65,794.90) scale(0.940,1.022)" fill="url(#mg)"/>
<ellipse cx="370.65" cy="814.91" rx="1.64" ry="2.10" fill="#8a8a94" fill-opacity="0.3"/>
<ellipse cx="371.67" cy="806.83" rx="0.76" ry="2.36" fill="#8a8a94" fill-opacity="0.3"/>
<ellipse cx="372.44" cy="815.58" rx="1.03" ry="1.85" fill="#8a8a94" fill-opacity="0.3"/>
<ellipse cx="373.99" cy="815.64" rx="1.30" ry="1.43" fill="#8a8a94" fill-opacity="0.3"/>
<ellipse cx="371.29" cy="802.56" rx="1.3" ry="0.8" fill="#7a7a84" fill-opacity="0.45"/>
<use href="#ms" transform="translate(378.03,794.90) scale(0.940,1.022)" fill="url(#mg)"/>
<ellipse cx="383.27" cy="816.57" rx="1.08" ry="1.96" fill="#8a8a94" fill-opacity="0.3"/>
<ellipse cx="384.25" cy="816.70" rx="1.51" ry="1.40" fill="#8a8a94" fill-opacity="0.3"/>
<ellipse cx="380.86" cy="806.35" rx="1.12" ry="1.82" fill="#8a8a94" fill-opacity="0.3"/>
<ellipse cx="385.46" cy="816.56" rx="0.74" ry="2.17" fill="#8a8a94" fill-opacity="0.3"/>
<ellipse cx="383.68" cy="802.56" rx="1.3" ry="0.8" fill="#7a7a84" fill-opacity="0.45"/>
<use href="#ms" transform="translate(390.42,794.90) scale(0.940,1.022)" fill="url(#mg)"/>
<ellipse cx="397.82" cy="816.23" rx="1.27" ry="1.38" fill="#8a8a94" fill-opacity="0.3"/>
<ellipse cx="398.04" cy="815.25" rx="1.38" ry="2.28" fill="#8a8a94" fill-opacity="0.3"/>
<ellipse cx="395.19" cy="803.44" rx="1.25" ry="2.12" fill="#8a8a94" fill-opacity="0.3"/>
<ellipse cx="394.37" cy="814.32" rx="1.63" ry="1.33" fill="#8a8a94" fill-opacity="0.3"/>
<ellipse cx="396.06" cy="802.56" rx="1.3" ry="0.8" fill="#7a7a84" fill-opacity="0.45"/>
<path d="M340.38,794.90V823.00M352.77,794.90V823.00M365.15,794.90V823.00M377.53,794.90V823.00M389.92,794.90V823.00" stroke="#a8a8a8" stroke-width="0.9" fill="none" />
<line x1="405.00" y1="703.85" x2="477.90" y2="703.85" stroke="#8c8c8c" stroke-width="2.0" />
<rect x="405.00" y="706.90" width="72.90" height="27.50" fill="#0c0c0c" stroke="none" stroke-width="1" />
<use href="#ms" transform="translate(405.30,706.90) scale(0.921,1.000)" fill="url(#mg)"/>
<ellipse cx="411.42" cy="724.74" rx="1.17" ry="1.29" fill="#8a8a94" fill-opacity="0.3"/>
<ellipse cx="409.47" cy="725.92" rx="1.49" ry="1.64" fill="#8a8a94" fill-opacity="0.3"/>
<ellipse cx="408.55" cy="726.81" rx="1.47" ry="1.33" fill="#8a8a94" fill-opacity="0.3"/>
<ellipse cx="411.26" cy="728.25" rx="1.59" ry="1.73" fill="#8a8a94" fill-opacity="0.3"/>
<ellipse cx="410.82" cy="714.40" rx="1.3" ry="0.8" fill="#7a7a84" fill-opacity="0.45"/>
<use href="#ms" transform="translate(417.45,706.90) scale(0.921,1.000)" fill="url(#mg)"/>
<ellipse cx="422.85" cy="723.33" rx="0.89" ry="1.27" fill="#8a8a94" fill-opacity="0.3"/>
<ellipse cx="421.21" cy="725.12" rx="1.06" ry="1.79" fill="#8a8a94" fill-opacity="0.3"/>
<ellipse cx="422.44" cy="722.18" rx="0.85" ry="1.06" fill="#8a8a94" fill-opacity="0.3"/>
<ellipse cx="425.72" cy="719.88" rx="0.81" ry="1.89" fill="#8a8a94" fill-opacity="0.3"/>
<ellipse cx="422.97" cy="714.40" rx="1.3" ry="0.8" fill="#7a7a84" fill-opacity="0.45"/>
<use href="#ms" transform="translate(429.60,706.90) scale(0.921,1.000)" fill="url(#mg)"/>
<ellipse cx="436.71" cy="716.40" rx="1.30" ry="1.48" fill="#8a8a94" fill-opacity="0.3"/>
<ellipse cx="435.23" cy="714.23" rx="0.73" ry="2.39" fill="#8a8a94" fill-opacity="0.3"/>
<ellipse cx="437.15" cy="721.68" rx="1.27" ry="1.37" fill="#8a8a94" fill-opacity="0.3"/>
<ellipse cx="436.67" cy="720.72" rx="1.65" ry="2.07" fill="#8a8a94" fill-opacity="0.3"/>
<ellipse cx="435.12" cy="714.40" rx="1.3" ry="0.8" fill="#7a7a84" fill-opacity="0.45"/>
<use href="#ms" transform="translate(441.75,706.90) scale(0.921,1.000)" fill="url(#mg)"/>
<ellipse cx="449.04" cy="729.32" rx="0.95" ry="1.05" fill="#8a8a94" fill-opacity="0.3"/>
<ellipse cx="445.62" cy="716.79" rx="0.78" ry="1.07" fill="#8a8a94" fill-opacity="0.3"/>
<ellipse cx="447.59" cy="727.83" rx="1.16" ry="2.33" fill="#8a8a94" fill-opacity="0.3"/>
<ellipse cx="449.54" cy="714.93" rx="1.30" ry="1.56" fill="#8a8a94" fill-opacity="0.3"/>
<ellipse cx="447.27" cy="714.40" rx="1.3" ry="0.8" fill="#7a7a84" fill-opacity="0.45"/>
<use href="#ms" transform="translate(453.90,706.90) scale(0.921,1.000)" fill="url(#mg)"/>
<ellipse cx="457.33" cy="729.25" rx="0.96" ry="1.79" fill="#8a8a94" fill-opacity="0.3"/>
<ellipse cx="460.20" cy="729.20" rx="1.37" ry="1.55" fill="#8a8a94" fill-opacity="0.3"/>
<ellipse cx="459.14" cy="716.46" rx="1.67" ry="2.39" fill="#8a8a94" fill-opacity="0.3"/>
<ellipse cx="457.89" cy="714.52" rx="0.96" ry="1.49" fill="#8a8a94" fill-opacity="0.3"/>
<ellipse cx="459.42" cy="714.40" rx="1.3" ry="0.8" fill="#7a7a84" fill-opacity="0.45"/>
<use href="#ms" transform="translate(466.05,706.90) scale(0.921,1.000)" fill="url(#mg)"/>
<ellipse cx="473.80" cy="728.37" rx="1.54" ry="1.07" fill="#8a8a94" fill-opacity="0.3"/>
<ellipse cx="473.16" cy="725.25" rx="1.35" ry="2.38" fill="#8a8a94" fill-opacity="0.3"/>
<ellipse cx="469.12" cy="716.22" rx="1.45" ry="2.32" fill="#8a8a94" fill-opacity="0.3"/>
<ellipse cx="472.55" cy="718.68" rx="1.29" ry="2.06" fill="#8a8a94" fill-opacity="0.3"/>
<ellipse cx="471.57" cy="714.40" rx="1.3" ry="0.8" fill="#7a7a84" fill-opacity="0.45"/>
<path d="M416.95,706.90V734.40M429.10,706.90V734.40M441.25,706.90V734.40M453.40,706.90V734.40M465.55,706.90V734.40" stroke="#a8a8a8" stroke-width="0.9" fill="none" />
<rect x="405.00" y="736.40" width="72.90" height="27.60" fill="#0c0c0c" stroke="none" stroke-width="1" />
<use href="#ms" transform="translate(405.30,736.40) scale(0.921,1.004)" fill="url(#mg)"/>
<ellipse cx="408.64" cy="748.63" rx="0.96" ry="1.17" fill="#8a8a94" fill-opacity="0.3"/>
<ellipse cx="410.72" cy="746.13" rx="0.94" ry="1.20" fill="#8a8a94" fill-opacity="0.3"/>
<ellipse cx="411.81" cy="743.63" rx="1.42" ry="1.27" fill="#8a8a94" fill-opacity="0.3"/>
<ellipse cx="408.26" cy="758.32" rx="0.92" ry="2.31" fill="#8a8a94" fill-opacity="0.3"/>
<ellipse cx="410.82" cy="743.93" rx="1.3" ry="0.8" fill="#7a7a84" fill-opacity="0.45"/>
<use href="#ms" transform="translate(417.45,736.40) scale(0.921,1.004)" fill="url(#mg)"/>
<ellipse cx="425.00" cy="757.70" rx="0.84" ry="1.63" fill="#8a8a94" fill-opacity="0.3"/>
<ellipse cx="420.75" cy="758.34" rx="1.54" ry="1.88" fill="#8a8a94" fill-opacity="0.3"/>
<ellipse cx="422.71" cy="748.88" rx="1.52" ry="1.67" fill="#8a8a94" fill-opacity="0.3"/>
<ellipse cx="423.68" cy="745.72" rx="0.92" ry="1.08" fill="#8a8a94" fill-opacity="0.3"/>
<ellipse cx="422.97" cy="743.93" rx="1.3" ry="0.8" fill="#7a7a84" fill-opacity="0.45"/>
<use href="#ms" transform="translate(429.60,736.40) scale(0.921,1.004)" fill="url(#mg)"/>
<ellipse cx="436.31" cy="752.31" rx="0.84" ry="2.22" fill="#8a8a94" fill-opacity="0.3"/>
<ellipse cx="433.83" cy="750.04" rx="0.86" ry="1.38" fill="#8a8a94" fill-opacity="0.3"/>
<ellipse cx="437.00" cy="748.80" rx="0.87" ry="1.69" fill="#8a8a94" fill-opacity="0.3"/>
<ellipse cx="434.12" cy="757.93" rx="0.81" ry="2.37" fill="#8a8a94" fill-opacity="0.3"/>
<ellipse cx="435.12" cy="743.93" rx="1.3" ry="0.8" fill="#7a7a84" fill-opacity="0.45"/>
<use href="#ms" transform="translate(441.75,736.40) scale(0.921,1.004)" fill="url(#mg)"/>
<ellipse cx="444.83" cy="757.80" rx="1.37" ry="1.30" fill="#8a8a94" fill-opacity="0.3"/>
<ellipse cx="447.15" cy="748.02" rx="0.96" ry="1.28" fill="#8a8a94" fill-opacity="0.3"/>
<ellipse cx="446.53" cy="759.34" rx="1.70" ry="2.30" fill="#8a8a94" fill-opacity="0.3"/>
<ellipse cx="445.05" cy="748.07" rx="1.60" ry="1.08" fill="#8a8a94" fill-opacity="0.3"/>
<ellipse cx="447.27" cy="743.93" rx="1.3" ry="0.8" fill="#7a7a84" fill-opacity="0.45"/>
<use href="#ms" transform="translate(453.90,736.40) scale(0.921,1.004)" fill="url(#mg)"/>
<ellipse cx="460.68" cy="748.14" rx="1.68" ry="1.02" fill="#8a8a94" fill-opacity="0.3"/>
<ellipse cx="461.12" cy="748.90" rx="0.84" ry="1.00" fill="#8a8a94" fill-opacity="0.3"/>
<ellipse cx="461.26" cy="751.88" rx="0.89" ry="1.61" fill="#8a8a94" fill-opacity="0.3"/>
<ellipse cx="461.70" cy="746.93" rx="1.27" ry="1.19" fill="#8a8a94" fill-opacity="0.3"/>
<ellipse cx="459.42" cy="743.93" rx="1.3" ry="0.8" fill="#7a7a84" fill-opacity="0.45"/>
<use href="#ms" transform="translate(466.05,736.40) scale(0.921,1.004)" fill="url(#mg)"/>
<ellipse cx="469.81" cy="755.80" rx="1.41" ry="1.28" fill="#8a8a94" fill-opacity="0.3"/>
<ellipse cx="469.25" cy="744.83" rx="1.31" ry="1.69" fill="#8a8a94" fill-opacity="0.3"/>
<ellipse cx="470.33" cy="746.73" rx="1.31" ry="1.99" fill="#8a8a94" fill-opacity="0.3"/>
<ellipse cx="473.30" cy="752.79" rx="0.90" ry="1.09" fill="#8a8a94" fill-opacity="0.3"/>
<ellipse cx="471.57" cy="743.93" rx="1.3" ry="0.8" fill="#7a7a84" fill-opacity="0.45"/>
<path d="M416.95,736.40V764.00M429.10,736.40V764.00M441.25,736.40V764.00M453.40,736.40V764.00M465.55,736.40V764.00" stroke="#a8a8a8" stroke-width="0.9" fill="none" />
<rect x="405.00" y="765.80" width="72.90" height="27.40" fill="#0c0c0c" stroke="none" stroke-width="1" />
<use href="#ms" transform="translate(405.30,765.80) scale(0.921,0.996)" fill="url(#mg)"/>
<ellipse cx="412.11" cy="779.28" rx="1.42" ry="1.08" fill="#8a8a94" fill-opacity="0.3"/>
<ellipse cx="412.54" cy="778.12" rx="1.54" ry="2.21" fill="#8a8a94" fill-opacity="0.3"/>
<ellipse cx="410.79" cy="773.02" rx="1.61" ry="1.67" fill="#8a8a94" fill-opacity="0.3"/>
<ellipse cx="412.88" cy="777.02" rx="0.89" ry="2.16" fill="#8a8a94" fill-opacity="0.3"/>
<ellipse cx="410.82" cy="773.27" rx="1.3" ry="0.8" fill="#7a7a84" fill-opacity="0.45"/>
<use href="#ms" transform="translate(417.45,765.80) scale(0.921,0.996)" fill="url(#mg)"/>
<ellipse cx="422.24" cy="775.38" rx="1.07" ry="1.83" fill="#8a8a94" fill-opacity="0.3"/>
<ellipse cx="420.24" cy="781.06" rx="1.15" ry="1.72" fill="#8a8a94" fill-opacity="0.3"/>
<ellipse cx="420.88" cy="784.17" rx="1.52" ry="2.21" fill="#8a8a94" fill-opacity="0.3"/>
<ellipse cx="421.99" cy="784.11" rx="1.08" ry="2.05" fill="#8a8a94" fill-opacity="0.3"/>
<ellipse cx="422.97" cy="773.27" rx="1.3" ry="0.8" fill="#7a7a84" fill-opacity="0.45"/>
<use href="#ms" transform="translate(429.60,765.80) scale(0.921,0.996)" fill="url(#mg)"/>
<ellipse cx="432.70" cy="786.69" rx="1.65" ry="1.69" fill="#8a8a94" fill-opacity="0.3"/>
<ellipse cx="435.20" cy="781.23" rx="1.24" ry="1.03" fill="#8a8a94" fill-opacity="0.3"/>
<ellipse cx="437.71" cy="776.34" rx="0.88" ry="1.14" fill="#8a8a94" fill-opacity="0.3"/>
<ellipse cx="433.75" cy="785.80" rx="0.73" ry="1.14" fill="#8a8a94" fill-opacity="0.3"/>
<ellipse cx="435.12" cy="773.27" rx="1.3" ry="0.8" fill="#7a7a84" fill-opacity="0.45"/>
<use href="#ms" transform="translate(441.75,765.80) scale(0.921,0.996)" fill="url(#mg)"/>
<ellipse cx="448.37" cy="775.88" rx="0.72" ry="1.84" fill="#8a8a94" fill-opacity="0.3"/>
<ellipse cx="447.70" cy="781.11" rx="1.40" ry="1.14" fill="#8a8a94" fill-opacity="0.3"/>
<ellipse cx="449.32" cy="784.21" rx="0.75" ry="1.17" fill="#8a8a94" fill-opacity="0.3"/>
<ellipse cx="447.24" cy="780.76" rx="0.98" ry="1.17" fill="#8a8a94" fill-opacity="0.3"/>
<ellipse cx="447.27" cy="773.27" rx="1.3" ry="0.8" fill="#7a7a84" fill-opacity="0.45"/>
<use href="#ms" transform="translate(453.90,765.80) scale(0.921,0.996)" fill="url(#mg)"/>
<ellipse cx="458.90" cy="774.96" rx="1.29" ry="2.21" fill="#8a8a94" fill-opacity="0.3"/>
<ellipse cx="457.48" cy="781.91" rx="1.45" ry="1.23" fill="#8a8a94" fill-opacity="0.3"/>
<ellipse cx="461.23" cy="787.72" rx="1.09" ry="1.59" fill="#8a8a94" fill-opacity="0.3"/>
<ellipse cx="461.30" cy="781.15" rx="1.10" ry="2.32" fill="#8a8a94" fill-opacity="0.3"/>
<ellipse cx="459.42" cy="773.27" rx="1.3" ry="0.8" fill="#7a7a84" fill-opacity="0.45"/>
<use href="#ms" transform="translate(466.05,765.80) scale(0.921,0.996)" fill="url(#mg)"/>
<ellipse cx="473.10" cy="778.17" rx="0.94" ry="1.47" fill="#8a8a94" fill-opacity="0.3"/>
<ellipse cx="471.22" cy="788.42" rx="1.50" ry="2.28" fill="#8a8a94" fill-opacity="0.3"/>
<ellipse cx="473.32" cy="786.29" rx="0.75" ry="1.72" fill="#8a8a94" fill-opacity="0.3"/>
<ellipse cx="474.10" cy="787.67" rx="0.95" ry="1.59" fill="#8a8a94" fill-opacity="0.3"/>
<ellipse cx="471.57" cy="773.27" rx="1.3" ry="0.8" fill="#7a7a84" fill-opacity="0.45"/>
<path d="M416.95,765.80V793.20M429.10,765.80V793.20M441.25,765.80V793.20M453.40,765.80V793.20M465.55,765.80V793.20" stroke="#a8a8a8" stroke-width="0.9" fill="none" />
<rect x="405.00" y="794.90" width="72.90" height="28.10" fill="#0c0c0c" stroke="none" stroke-width="1" />
<use href="#ms" transform="translate(405.30,794.90) scale(0.921,1.022)" fill="none" stroke="#505050" stroke-width="0.55"/>
<circle cx="409.62" cy="797.50" r="0.5" fill="#ccc"/><circle cx="412.05" cy="797.50" r="0.5" fill="#ccc"/>
<use href="#ms" transform="translate(417.45,794.90) scale(0.921,1.022)" fill="none" stroke="#505050" stroke-width="0.55"/>
<circle cx="421.77" cy="797.50" r="0.5" fill="#ccc"/><circle cx="424.20" cy="797.50" r="0.5" fill="#ccc"/>
<use href="#ms" transform="translate(429.60,794.90) scale(0.921,1.022)" fill="url(#mg)"/>
<ellipse cx="435.86" cy="808.01" rx="1.23" ry="1.10" fill="#8a8a94" fill-opacity="0.3"/>
<ellipse cx="434.76" cy="810.31" rx="0.72" ry="1.20" fill="#8a8a94" fill-opacity="0.3"/>
<ellipse cx="437.72" cy="814.75" rx="1.64" ry="1.89" fill="#8a8a94" fill-opacity="0.3"/>
<ellipse cx="436.83" cy="816.51" rx="1.58" ry="1.05" fill="#8a8a94" fill-opacity="0.3"/>
<ellipse cx="435.12" cy="802.56" rx="1.3" ry="0.8" fill="#7a7a84" fill-opacity="0.45"/>
<use href="#ms" transform="translate(441.75,794.90) scale(0.921,1.022)" fill="url(#mg)"/>
<ellipse cx="448.06" cy="806.40" rx="1.38" ry="1.38" fill="#8a8a94" fill-opacity="0.3"/>
<ellipse cx="447.51" cy="817.17" rx="1.32" ry="1.35" fill="#8a8a94" fill-opacity="0.3"/>
<ellipse cx="447.39" cy="809.14" rx="1.65" ry="1.40" fill="#8a8a94" fill-opacity="0.3"/>
<ellipse cx="446.20" cy="812.64" rx="0.82" ry="1.83" fill="#8a8a94" fill-opacity="0.3"/>
<ellipse cx="447.27" cy="802.56" rx="1.3" ry="0.8" fill="#7a7a84" fill-opacity="0.45"/>
<use href="#ms" transform="translate(453.90,794.90) scale(0.921,1.022)" fill="url(#mg)"/>
<ellipse cx="461.94" cy="810.45" rx="0.97" ry="1.65" fill="#8a8a94" fill-opacity="0.3"/>
<ellipse cx="459.61" cy="804.48" rx="0.82" ry="1.18" fill="#8a8a94" fill-opacity="0.3"/>
<ellipse cx="458.28" cy="808.70" rx="0.99" ry="1.34" fill="#8a8a94" fill-opacity="0.3"/>
<ellipse cx="457.15" cy="810.98" rx="1.54" ry="1.85" fill="#8a8a94" fill-opacity="0.3"/>
<ellipse cx="459.42" cy="802.56" rx="1.3" ry="0.8" fill="#7a7a84" fill-opacity="0.45"/>
<use href="#ms" transform="translate(466.05,794.90) scale(0.921,1.022)" fill="url(#mg)"/>
<ellipse cx="471.96" cy="812.69" rx="0.90" ry="1.99" fill="#8a8a94" fill-opacity="0.3"/>
<ellipse cx="471.36" cy="811.01" rx="1.31" ry="1.66" fill="#8a8a94" fill-opacity="0.3"/>
<ellipse cx="470.53" cy="806.01" rx="0.92" ry="1.72" fill="#8a8a94" fill-opacity="0.3"/>
<ellipse cx="470.93" cy="811.63" rx="0.71" ry="1.49" fill="#8a8a94" fill-opacity="0.3"/>
<ellipse cx="471.57" cy="802.56" rx="1.3" ry="0.8" fill="#7a7a84" fill-opacity="0.45"/>
<path d="M416.95,794.90V823.00M429.10,794.90V823.00M441.25,794.90V823.00M453.40,794.90V823.00M465.55,794.90V823.00" stroke="#a8a8a8" stroke-width="0.9" fill="none" />
<ellipse cx="53.54" cy="711.90" rx="3.62" ry="4.10" fill="url(#gp)"/>
<ellipse cx="65.86" cy="709.90" rx="2.42" ry="2.73" fill="url(#gp)"/>
<ellipse cx="78.18" cy="710.90" rx="2.42" ry="2.73" fill="url(#gp)"/>
<ellipse cx="90.49" cy="719.90" rx="3.47" ry="3.15" fill="url(#gb)"/>
<ellipse cx="26.10" cy="756.47" rx="1.50" ry="1.37" fill="url(#gb)"/>
<ellipse cx="31.71" cy="755.47" rx="1.16" ry="1.05" fill="url(#gb)"/>
<ellipse cx="41.23" cy="747.44" rx="2.08" ry="1.89" fill="url(#gb)"/>
<ellipse cx="65.86" cy="747.44" rx="2.42" ry="2.73" fill="url(#gp)"/>
<ellipse cx="26.10" cy="785.73" rx="1.73" ry="1.58" fill="url(#gb)"/>
<ellipse cx="31.71" cy="785.73" rx="1.39" ry="1.26" fill="url(#gb)"/>
<ellipse cx="41.23" cy="778.75" rx="1.62" ry="1.47" fill="url(#gb)"/>
<ellipse cx="50.74" cy="784.73" rx="1.39" ry="1.26" fill="url(#gb)"/>
<ellipse cx="64.92" cy="770.78" rx="2.89" ry="2.62" fill="url(#gb)"/>
<ellipse cx="76.31" cy="780.75" rx="3.47" ry="3.15" fill="url(#gb)"/>
<ellipse cx="80.04" cy="781.74" rx="2.31" ry="2.10" fill="url(#gb)"/>
<ellipse cx="86.75" cy="781.74" rx="1.73" ry="1.58" fill="url(#gb)"/>
<ellipse cx="26.10" cy="813.80" rx="1.73" ry="1.58" fill="url(#gb)"/>
<ellipse cx="31.71" cy="813.80" rx="1.73" ry="1.58" fill="url(#gb)"/>
<ellipse cx="43.09" cy="809.21" rx="2.31" ry="2.10" fill="url(#gb)"/>
<ellipse cx="52.61" cy="817.38" rx="3.47" ry="3.15" fill="url(#gb)"/>
<ellipse cx="53.54" cy="797.97" rx="2.31" ry="2.10" fill="url(#gb)"/>
<ellipse cx="65.86" cy="800.01" rx="3.47" ry="3.15" fill="url(#gc)"/>
<ellipse cx="66.79" cy="815.34" rx="1.81" ry="2.05" fill="url(#gp)"/>
<ellipse cx="75.37" cy="812.27" rx="3.47" ry="3.15" fill="url(#gc)"/>
<ellipse cx="86.75" cy="815.34" rx="2.31" ry="2.10" fill="url(#gb)"/>
<ellipse cx="105.06" cy="711.90" rx="3.02" ry="3.41" fill="url(#gp)"/>
<ellipse cx="117.28" cy="711.90" rx="2.42" ry="2.73" fill="url(#gp)"/>
<ellipse cx="141.71" cy="718.90" rx="1.73" ry="1.58" fill="url(#gb)"/>
<ellipse cx="166.14" cy="711.90" rx="3.02" ry="3.41" fill="url(#gp)"/>
<ellipse cx="128.57" cy="751.96" rx="4.04" ry="3.68" fill="url(#gb)"/>
<ellipse cx="141.71" cy="749.95" rx="2.89" ry="2.62" fill="url(#gb)"/>
<ellipse cx="167.07" cy="754.47" rx="3.47" ry="3.15" fill="url(#gb)"/>
<ellipse cx="103.21" cy="769.79" rx="3.62" ry="4.10" fill="url(#gp)"/>
<ellipse cx="116.35" cy="775.76" rx="3.02" ry="3.41" fill="url(#gp)"/>
<ellipse cx="126.71" cy="781.74" rx="3.47" ry="3.15" fill="url(#gb)"/>
<ellipse cx="141.71" cy="777.46" rx="2.89" ry="2.62" fill="url(#gb)"/>
<ellipse cx="153.00" cy="785.73" rx="4.62" ry="4.20" fill="url(#gb)"/>
<ellipse cx="167.07" cy="781.74" rx="3.47" ry="3.15" fill="url(#gc)"/>
<ellipse cx="116.35" cy="810.64" rx="4.04" ry="3.68" fill="url(#gb)"/>
<ellipse cx="128.57" cy="813.70" rx="4.62" ry="4.20" fill="url(#ghy)"/>
<ellipse cx="153.00" cy="815.95" rx="4.62" ry="4.20" fill="url(#gb)"/>
<ellipse cx="141.71" cy="807.16" rx="2.42" ry="2.73" fill="url(#gp)"/>
<ellipse cx="180.89" cy="718.90" rx="4.83" ry="5.46" fill="url(#gp)"/>
<ellipse cx="192.24" cy="725.90" rx="3.62" ry="4.10" fill="url(#gp)"/>
<ellipse cx="205.46" cy="716.90" rx="5.43" ry="6.14" fill="url(#gp)"/>
<ellipse cx="216.81" cy="719.40" rx="1.73" ry="1.58" fill="url(#gb)"/>
<ellipse cx="245.10" cy="720.90" rx="1.73" ry="1.58" fill="url(#gb)"/>
<ellipse cx="178.10" cy="749.25" rx="3.02" ry="3.41" fill="url(#gp)"/>
<ellipse cx="190.38" cy="748.95" rx="2.31" ry="2.10" fill="url(#gc)"/>
<ellipse cx="217.74" cy="751.45" rx="6.93" ry="6.30" fill="url(#gh)"/>
<ellipse cx="230.03" cy="740.41" rx="3.62" ry="4.10" fill="url(#gp)"/>
<ellipse cx="242.31" cy="751.45" rx="2.42" ry="2.73" fill="url(#gp)"/>
<ellipse cx="179.96" cy="774.27" rx="3.47" ry="3.15" fill="url(#gh)"/>
<ellipse cx="191.31" cy="777.96" rx="3.47" ry="3.15" fill="url(#gh)"/>
<ellipse cx="204.53" cy="777.76" rx="3.47" ry="3.15" fill="url(#ghy)"/>
<ellipse cx="217.74" cy="779.25" rx="6.93" ry="6.30" fill="url(#gh)"/>
<ellipse cx="217.74" cy="769.79" rx="2.89" ry="2.62" fill="url(#gc)"/>
<ellipse cx="229.09" cy="803.07" rx="3.62" ry="4.10" fill="url(#gp)"/>
<ellipse cx="242.31" cy="812.78" rx="3.62" ry="4.10" fill="url(#gp)"/>
<ellipse cx="257.03" cy="712.90" rx="4.23" ry="4.78" fill="url(#gp)"/>
<ellipse cx="268.62" cy="726.90" rx="3.62" ry="4.10" fill="url(#gp)"/>
<ellipse cx="284.99" cy="720.90" rx="2.89" ry="2.62" fill="url(#gb)"/>
<ellipse cx="307.23" cy="712.90" rx="3.47" ry="3.15" fill="url(#gb)"/>
<ellipse cx="255.12" cy="748.74" rx="3.47" ry="3.15" fill="url(#gh)"/>
<ellipse cx="284.03" cy="749.45" rx="2.31" ry="2.10" fill="url(#gb)"/>
<ellipse cx="295.63" cy="750.45" rx="4.04" ry="3.68" fill="url(#gb)"/>
<ellipse cx="307.23" cy="740.92" rx="4.04" ry="3.68" fill="url(#gb)"/>
<ellipse cx="269.10" cy="780.05" rx="5.54" ry="5.04" fill="url(#gh)"/>
<ellipse cx="280.22" cy="781.74" rx="4.04" ry="3.68" fill="url(#gc)"/>
<ellipse cx="284.03" cy="779.75" rx="2.31" ry="2.10" fill="url(#gh)"/>
<ellipse cx="294.68" cy="778.75" rx="4.04" ry="3.68" fill="url(#gh)"/>
<ellipse cx="307.23" cy="768.79" rx="3.62" ry="4.10" fill="url(#gp)"/>
<ellipse cx="306.27" cy="779.75" rx="2.31" ry="2.10" fill="url(#gh)"/>
<ellipse cx="319.78" cy="798.99" rx="3.47" ry="3.15" fill="url(#gh)"/>
<ellipse cx="333.20" cy="714.90" rx="3.62" ry="4.10" fill="url(#gp)"/>
<ellipse cx="371.29" cy="717.90" rx="2.08" ry="1.89" fill="url(#gb)"/>
<ellipse cx="383.68" cy="710.90" rx="3.02" ry="3.41" fill="url(#gp)"/>
<ellipse cx="396.06" cy="712.90" rx="3.02" ry="3.41" fill="url(#gp)"/>
<ellipse cx="332.26" cy="748.44" rx="5.43" ry="6.14" fill="url(#gp)"/>
<ellipse cx="346.52" cy="748.44" rx="2.89" ry="2.62" fill="url(#gb)"/>
<ellipse cx="356.09" cy="751.45" rx="2.89" ry="2.62" fill="url(#gb)"/>
<ellipse cx="370.35" cy="749.45" rx="4.04" ry="3.68" fill="url(#gb)"/>
<ellipse cx="383.68" cy="739.91" rx="3.62" ry="4.10" fill="url(#gp)"/>
<ellipse cx="379.91" cy="751.45" rx="2.31" ry="2.10" fill="url(#gb)"/>
<ellipse cx="346.52" cy="777.26" rx="5.54" ry="5.04" fill="url(#gh)"/>
<ellipse cx="357.97" cy="784.73" rx="2.89" ry="2.62" fill="url(#gb)"/>
<ellipse cx="370.35" cy="779.75" rx="2.89" ry="2.62" fill="url(#gb)"/>
<ellipse cx="396.06" cy="768.79" rx="2.89" ry="2.62" fill="url(#gc)"/>
<ellipse cx="357.97" cy="814.31" rx="4.04" ry="3.68" fill="url(#ghy)"/>
<ellipse cx="370.35" cy="811.25" rx="3.47" ry="3.15" fill="url(#gb)"/>
<ellipse cx="383.68" cy="796.94" rx="1.73" ry="1.58" fill="url(#gb)"/>
<ellipse cx="421.13" cy="722.90" rx="2.31" ry="2.10" fill="url(#gb)"/>
<ellipse cx="435.12" cy="709.90" rx="2.89" ry="2.62" fill="url(#gb)"/>
<ellipse cx="408.06" cy="752.46" rx="1.73" ry="1.58" fill="url(#gb)"/>
<ellipse cx="421.13" cy="750.45" rx="3.47" ry="3.15" fill="url(#gb)"/>
<ellipse cx="435.12" cy="740.41" rx="2.31" ry="2.10" fill="url(#gb)"/>
<ellipse cx="447.27" cy="738.41" rx="2.31" ry="2.10" fill="url(#gb)"/>
<ellipse cx="460.35" cy="756.47" rx="2.31" ry="2.10" fill="url(#gb)"/>
<ellipse cx="474.34" cy="752.46" rx="2.31" ry="2.10" fill="url(#gb)"/>
<ellipse cx="408.98" cy="780.75" rx="3.47" ry="3.15" fill="url(#gc)"/>
<ellipse cx="420.21" cy="781.74" rx="2.89" ry="2.62" fill="url(#gb)"/>
<ellipse cx="435.12" cy="770.48" rx="5.20" ry="4.73" fill="url(#ghy)"/>
<ellipse cx="447.27" cy="768.29" rx="2.42" ry="2.73" fill="url(#gp)"/>
<ellipse cx="459.42" cy="784.73" rx="2.89" ry="2.62" fill="url(#gc)"/>
<ellipse cx="435.12" cy="798.48" rx="4.62" ry="4.20" fill="url(#gh)"/>
<ellipse cx="446.35" cy="798.99" rx="3.47" ry="3.15" fill="url(#gc)"/>
<ellipse cx="459.42" cy="807.16" rx="1.73" ry="1.58" fill="url(#gb)"/>
<ellipse cx="471.57" cy="809.21" rx="4.62" ry="4.20" fill="url(#ghy)"/>
<text x="61.40" y="698.90" font-size="7.8" text-anchor="middle" fill="#333" textLength="12.50" lengthAdjust="spacingAndGlyphs">Ctrl</text>
<text x="136.90" y="698.90" font-size="7.8" text-anchor="middle" fill="#333" textLength="44.40" lengthAdjust="spacingAndGlyphs">GARP<tspan dy="-2.6" font-size="5">+</tspan><tspan dy="2.6">CD4</tspan><tspan dy="-2.6" font-size="5">+</tspan><tspan dy="2.6">T</tspan></text>
<text x="211.60" y="689.60" font-size="7.8" text-anchor="middle" fill="#333" textLength="42.80" lengthAdjust="spacingAndGlyphs">GARP<tspan dy="-2.6" font-size="5">+</tspan><tspan dy="2.6">CD4</tspan><tspan dy="-2.6" font-size="5">+</tspan><tspan dy="2.6">T</tspan></text>
<text x="211.70" y="698.90" font-size="7.8" text-anchor="middle" fill="#333" textLength="48.50" lengthAdjust="spacingAndGlyphs">+ Latent TGF-β1</text>
<text x="290.40" y="698.90" font-size="7.8" text-anchor="middle" fill="#333" textLength="48.00" lengthAdjust="spacingAndGlyphs">Active TGF-β1</text>
<text x="365.50" y="688.70" font-size="7.8" text-anchor="middle" fill="#333" textLength="93.70" lengthAdjust="spacingAndGlyphs">GARP<tspan dy="-2.6" font-size="5">+</tspan><tspan dy="2.6">CD4</tspan><tspan dy="-2.6" font-size="5">+</tspan><tspan dy="2.6">T</tspan> + Latent TGF-β1</text>
<text x="366.70" y="697.70" font-size="7.8" text-anchor="middle" fill="#333" textLength="41.20" lengthAdjust="spacingAndGlyphs">+ Galunisertib</text>
<text x="441.50" y="690.90" font-size="7.8" text-anchor="middle" fill="#333" textLength="42.70" lengthAdjust="spacingAndGlyphs">Active TGF-β1</text>
<text x="441.70" y="699.30" font-size="7.8" text-anchor="middle" fill="#333" textLength="40.20" lengthAdjust="spacingAndGlyphs">+ Galunisertib</text>
<text x="19.60" y="722.70" font-size="8.8" text-anchor="end" fill="#333" textLength="8.90" lengthAdjust="spacingAndGlyphs">d 7</text>
<text x="19.60" y="752.40" font-size="8.8" text-anchor="end" fill="#333" textLength="12.90" lengthAdjust="spacingAndGlyphs">d 14</text>
<text x="19.60" y="783.00" font-size="8.8" text-anchor="end" fill="#333" textLength="12.90" lengthAdjust="spacingAndGlyphs">d 28</text>
<text x="19.60" y="812.70" font-size="8.8" text-anchor="end" fill="#333" textLength="12.90" lengthAdjust="spacingAndGlyphs">d 35</text>
<text x="480.20" y="695.10" font-size="7.8" fill="#333" textLength="27.50" lengthAdjust="spacingAndGlyphs">Radiance</text>
<text x="480.20" y="702.50" font-size="7.8" fill="#333" textLength="34.50" lengthAdjust="spacingAndGlyphs">(p/s/cm<tspan dy="-2.4" font-size="4.8">2</tspan><tspan dy="2.4">/sr)</tspan></text>
<defs><linearGradient id="cb1" x1="0" y1="0" x2="0" y2="1"><stop offset="0" stop-color="#e0502a"/><stop offset="0.12" stop-color="#f0a020"/><stop offset="0.3" stop-color="#e8e040"/><stop offset="0.45" stop-color="#60b848"/><stop offset="0.75" stop-color="#50b060"/><stop offset="0.9" stop-color="#40a8d8"/><stop offset="1" stop-color="#70a8e0"/></linearGradient><linearGradient id="cb2" x1="0" y1="0" x2="0" y2="1"><stop offset="0" stop-color="#e0502a"/><stop offset="0.12" stop-color="#f0a020"/><stop offset="0.3" stop-color="#e8e040"/><stop offset="0.45" stop-color="#60b848"/><stop offset="0.72" stop-color="#50b060"/><stop offset="0.85" stop-color="#30a8e0"/><stop offset="1" stop-color="#1c3c9c"/></linearGradient></defs>
<rect x="479.80" y="707.40" width="3.30" height="26.50" fill="url(#cb1)" stroke="none" stroke-width="1" />
<text x="486.60" y="713.80" font-size="6.3" fill="#444" textLength="22.00" lengthAdjust="spacingAndGlyphs">2.0×10<tspan dy="-2.4" font-size="4.6">5</tspan></text>
<text x="486.60" y="723.10" font-size="6.3" fill="#444" textLength="22.00" lengthAdjust="spacingAndGlyphs">1.5×10<tspan dy="-2.4" font-size="4.6">5</tspan></text>
<text x="486.60" y="732.40" font-size="6.3" fill="#444" textLength="22.00" lengthAdjust="spacingAndGlyphs">1.0×10<tspan dy="-2.4" font-size="4.6">5</tspan></text>
<rect x="479.80" y="736.90" width="3.30" height="26.60" fill="url(#cb2)" stroke="none" stroke-width="1" />
<text x="486.60" y="743.30" font-size="6.3" fill="#444" textLength="22.00" lengthAdjust="spacingAndGlyphs">4.0×10<tspan dy="-2.4" font-size="4.6">7</tspan></text>
<text x="486.60" y="752.60" font-size="6.3" fill="#444" textLength="22.00" lengthAdjust="spacingAndGlyphs">2.0×10<tspan dy="-2.4" font-size="4.6">7</tspan></text>
<text x="486.60" y="761.90" font-size="6.3" fill="#444" textLength="22.00" lengthAdjust="spacingAndGlyphs">1.0×10<tspan dy="-2.4" font-size="4.6">7</tspan></text>
<rect x="479.80" y="766.30" width="3.30" height="26.40" fill="url(#cb2)" stroke="none" stroke-width="1" />
<text x="486.60" y="772.70" font-size="6.3" fill="#444" textLength="22.00" lengthAdjust="spacingAndGlyphs">6.0×10<tspan dy="-2.4" font-size="4.6">7</tspan></text>
<text x="486.60" y="782.00" font-size="6.3" fill="#444" textLength="22.00" lengthAdjust="spacingAndGlyphs">3.0×10<tspan dy="-2.4" font-size="4.6">7</tspan></text>
<text x="486.60" y="791.30" font-size="6.3" fill="#444" textLength="22.00" lengthAdjust="spacingAndGlyphs">1.0×10<tspan dy="-2.4" font-size="4.6">7</tspan></text>
<rect x="479.80" y="795.40" width="3.30" height="26.60" fill="url(#cb2)" stroke="none" stroke-width="1" />
<text x="486.60" y="801.80" font-size="6.3" fill="#444" textLength="22.00" lengthAdjust="spacingAndGlyphs">4.0×10<tspan dy="-2.4" font-size="4.6">8</tspan></text>
<text x="486.60" y="811.10" font-size="6.3" fill="#444" textLength="22.00" lengthAdjust="spacingAndGlyphs">2.0×10<tspan dy="-2.4" font-size="4.6">8</tspan></text>
<text x="486.60" y="820.40" font-size="6.3" fill="#444" textLength="22.00" lengthAdjust="spacingAndGlyphs">1.0×10<tspan dy="-2.4" font-size="4.6">8</tspan></text></svg>
</body></html>
